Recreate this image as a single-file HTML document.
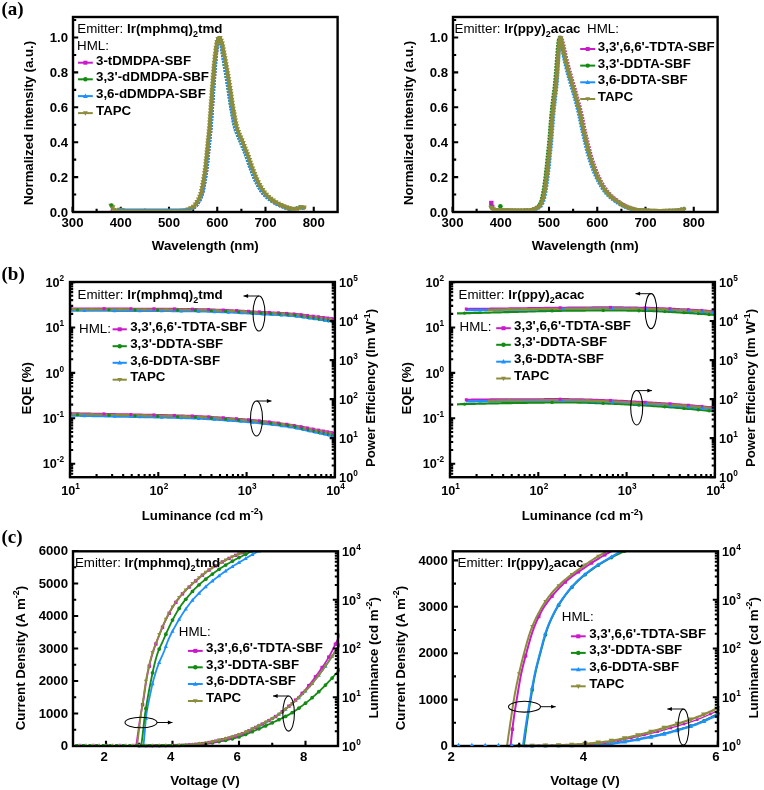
<!DOCTYPE html>
<html lang="en"><head><meta charset="utf-8"><title>Figure</title>
<style>html,body{margin:0;padding:0;background:#fff}svg{display:block}text{font-family:"Liberation Sans",Arial,Helvetica,sans-serif;fill:#000}.ser{font-family:"Liberation Serif","Times New Roman",serif}</style></head><body>
<svg width="764" height="790" viewBox="0 0 764 790">
<rect width="764" height="790" fill="#fff"/>
<defs><clipPath id="cb"><rect x="0" y="0" width="764" height="520.2"/></clipPath><filter id="soft" x="0" y="0" width="764" height="790" filterUnits="userSpaceOnUse"><feGaussianBlur stdDeviation="0.42"/></filter></defs>
<g filter="url(#soft)">
<text class="ser" x="1.5" y="14.9" font-size="19" font-weight="bold">(a)</text>
<text class="ser" x="1.5" y="279.7" font-size="19" font-weight="bold">(b)</text>
<text class="ser" x="1.5" y="542.9" font-size="19" font-weight="bold">(c)</text>
<clipPath id="ca73"><rect x="73" y="17" width="264.6" height="194.1"/></clipPath>
<rect x="73" y="17" width="264.6" height="195" stroke="#000" stroke-width="2.4" fill="none" stroke-linecap="square"/>
<path d="M73 212h5.2M73 177.1h5.2M73 142.2h5.2M73 107.3h5.2M73 72.4h5.2M73 37.5h5.2M73 194.55h3.2M73 159.65h3.2M73 124.75h3.2M73 89.85h3.2M73 54.95h3.2M73 20.05h3.2M72.5 212v-5.2M120.75 212v-5.2M169 212v-5.2M217.25 212v-5.2M265.5 212v-5.2M313.75 212v-5.2M96.62 212v-3.2M144.88 212v-3.2M193.12 212v-3.2M241.38 212v-3.2M289.62 212v-3.2" stroke="#000" stroke-width="2.1" fill="none"/>
<g clip-path="url(#ca73)">
<path d="M111.1 208.86 L111.58 209.04 L112.06 209.49 L112.55 209.97 L113.03 210.33 L113.51 210.54 L114 210.64 L114.48 210.69 L114.96 210.72 L115.44 210.74 L115.92 210.76 L116.41 210.78 L116.89 210.8 L117.37 210.82 L117.85 210.84 L118.34 210.86 L118.82 210.87 L119.3 210.89 L119.78 210.9 L120.27 210.92 L120.75 210.93 L121.23 210.94 L121.72 210.95 L122.2 210.95 L122.68 210.96 L123.16 210.97 L123.64 210.97 L124.13 210.98 L124.61 210.99 L125.09 210.99 L125.57 211 L126.06 211 L126.54 211.01 L127.02 211.01 L127.5 211.02 L127.99 211.02 L128.47 211.03 L128.95 211.03 L129.44 211.04 L129.92 211.04 L130.4 211.05 L130.88 211.05 L131.37 211.06 L131.85 211.06 L132.33 211.07 L132.81 211.07 L133.29 211.07 L133.78 211.08 L134.26 211.08 L134.74 211.08 L135.22 211.09 L135.71 211.09 L136.19 211.09 L136.67 211.1 L137.16 211.1 L137.64 211.1 L138.12 211.11 L138.6 211.11 L139.08 211.11 L139.57 211.11 L140.05 211.11 L140.53 211.12 L141.01 211.12 L141.5 211.12 L141.98 211.12 L142.46 211.12 L142.94 211.12 L143.43 211.12 L143.91 211.13 L144.39 211.13 L144.88 211.13 L145.36 211.13 L145.84 211.13 L146.32 211.13 L146.81 211.13 L147.29 211.13 L147.77 211.13 L148.25 211.13 L148.74 211.13 L149.22 211.13 L149.7 211.13 L150.18 211.13 L150.66 211.13 L151.15 211.13 L151.63 211.13 L152.11 211.13 L152.59 211.13 L153.08 211.13 L153.56 211.13 L154.04 211.13 L154.52 211.13 L155.01 211.13 L155.49 211.13 L155.97 211.13 L156.45 211.13 L156.94 211.13 L157.42 211.13 L157.9 211.13 L158.38 211.13 L158.87 211.13 L159.35 211.13 L159.83 211.13 L160.31 211.13 L160.8 211.13 L161.28 211.13 L161.76 211.13 L162.25 211.13 L162.73 211.13 L163.21 211.13 L163.69 211.13 L164.18 211.13 L164.66 211.13 L165.14 211.13 L165.62 211.13 L166.11 211.13 L166.59 211.13 L167.07 211.13 L167.55 211.13 L168.03 211.13 L168.52 211.13 L169 211.13 L169.48 211.13 L169.97 211.13 L170.45 211.13 L170.93 211.13 L171.41 211.13 L171.89 211.12 L172.38 211.12 L172.86 211.12 L173.34 211.11 L173.82 211.11 L174.31 211.1 L174.79 211.1 L175.27 211.09 L175.75 211.08 L176.24 211.08 L176.72 211.07 L177.2 211.06 L177.69 211.05 L178.17 211.03 L178.65 211.02 L179.13 211.01 L179.62 210.99 L180.1 210.98 L180.58 210.96 L181.06 210.94 L181.55 210.93 L182.03 210.91 L182.51 210.89 L182.99 210.87 L183.47 210.85 L183.96 210.82 L184.44 210.8 L184.92 210.77 L185.41 210.72 L185.89 210.63 L186.37 210.52 L186.85 210.38 L187.33 210.22 L187.82 210.05 L188.3 209.87 L188.78 209.7 L189.26 209.52 L189.75 209.35 L190.23 209.17 L190.71 208.98 L191.19 208.79 L191.68 208.58 L192.16 208.36 L192.64 208.12 L193.12 207.86 L193.61 207.59 L194.09 207.29 L194.57 206.97 L195.06 206.63 L195.54 206.23 L196.02 205.74 L196.5 205.18 L196.99 204.55 L197.47 203.86 L197.95 203.12 L198.43 202.34 L198.91 201.52 L199.4 200.67 L199.88 199.74 L200.36 198.72 L200.84 197.61 L201.33 196.37 L201.81 195.01 L202.29 193.5 L202.78 191.69 L203.26 189.48 L203.74 186.98 L204.22 184.3 L204.7 181.52 L205.19 178.73 L205.67 175.81 L206.15 172.67 L206.63 169.19 L207.12 165.17 L207.6 160.27 L208.08 155.14 L208.56 150.26 L209.05 145.39 L209.53 140.51 L210.01 135.86 L210.5 131.01 L210.98 125.1 L211.46 117.82 L211.94 110.89 L212.42 104.14 L212.91 97.04 L213.39 89.78 L213.87 82.89 L214.35 76.42 L214.84 70.02 L215.32 63.93 L215.8 58.41 L216.28 53.62 L216.77 49.03 L217.25 45 L217.73 42.07 L218.22 40.08 L218.7 38.43 L219.18 37.55 L219.66 37.76 L220.14 38.8 L220.63 40.32 L221.11 41.99 L221.59 44.16 L222.07 46.99 L222.56 50.14 L223.04 53.33 L223.52 56.33 L224 59.19 L224.49 62.06 L224.97 64.93 L225.45 67.82 L225.94 70.72 L226.42 73.64 L226.9 76.57 L227.38 79.5 L227.87 82.46 L228.35 85.49 L228.83 88.63 L229.31 91.84 L229.79 95.09 L230.28 98.34 L230.76 101.55 L231.24 104.67 L231.72 107.69 L232.21 110.55 L232.69 113.27 L233.17 115.99 L233.66 118.67 L234.14 121.25 L234.62 123.66 L235.1 125.84 L235.59 127.73 L236.07 129.33 L236.55 130.78 L237.03 132.11 L237.51 133.34 L238 134.49 L238.48 135.59 L238.96 136.65 L239.44 137.7 L239.93 138.77 L240.41 139.87 L240.89 141.03 L241.38 142.23 L241.86 143.43 L242.34 144.61 L242.82 145.8 L243.31 146.99 L243.79 148.18 L244.27 149.38 L244.75 150.6 L245.23 151.83 L245.72 153.09 L246.2 154.37 L246.68 155.69 L247.16 157.06 L247.65 158.45 L248.13 159.87 L248.61 161.29 L249.09 162.71 L249.58 164.11 L250.06 165.48 L250.54 166.81 L251.03 168.1 L251.51 169.39 L251.99 170.68 L252.47 171.96 L252.95 173.23 L253.44 174.47 L253.92 175.69 L254.4 176.87 L254.88 178 L255.37 179.09 L255.85 180.12 L256.33 181.1 L256.81 182.06 L257.3 183.01 L257.78 183.95 L258.26 184.86 L258.75 185.76 L259.23 186.64 L259.71 187.49 L260.19 188.32 L260.67 189.12 L261.16 189.88 L261.64 190.62 L262.12 191.33 L262.61 192 L263.09 192.63 L263.57 193.22 L264.05 193.78 L264.53 194.31 L265.02 194.82 L265.5 195.32 L265.98 195.8 L266.47 196.27 L266.95 196.72 L267.43 197.16 L267.91 197.58 L268.39 197.99 L268.88 198.38 L269.36 198.77 L269.84 199.14 L270.32 199.51 L270.81 199.86 L271.29 200.21 L271.77 200.54 L272.25 200.87 L272.74 201.2 L273.22 201.51 L273.7 201.82 L274.19 202.13 L274.67 202.42 L275.15 202.71 L275.63 203 L276.12 203.27 L276.6 203.54 L277.08 203.8 L277.56 204.06 L278.04 204.31 L278.53 204.55 L279.01 204.78 L279.49 205.01 L279.98 205.23 L280.46 205.44 L280.94 205.64 L281.42 205.84 L281.9 206.03 L282.39 206.23 L282.87 206.43 L283.35 206.63 L283.83 206.82 L284.32 207.01 L284.8 207.2 L285.28 207.38 L285.76 207.56 L286.25 207.72 L286.73 207.88 L287.21 208.03 L287.69 208.17 L288.18 208.29 L288.66 208.41 L289.14 208.51 L289.62 208.59 L290.11 208.66 L290.59 208.72 L291.07 208.77 L291.56 208.82 L292.04 208.87 L292.52 208.91 L293 208.95 L293.49 208.98 L293.97 209.01 L294.45 209.02 L294.93 209.03 L295.41 209.02 L295.9 208.93 L296.38 208.79 L296.86 208.6 L297.35 208.37 L297.83 208.14 L298.31 207.9 L298.79 207.69 L299.27 207.5 L299.76 207.37 L300.24 207.3 L300.72 207.29 L301.2 207.32 L301.69 207.38 L302.17 207.46 L302.65 207.57 L303.13 207.71 L303.62 207.88 L304.1 208.07 L304.58 208.16" stroke="#c91ac9" stroke-width="3.8" fill="none" stroke-linejoin="round" stroke-dasharray="1.8 1.2"/>
<path d="M111.1 208.73 L111.58 208.51 L112.06 208.73 L112.55 209.28 L113.03 209.87 L113.51 210.31 L114 210.56 L114.48 210.67 L114.96 210.72 L115.44 210.75 L115.92 210.77 L116.41 210.79 L116.89 210.81 L117.37 210.83 L117.85 210.85 L118.34 210.87 L118.82 210.88 L119.3 210.9 L119.78 210.91 L120.27 210.92 L120.75 210.93 L121.23 210.94 L121.72 210.95 L122.2 210.96 L122.68 210.96 L123.16 210.97 L123.64 210.98 L124.13 210.98 L124.61 210.99 L125.09 210.99 L125.57 211 L126.06 211.01 L126.54 211.01 L127.02 211.02 L127.5 211.02 L127.99 211.03 L128.47 211.03 L128.95 211.04 L129.44 211.04 L129.92 211.05 L130.4 211.05 L130.88 211.06 L131.37 211.06 L131.85 211.06 L132.33 211.07 L132.81 211.07 L133.29 211.08 L133.78 211.08 L134.26 211.08 L134.74 211.09 L135.22 211.09 L135.71 211.09 L136.19 211.1 L136.67 211.1 L137.16 211.1 L137.64 211.1 L138.12 211.11 L138.6 211.11 L139.08 211.11 L139.57 211.11 L140.05 211.12 L140.53 211.12 L141.01 211.12 L141.5 211.12 L141.98 211.12 L142.46 211.12 L142.94 211.12 L143.43 211.13 L143.91 211.13 L144.39 211.13 L144.88 211.13 L145.36 211.13 L145.84 211.13 L146.32 211.13 L146.81 211.13 L147.29 211.13 L147.77 211.13 L148.25 211.13 L148.74 211.13 L149.22 211.13 L149.7 211.13 L150.18 211.13 L150.66 211.13 L151.15 211.13 L151.63 211.13 L152.11 211.13 L152.59 211.13 L153.08 211.13 L153.56 211.13 L154.04 211.13 L154.52 211.13 L155.01 211.13 L155.49 211.13 L155.97 211.13 L156.45 211.13 L156.94 211.13 L157.42 211.13 L157.9 211.13 L158.38 211.13 L158.87 211.13 L159.35 211.13 L159.83 211.13 L160.31 211.13 L160.8 211.13 L161.28 211.13 L161.76 211.13 L162.25 211.13 L162.73 211.13 L163.21 211.13 L163.69 211.13 L164.18 211.13 L164.66 211.13 L165.14 211.13 L165.62 211.13 L166.11 211.13 L166.59 211.13 L167.07 211.13 L167.55 211.13 L168.03 211.13 L168.52 211.13 L169 211.13 L169.48 211.13 L169.97 211.13 L170.45 211.13 L170.93 211.13 L171.41 211.12 L171.89 211.12 L172.38 211.12 L172.86 211.12 L173.34 211.11 L173.82 211.11 L174.31 211.1 L174.79 211.09 L175.27 211.09 L175.75 211.08 L176.24 211.07 L176.72 211.06 L177.2 211.05 L177.69 211.04 L178.17 211.03 L178.65 211.01 L179.13 211 L179.62 210.98 L180.1 210.97 L180.58 210.95 L181.06 210.93 L181.55 210.92 L182.03 210.9 L182.51 210.88 L182.99 210.85 L183.47 210.83 L183.96 210.81 L184.44 210.78 L184.92 210.75 L185.41 210.67 L185.89 210.57 L186.37 210.44 L186.85 210.28 L187.33 210.12 L187.82 209.95 L188.3 209.77 L188.78 209.59 L189.26 209.42 L189.75 209.24 L190.23 209.06 L190.71 208.87 L191.19 208.66 L191.68 208.45 L192.16 208.22 L192.64 207.97 L193.12 207.7 L193.61 207.41 L194.09 207.1 L194.57 206.77 L195.06 206.4 L195.54 205.95 L196.02 205.41 L196.5 204.81 L196.99 204.14 L197.47 203.42 L197.95 202.66 L198.43 201.85 L198.91 201.02 L199.4 200.12 L199.88 199.14 L200.36 198.07 L200.84 196.88 L201.33 195.57 L201.81 194.12 L202.29 192.46 L202.78 190.4 L203.26 188.01 L203.74 185.39 L204.22 182.63 L204.7 179.85 L205.19 177 L205.67 173.96 L206.15 170.63 L206.63 166.89 L207.12 162.3 L207.6 157.17 L208.08 152.21 L208.56 147.34 L209.05 142.46 L209.53 137.7 L210.01 133.03 L210.5 127.69 L210.98 120.79 L211.46 113.6 L211.94 106.86 L212.42 99.94 L212.91 92.68 L213.39 85.58 L213.87 79.02 L214.35 72.56 L214.84 66.3 L215.32 60.51 L215.8 55.46 L216.28 50.76 L216.77 46.42 L217.25 42.97 L217.73 40.75 L218.22 38.9 L218.7 37.7 L219.18 37.61 L219.66 38.52 L220.14 40.04 L220.63 41.79 L221.11 44 L221.59 46.96 L222.07 50.29 L222.56 53.64 L223.04 56.75 L223.52 59.74 L224 62.72 L224.49 65.69 L224.97 68.66 L225.45 71.63 L225.94 74.6 L226.42 77.58 L226.9 80.55 L227.38 83.55 L227.87 86.65 L228.35 89.84 L228.83 93.09 L229.31 96.35 L229.79 99.6 L230.28 102.78 L230.76 105.88 L231.24 108.84 L231.72 111.64 L232.21 114.35 L232.69 117.07 L233.17 119.71 L233.66 122.23 L234.14 124.56 L234.62 126.63 L235.1 128.39 L235.59 129.93 L236.07 131.33 L236.55 132.61 L237.03 133.81 L237.51 134.93 L238 136.01 L238.48 137.07 L238.96 138.13 L239.44 139.2 L239.93 140.33 L240.41 141.51 L240.89 142.71 L241.38 143.9 L241.86 145.09 L242.34 146.27 L242.82 147.46 L243.31 148.66 L243.79 149.87 L244.27 151.09 L244.75 152.33 L245.23 153.6 L245.72 154.89 L246.2 156.23 L246.68 157.61 L247.16 159.02 L247.65 160.44 L248.13 161.86 L248.61 163.27 L249.09 164.66 L249.58 166.02 L250.06 167.33 L250.54 168.62 L251.03 169.91 L251.51 171.2 L251.99 172.47 L252.47 173.73 L252.95 174.96 L253.44 176.17 L253.92 177.33 L254.4 178.45 L254.88 179.51 L255.37 180.51 L255.85 181.48 L256.33 182.44 L256.81 183.39 L257.3 184.32 L257.78 185.23 L258.26 186.11 L258.75 186.98 L259.23 187.82 L259.71 188.64 L260.19 189.43 L260.67 190.18 L261.16 190.91 L261.64 191.6 L262.12 192.25 L262.61 192.87 L263.09 193.45 L263.57 193.99 L264.05 194.52 L264.53 195.03 L265.02 195.52 L265.5 195.99 L265.98 196.45 L266.47 196.9 L266.95 197.33 L267.43 197.74 L267.91 198.15 L268.39 198.54 L268.88 198.92 L269.36 199.29 L269.84 199.65 L270.32 200 L270.81 200.34 L271.29 200.68 L271.77 201 L272.25 201.32 L272.74 201.64 L273.22 201.94 L273.7 202.25 L274.19 202.54 L274.67 202.83 L275.15 203.11 L275.63 203.38 L276.12 203.65 L276.6 203.91 L277.08 204.16 L277.56 204.41 L278.04 204.64 L278.53 204.87 L279.01 205.1 L279.49 205.31 L279.98 205.52 L280.46 205.72 L280.94 205.91 L281.42 206.11 L281.9 206.31 L282.39 206.51 L282.87 206.71 L283.35 206.9 L283.83 207.09 L284.32 207.27 L284.8 207.45 L285.28 207.62 L285.76 207.79 L286.25 207.94 L286.73 208.09 L287.21 208.22 L287.69 208.34 L288.18 208.45 L288.66 208.54 L289.14 208.62 L289.62 208.68 L290.11 208.74 L290.59 208.79 L291.07 208.84 L291.56 208.88 L292.04 208.93 L292.52 208.96 L293 208.99 L293.49 209.01 L293.97 209.03 L294.45 209.03 L294.93 208.99 L295.41 208.88 L295.9 208.71 L296.38 208.51 L296.86 208.28 L297.35 208.04 L297.83 207.81 L298.31 207.61 L298.79 207.44 L299.27 207.33 L299.76 207.29 L300.24 207.3 L300.72 207.34 L301.2 207.41 L301.69 207.5 L302.17 207.63 L302.65 207.78 L303.13 207.95 L303.62 208.16 L304.1 208.16 L304.58 208.16" stroke="#128a12" stroke-width="3.8" fill="none" stroke-linejoin="round" stroke-dasharray="1.8 1.2"/>
<path d="M111.1 209.04 L111.58 208.86 L112.06 209.04 L112.55 209.49 L113.03 209.99 L113.51 210.36 L114 210.57 L114.48 210.66 L114.96 210.71 L115.44 210.74 L115.92 210.76 L116.41 210.78 L116.89 210.8 L117.37 210.82 L117.85 210.84 L118.34 210.86 L118.82 210.87 L119.3 210.89 L119.78 210.9 L120.27 210.92 L120.75 210.93 L121.23 210.94 L121.72 210.95 L122.2 210.95 L122.68 210.96 L123.16 210.97 L123.64 210.97 L124.13 210.98 L124.61 210.99 L125.09 210.99 L125.57 211 L126.06 211 L126.54 211.01 L127.02 211.01 L127.5 211.02 L127.99 211.02 L128.47 211.03 L128.95 211.03 L129.44 211.04 L129.92 211.04 L130.4 211.05 L130.88 211.05 L131.37 211.06 L131.85 211.06 L132.33 211.07 L132.81 211.07 L133.29 211.07 L133.78 211.08 L134.26 211.08 L134.74 211.08 L135.22 211.09 L135.71 211.09 L136.19 211.09 L136.67 211.1 L137.16 211.1 L137.64 211.1 L138.12 211.11 L138.6 211.11 L139.08 211.11 L139.57 211.11 L140.05 211.11 L140.53 211.12 L141.01 211.12 L141.5 211.12 L141.98 211.12 L142.46 211.12 L142.94 211.12 L143.43 211.12 L143.91 211.13 L144.39 211.13 L144.88 211.13 L145.36 211.13 L145.84 211.13 L146.32 211.13 L146.81 211.13 L147.29 211.13 L147.77 211.13 L148.25 211.13 L148.74 211.13 L149.22 211.13 L149.7 211.13 L150.18 211.13 L150.66 211.13 L151.15 211.13 L151.63 211.13 L152.11 211.13 L152.59 211.13 L153.08 211.13 L153.56 211.13 L154.04 211.13 L154.52 211.13 L155.01 211.13 L155.49 211.13 L155.97 211.13 L156.45 211.13 L156.94 211.13 L157.42 211.13 L157.9 211.13 L158.38 211.13 L158.87 211.13 L159.35 211.13 L159.83 211.13 L160.31 211.13 L160.8 211.13 L161.28 211.13 L161.76 211.13 L162.25 211.13 L162.73 211.13 L163.21 211.13 L163.69 211.13 L164.18 211.13 L164.66 211.13 L165.14 211.13 L165.62 211.13 L166.11 211.13 L166.59 211.13 L167.07 211.13 L167.55 211.13 L168.03 211.13 L168.52 211.13 L169 211.13 L169.48 211.13 L169.97 211.13 L170.45 211.13 L170.93 211.13 L171.41 211.13 L171.89 211.12 L172.38 211.12 L172.86 211.12 L173.34 211.11 L173.82 211.11 L174.31 211.1 L174.79 211.1 L175.27 211.09 L175.75 211.08 L176.24 211.08 L176.72 211.07 L177.2 211.06 L177.69 211.05 L178.17 211.03 L178.65 211.02 L179.13 211.01 L179.62 210.99 L180.1 210.98 L180.58 210.96 L181.06 210.94 L181.55 210.93 L182.03 210.91 L182.51 210.89 L182.99 210.87 L183.47 210.85 L183.96 210.82 L184.44 210.8 L184.92 210.77 L185.41 210.72 L185.89 210.63 L186.37 210.52 L186.85 210.38 L187.33 210.22 L187.82 210.05 L188.3 209.87 L188.78 209.7 L189.26 209.52 L189.75 209.35 L190.23 209.17 L190.71 208.98 L191.19 208.79 L191.68 208.58 L192.16 208.36 L192.64 208.12 L193.12 207.86 L193.61 207.59 L194.09 207.29 L194.57 206.97 L195.06 206.63 L195.54 206.23 L196.02 205.74 L196.5 205.18 L196.99 204.55 L197.47 203.86 L197.95 203.12 L198.43 202.34 L198.91 201.52 L199.4 200.67 L199.88 199.74 L200.36 198.72 L200.84 197.61 L201.33 196.37 L201.81 195.01 L202.29 193.5 L202.78 191.69 L203.26 189.48 L203.74 186.98 L204.22 184.29 L204.7 181.52 L205.19 178.72 L205.67 175.81 L206.15 172.67 L206.63 169.19 L207.12 165.16 L207.6 160.26 L208.08 155.13 L208.56 150.24 L209.05 145.36 L209.53 140.48 L210.01 135.82 L210.5 130.96 L210.98 125.01 L211.46 117.7 L211.94 110.74 L212.42 103.95 L212.91 96.79 L213.39 89.48 L213.87 82.55 L214.35 75.99 L214.84 69.51 L215.32 63.34 L215.8 57.79 L216.28 52.93 L216.77 48.27 L217.25 44.29 L217.73 41.58 L218.22 39.57 L218.7 38.04 L219.18 37.5 L219.66 38.11 L220.14 39.46 L220.63 41.18 L221.11 43.13 L221.59 45.87 L222.07 49.1 L222.56 52.46 L223.04 55.67 L223.52 58.64 L224 61.61 L224.49 64.57 L224.97 67.53 L225.45 70.49 L225.94 73.45 L226.42 76.42 L226.9 79.39 L227.38 82.36 L227.87 85.41 L228.35 88.57 L228.83 91.79 L229.31 95.05 L229.79 98.31 L230.28 101.52 L230.76 104.66 L231.24 107.68 L231.72 110.54 L232.21 113.26 L232.69 115.99 L233.17 118.67 L233.66 121.25 L234.14 123.66 L234.62 125.84 L235.1 127.73 L235.59 129.33 L236.07 130.78 L236.55 132.11 L237.03 133.34 L237.51 134.49 L238 135.59 L238.48 136.65 L238.96 137.7 L239.44 138.77 L239.93 139.87 L240.41 141.03 L240.89 142.23 L241.38 143.43 L241.86 144.61 L242.34 145.8 L242.82 146.99 L243.31 148.18 L243.79 149.38 L244.27 150.6 L244.75 151.83 L245.23 153.09 L245.72 154.37 L246.2 155.69 L246.68 157.06 L247.16 158.45 L247.65 159.87 L248.13 161.29 L248.61 162.71 L249.09 164.11 L249.58 165.48 L250.06 166.81 L250.54 168.1 L251.03 169.39 L251.51 170.68 L251.99 171.96 L252.47 173.23 L252.95 174.47 L253.44 175.69 L253.92 176.87 L254.4 178 L254.88 179.09 L255.37 180.12 L255.85 181.1 L256.33 182.06 L256.81 183.01 L257.3 183.95 L257.78 184.86 L258.26 185.76 L258.75 186.64 L259.23 187.49 L259.71 188.32 L260.19 189.12 L260.67 189.88 L261.16 190.62 L261.64 191.33 L262.12 192 L262.61 192.63 L263.09 193.22 L263.57 193.78 L264.05 194.31 L264.53 194.82 L265.02 195.32 L265.5 195.8 L265.98 196.27 L266.47 196.72 L266.95 197.16 L267.43 197.58 L267.91 197.99 L268.39 198.38 L268.88 198.77 L269.36 199.14 L269.84 199.51 L270.32 199.86 L270.81 200.21 L271.29 200.54 L271.77 200.87 L272.25 201.2 L272.74 201.51 L273.22 201.82 L273.7 202.13 L274.19 202.42 L274.67 202.71 L275.15 203 L275.63 203.27 L276.12 203.54 L276.6 203.8 L277.08 204.06 L277.56 204.31 L278.04 204.55 L278.53 204.78 L279.01 205.01 L279.49 205.23 L279.98 205.44 L280.46 205.64 L280.94 205.84 L281.42 206.03 L281.9 206.23 L282.39 206.43 L282.87 206.63 L283.35 206.82 L283.83 207.01 L284.32 207.2 L284.8 207.38 L285.28 207.56 L285.76 207.72 L286.25 207.88 L286.73 208.03 L287.21 208.17 L287.69 208.29 L288.18 208.41 L288.66 208.51 L289.14 208.59 L289.62 208.66 L290.11 208.72 L290.59 208.77 L291.07 208.82 L291.56 208.87 L292.04 208.91 L292.52 208.95 L293 208.98 L293.49 209.01 L293.97 209.02 L294.45 209.03 L294.93 209.02 L295.41 208.93 L295.9 208.79 L296.38 208.6 L296.86 208.37 L297.35 208.14 L297.83 207.9 L298.31 207.69 L298.79 207.5 L299.27 207.37 L299.76 207.3 L300.24 207.29 L300.72 207.32 L301.2 207.38 L301.69 207.46 L302.17 207.57 L302.65 207.71 L303.13 207.88 L303.62 208.07 L304.1 208.16 L304.58 208.16" stroke="#1e90ff" stroke-width="3.8" fill="none" stroke-linejoin="round" stroke-dasharray="1.8 1.2"/>
<path d="M111.1 205.78 L111.58 205.39 L112.06 205.82 L112.55 206.89 L113.03 208.18 L113.51 209.29 L114 210.05 L114.48 210.48 L114.96 210.68 L115.44 210.77 L115.92 210.81 L116.41 210.82 L116.89 210.83 L117.37 210.8 L117.85 210.74 L118.34 210.61 L118.82 210.4 L119.3 210.13 L119.78 209.85 L120.27 209.63 L120.75 209.56 L121.23 209.65 L121.72 209.88 L122.2 210.18 L122.68 210.46 L123.16 210.69 L123.64 210.84 L124.13 210.93 L124.61 210.98 L125.09 211 L125.57 211.01 L126.06 211.02 L126.54 211.02 L127.02 211.03 L127.5 211.03 L127.99 211.04 L128.47 211.04 L128.95 211.05 L129.44 211.05 L129.92 211.06 L130.4 211.06 L130.88 211.06 L131.37 211.07 L131.85 211.07 L132.33 211.08 L132.81 211.08 L133.29 211.08 L133.78 211.09 L134.26 211.09 L134.74 211.09 L135.22 211.1 L135.71 211.1 L136.19 211.1 L136.67 211.11 L137.16 211.11 L137.64 211.11 L138.12 211.11 L138.6 211.11 L139.08 211.12 L139.57 211.12 L140.05 211.12 L140.53 211.12 L141.01 211.12 L141.5 211.12 L141.98 211.12 L142.46 211.13 L142.94 211.13 L143.43 211.13 L143.91 211.13 L144.39 211.13 L144.88 211.13 L145.36 211.13 L145.84 211.13 L146.32 211.13 L146.81 211.13 L147.29 211.13 L147.77 211.13 L148.25 211.13 L148.74 211.13 L149.22 211.13 L149.7 211.13 L150.18 211.13 L150.66 211.13 L151.15 211.13 L151.63 211.13 L152.11 211.13 L152.59 211.13 L153.08 211.13 L153.56 211.13 L154.04 211.13 L154.52 211.13 L155.01 211.13 L155.49 211.13 L155.97 211.13 L156.45 211.13 L156.94 211.13 L157.42 211.13 L157.9 211.13 L158.38 211.13 L158.87 211.13 L159.35 211.13 L159.83 211.13 L160.31 211.13 L160.8 211.13 L161.28 211.13 L161.76 211.13 L162.25 211.13 L162.73 211.13 L163.21 211.13 L163.69 211.13 L164.18 211.13 L164.66 211.13 L165.14 211.13 L165.62 211.13 L166.11 211.13 L166.59 211.13 L167.07 211.13 L167.55 211.13 L168.03 211.13 L168.52 211.13 L169 211.13 L169.48 211.13 L169.97 211.13 L170.45 211.12 L170.93 211.12 L171.41 211.12 L171.89 211.12 L172.38 211.11 L172.86 211.11 L173.34 211.1 L173.82 211.09 L174.31 211.09 L174.79 211.08 L175.27 211.07 L175.75 211.06 L176.24 211.05 L176.72 211.04 L177.2 211.02 L177.69 211.01 L178.17 211 L178.65 210.98 L179.13 210.97 L179.62 210.95 L180.1 210.93 L180.58 210.91 L181.06 210.89 L181.55 210.87 L182.03 210.85 L182.51 210.83 L182.99 210.8 L183.47 210.78 L183.96 210.73 L184.44 210.65 L184.92 210.54 L185.41 210.41 L185.89 210.25 L186.37 210.09 L186.85 209.91 L187.33 209.73 L187.82 209.56 L188.3 209.38 L188.78 209.21 L189.26 209.02 L189.75 208.83 L190.23 208.62 L190.71 208.4 L191.19 208.17 L191.68 207.92 L192.16 207.65 L192.64 207.35 L193.12 207.04 L193.61 206.7 L194.09 206.31 L194.57 205.85 L195.06 205.3 L195.54 204.68 L196.02 204 L196.5 203.27 L196.99 202.5 L197.47 201.69 L197.95 200.84 L198.43 199.93 L198.91 198.93 L199.4 197.84 L199.88 196.63 L200.36 195.3 L200.84 193.82 L201.33 192.09 L201.81 189.95 L202.29 187.5 L202.78 184.85 L203.26 182.08 L203.74 179.3 L204.22 176.43 L204.7 173.34 L205.19 169.95 L205.67 166.1 L206.15 161.36 L206.63 156.23 L207.12 151.33 L207.6 146.48 L208.08 141.64 L208.56 136.97 L209.05 132.3 L209.53 126.87 L210.01 119.94 L210.5 112.98 L210.98 106.44 L211.46 99.75 L211.94 92.82 L212.42 86.1 L212.91 79.95 L213.39 74.01 L213.87 68.3 L214.35 62.99 L214.84 58.26 L215.32 54.19 L215.8 50.33 L216.28 46.83 L216.77 43.92 L217.25 41.86 L217.73 40.33 L218.22 38.98 L218.7 37.98 L219.18 37.51 L219.66 37.68 L220.14 38.33 L220.63 39.34 L221.11 40.56 L221.59 41.86 L222.07 43.47 L222.56 45.59 L223.04 48.08 L223.52 50.78 L224 53.53 L224.49 56.17 L224.97 58.74 L225.45 61.37 L225.94 64.04 L226.42 66.76 L226.9 69.52 L227.38 72.31 L227.87 75.14 L228.35 78.01 L228.83 80.89 L229.31 83.82 L229.79 86.87 L230.28 90.02 L230.76 93.23 L231.24 96.46 L231.72 99.68 L232.21 102.85 L232.69 105.93 L233.17 108.88 L233.66 111.66 L234.14 114.37 L234.62 117.08 L235.1 119.73 L235.59 122.24 L236.07 124.57 L236.55 126.64 L237.03 128.39 L237.51 129.93 L238 131.33 L238.48 132.62 L238.96 133.81 L239.44 134.94 L239.93 136.01 L240.41 137.07 L240.89 138.13 L241.38 139.2 L241.86 140.33 L242.34 141.51 L242.82 142.71 L243.31 143.9 L243.79 145.09 L244.27 146.27 L244.75 147.46 L245.23 148.66 L245.72 149.87 L246.2 151.09 L246.68 152.33 L247.16 153.6 L247.65 154.89 L248.13 156.23 L248.61 157.61 L249.09 159.02 L249.58 160.44 L250.06 161.86 L250.54 163.27 L251.03 164.66 L251.51 166.02 L251.99 167.33 L252.47 168.62 L252.95 169.91 L253.44 171.2 L253.92 172.47 L254.4 173.73 L254.88 174.96 L255.37 176.17 L255.85 177.33 L256.33 178.45 L256.81 179.51 L257.3 180.51 L257.78 181.48 L258.26 182.44 L258.75 183.39 L259.23 184.32 L259.71 185.23 L260.19 186.11 L260.67 186.98 L261.16 187.82 L261.64 188.64 L262.12 189.43 L262.61 190.18 L263.09 190.91 L263.57 191.6 L264.05 192.25 L264.53 192.87 L265.02 193.45 L265.5 193.99 L265.98 194.52 L266.47 195.03 L266.95 195.52 L267.43 195.99 L267.91 196.45 L268.39 196.9 L268.88 197.33 L269.36 197.74 L269.84 198.15 L270.32 198.54 L270.81 198.92 L271.29 199.29 L271.77 199.65 L272.25 200 L272.74 200.34 L273.22 200.68 L273.7 201 L274.19 201.32 L274.67 201.64 L275.15 201.94 L275.63 202.25 L276.12 202.54 L276.6 202.83 L277.08 203.11 L277.56 203.38 L278.04 203.65 L278.53 203.91 L279.01 204.16 L279.49 204.41 L279.98 204.64 L280.46 204.87 L280.94 205.1 L281.42 205.31 L281.9 205.52 L282.39 205.72 L282.87 205.91 L283.35 206.11 L283.83 206.31 L284.32 206.51 L284.8 206.71 L285.28 206.9 L285.76 207.09 L286.25 207.27 L286.73 207.45 L287.21 207.62 L287.69 207.79 L288.18 207.94 L288.66 208.09 L289.14 208.22 L289.62 208.34 L290.11 208.45 L290.59 208.54 L291.07 208.62 L291.56 208.68 L292.04 208.74 L292.52 208.79 L293 208.84 L293.49 208.88 L293.97 208.93 L294.45 208.96 L294.93 208.99 L295.41 209.01 L295.9 209.03 L296.38 209.03 L296.86 208.99 L297.35 208.88 L297.83 208.71 L298.31 208.51 L298.79 208.28 L299.27 208.04 L299.76 207.81 L300.24 207.61 L300.72 207.44 L301.2 207.33 L301.69 207.29 L302.17 207.3 L302.65 207.34 L303.13 207.41 L303.62 207.5 L304.1 207.63 L304.58 207.78" stroke="#8c8c3c" stroke-width="3.4" fill="none" stroke-linejoin="round" stroke-linecap="round"/>
<path d="M111.1 208.77 L113.86 203.71 L108.34 203.71 Z" fill="#8c8c3c"/><path d="M112.74 210.41 L115.5 205.35 L109.98 205.35 Z" fill="#8c8c3c"/><path d="M114.05 213.09 L116.81 208.03 L111.29 208.03 Z" fill="#8c8c3c"/><path d="M116.85 213.82 L119.61 208.76 L114.09 208.76 Z" fill="#8c8c3c"/><path d="M119.66 212.91 L122.42 207.85 L116.9 207.85 Z" fill="#8c8c3c"/><path d="M122.41 213.29 L125.17 208.23 L119.65 208.23 Z" fill="#8c8c3c"/><path d="M125.28 213.99 L128.04 208.93 L122.52 208.93 Z" fill="#8c8c3c"/><path d="M128.28 214.03 L131.04 208.97 L125.52 208.97 Z" fill="#8c8c3c"/><path d="M131.28 214.06 L134.04 209 L128.52 209 Z" fill="#8c8c3c"/><path d="M134.28 214.08 L137.04 209.02 L131.52 209.02 Z" fill="#8c8c3c"/><path d="M137.28 214.1 L140.04 209.04 L134.52 209.04 Z" fill="#8c8c3c"/><path d="M140.28 214.11 L143.04 209.05 L137.52 209.05 Z" fill="#8c8c3c"/><path d="M143.28 214.12 L146.04 209.06 L140.52 209.06 Z" fill="#8c8c3c"/><path d="M146.28 214.12 L149.04 209.06 L143.52 209.06 Z" fill="#8c8c3c"/><path d="M149.28 214.12 L152.04 209.06 L146.52 209.06 Z" fill="#8c8c3c"/><path d="M152.28 214.12 L155.04 209.06 L149.52 209.06 Z" fill="#8c8c3c"/><path d="M155.28 214.12 L158.04 209.06 L152.52 209.06 Z" fill="#8c8c3c"/><path d="M158.28 214.12 L161.04 209.06 L155.52 209.06 Z" fill="#8c8c3c"/><path d="M161.28 214.12 L164.04 209.06 L158.52 209.06 Z" fill="#8c8c3c"/><path d="M164.28 214.12 L167.04 209.06 L161.52 209.06 Z" fill="#8c8c3c"/><path d="M167.28 214.12 L170.04 209.06 L164.52 209.06 Z" fill="#8c8c3c"/><path d="M170.28 214.12 L173.04 209.06 L167.52 209.06 Z" fill="#8c8c3c"/><path d="M173.28 214.09 L176.04 209.03 L170.52 209.03 Z" fill="#8c8c3c"/><path d="M176.28 214.04 L179.04 208.98 L173.52 208.98 Z" fill="#8c8c3c"/><path d="M179.28 213.95 L182.04 208.89 L176.52 208.89 Z" fill="#8c8c3c"/><path d="M182.28 213.83 L185.04 208.77 L179.52 208.77 Z" fill="#8c8c3c"/><path d="M185.24 213.44 L188 208.38 L182.48 208.38 Z" fill="#8c8c3c"/><path d="M188.07 212.46 L190.83 207.4 L185.31 207.4 Z" fill="#8c8c3c"/><path d="M190.85 211.32 L193.61 206.26 L188.09 206.26 Z" fill="#8c8c3c"/><path d="M193.44 209.81 L196.2 204.75 L190.68 204.75 Z" fill="#8c8c3c"/><path d="M195.53 207.68 L198.29 202.62 L192.77 202.62 Z" fill="#8c8c3c"/><path d="M197.17 205.17 L199.93 200.11 L194.41 200.11 Z" fill="#8c8c3c"/><path d="M198.62 202.54 L201.38 197.48 L195.86 197.48 Z" fill="#8c8c3c"/><path d="M199.81 199.79 L202.57 194.73 L197.05 194.73 Z" fill="#8c8c3c"/><path d="M200.8 196.96 L203.56 191.9 L198.04 191.9 Z" fill="#8c8c3c"/><path d="M201.56 194.06 L204.32 189 L198.8 189 Z" fill="#8c8c3c"/><path d="M202.17 191.12 L204.93 186.06 L199.41 186.06 Z" fill="#8c8c3c"/><path d="M202.71 188.17 L205.47 183.11 L199.95 183.11 Z" fill="#8c8c3c"/><path d="M203.23 185.22 L205.99 180.16 L200.47 180.16 Z" fill="#8c8c3c"/><path d="M203.74 182.26 L206.5 177.2 L200.98 177.2 Z" fill="#8c8c3c"/><path d="M204.24 179.3 L207 174.24 L201.48 174.24 Z" fill="#8c8c3c"/><path d="M204.7 176.34 L207.46 171.28 L201.94 171.28 Z" fill="#8c8c3c"/><path d="M205.13 173.37 L207.89 168.31 L202.37 168.31 Z" fill="#8c8c3c"/><path d="M205.51 170.39 L208.27 165.33 L202.75 165.33 Z" fill="#8c8c3c"/><path d="M205.84 167.41 L208.6 162.35 L203.08 162.35 Z" fill="#8c8c3c"/><path d="M206.14 164.43 L208.9 159.37 L203.38 159.37 Z" fill="#8c8c3c"/><path d="M206.43 161.44 L209.19 156.38 L203.67 156.38 Z" fill="#8c8c3c"/><path d="M206.71 158.45 L209.47 153.39 L203.95 153.39 Z" fill="#8c8c3c"/><path d="M207 155.47 L209.76 150.41 L204.24 150.41 Z" fill="#8c8c3c"/><path d="M207.3 152.48 L210.06 147.42 L204.54 147.42 Z" fill="#8c8c3c"/><path d="M207.6 149.5 L210.36 144.44 L204.84 144.44 Z" fill="#8c8c3c"/><path d="M207.89 146.51 L210.65 141.45 L205.13 141.45 Z" fill="#8c8c3c"/><path d="M208.2 143.53 L210.96 138.47 L205.44 138.47 Z" fill="#8c8c3c"/><path d="M208.5 140.54 L211.26 135.48 L205.74 135.48 Z" fill="#8c8c3c"/><path d="M208.81 137.56 L211.57 132.5 L206.05 132.5 Z" fill="#8c8c3c"/><path d="M209.11 134.57 L211.87 129.51 L206.35 129.51 Z" fill="#8c8c3c"/><path d="M209.38 131.59 L212.14 126.53 L206.62 126.53 Z" fill="#8c8c3c"/><path d="M209.62 128.6 L212.38 123.54 L206.86 123.54 Z" fill="#8c8c3c"/><path d="M209.83 125.6 L212.59 120.54 L207.07 120.54 Z" fill="#8c8c3c"/><path d="M210.03 122.61 L212.79 117.55 L207.27 117.55 Z" fill="#8c8c3c"/><path d="M210.24 119.62 L213 114.56 L207.48 114.56 Z" fill="#8c8c3c"/><path d="M210.45 116.63 L213.21 111.57 L207.69 111.57 Z" fill="#8c8c3c"/><path d="M210.67 113.63 L213.43 108.57 L207.91 108.57 Z" fill="#8c8c3c"/><path d="M210.89 110.64 L213.65 105.58 L208.13 105.58 Z" fill="#8c8c3c"/><path d="M211.11 107.65 L213.87 102.59 L208.35 102.59 Z" fill="#8c8c3c"/><path d="M211.32 104.66 L214.08 99.6 L208.56 99.6 Z" fill="#8c8c3c"/><path d="M211.53 101.66 L214.29 96.6 L208.77 96.6 Z" fill="#8c8c3c"/><path d="M211.74 98.67 L214.5 93.61 L208.98 93.61 Z" fill="#8c8c3c"/><path d="M211.95 95.68 L214.71 90.62 L209.19 90.62 Z" fill="#8c8c3c"/><path d="M212.17 92.69 L214.93 87.63 L209.41 87.63 Z" fill="#8c8c3c"/><path d="M212.38 89.69 L215.14 84.63 L209.62 84.63 Z" fill="#8c8c3c"/><path d="M212.61 86.7 L215.37 81.64 L209.85 81.64 Z" fill="#8c8c3c"/><path d="M212.85 83.71 L215.61 78.65 L210.09 78.65 Z" fill="#8c8c3c"/><path d="M213.09 80.72 L215.85 75.66 L210.33 75.66 Z" fill="#8c8c3c"/><path d="M213.33 77.73 L216.09 72.67 L210.57 72.67 Z" fill="#8c8c3c"/><path d="M213.58 74.74 L216.34 69.68 L210.82 69.68 Z" fill="#8c8c3c"/><path d="M213.83 71.75 L216.59 66.69 L211.07 66.69 Z" fill="#8c8c3c"/><path d="M214.1 68.77 L216.86 63.71 L211.34 63.71 Z" fill="#8c8c3c"/><path d="M214.38 65.78 L217.14 60.72 L211.62 60.72 Z" fill="#8c8c3c"/><path d="M214.68 62.79 L217.44 57.73 L211.92 57.73 Z" fill="#8c8c3c"/><path d="M215.01 59.81 L217.77 54.75 L212.25 54.75 Z" fill="#8c8c3c"/><path d="M215.36 56.83 L218.12 51.77 L212.6 51.77 Z" fill="#8c8c3c"/><path d="M215.74 53.86 L218.5 48.8 L212.98 48.8 Z" fill="#8c8c3c"/><path d="M216.14 50.88 L218.9 45.82 L213.38 45.82 Z" fill="#8c8c3c"/><path d="M216.6 47.92 L219.36 42.86 L213.84 42.86 Z" fill="#8c8c3c"/><path d="M217.22 44.98 L219.98 39.92 L214.46 39.92 Z" fill="#8c8c3c"/><path d="M218.16 42.14 L220.92 37.08 L215.4 37.08 Z" fill="#8c8c3c"/><path d="M219.98 41.1 L222.74 36.04 L217.22 36.04 Z" fill="#8c8c3c"/><path d="M221.21 43.83 L223.97 38.77 L218.45 38.77 Z" fill="#8c8c3c"/><path d="M222.13 46.68 L224.89 41.62 L219.37 41.62 Z" fill="#8c8c3c"/><path d="M222.76 49.61 L225.52 44.55 L220 44.55 Z" fill="#8c8c3c"/><path d="M223.31 52.56 L226.07 47.5 L220.55 47.5 Z" fill="#8c8c3c"/><path d="M223.83 55.52 L226.59 50.46 L221.07 50.46 Z" fill="#8c8c3c"/><path d="M224.36 58.47 L227.12 53.41 L221.6 53.41 Z" fill="#8c8c3c"/><path d="M224.91 61.42 L227.67 56.36 L222.15 56.36 Z" fill="#8c8c3c"/><path d="M225.45 64.37 L228.21 59.31 L222.69 59.31 Z" fill="#8c8c3c"/><path d="M225.99 67.32 L228.75 62.26 L223.23 62.26 Z" fill="#8c8c3c"/><path d="M226.51 70.27 L229.27 65.21 L223.75 65.21 Z" fill="#8c8c3c"/><path d="M227.02 73.23 L229.78 68.17 L224.26 68.17 Z" fill="#8c8c3c"/><path d="M227.53 76.19 L230.29 71.13 L224.77 71.13 Z" fill="#8c8c3c"/><path d="M228.04 79.14 L230.8 74.08 L225.28 74.08 Z" fill="#8c8c3c"/><path d="M228.53 82.1 L231.29 77.04 L225.77 77.04 Z" fill="#8c8c3c"/><path d="M229.02 85.06 L231.78 80 L226.26 80 Z" fill="#8c8c3c"/><path d="M229.5 88.02 L232.26 82.96 L226.74 82.96 Z" fill="#8c8c3c"/><path d="M229.97 90.99 L232.73 85.93 L227.21 85.93 Z" fill="#8c8c3c"/><path d="M230.42 93.95 L233.18 88.89 L227.66 88.89 Z" fill="#8c8c3c"/><path d="M230.87 96.92 L233.63 91.86 L228.11 91.86 Z" fill="#8c8c3c"/><path d="M231.31 99.89 L234.07 94.83 L228.55 94.83 Z" fill="#8c8c3c"/><path d="M231.75 102.85 L234.51 97.79 L228.99 97.79 Z" fill="#8c8c3c"/><path d="M232.2 105.82 L234.96 100.76 L229.44 100.76 Z" fill="#8c8c3c"/><path d="M232.67 108.78 L235.43 103.72 L229.91 103.72 Z" fill="#8c8c3c"/><path d="M233.15 111.74 L235.91 106.68 L230.39 106.68 Z" fill="#8c8c3c"/><path d="M233.66 114.7 L236.42 109.64 L230.9 109.64 Z" fill="#8c8c3c"/><path d="M234.19 117.65 L236.95 112.59 L231.43 112.59 Z" fill="#8c8c3c"/><path d="M234.72 120.61 L237.48 115.55 L231.96 115.55 Z" fill="#8c8c3c"/><path d="M235.26 123.56 L238.02 118.5 L232.5 118.5 Z" fill="#8c8c3c"/><path d="M235.85 126.5 L238.61 121.44 L233.09 121.44 Z" fill="#8c8c3c"/><path d="M236.5 129.43 L239.26 124.37 L233.74 124.37 Z" fill="#8c8c3c"/><path d="M237.32 132.31 L240.08 127.25 L234.56 127.25 Z" fill="#8c8c3c"/><path d="M238.31 135.15 L241.07 130.09 L235.55 130.09 Z" fill="#8c8c3c"/><path d="M239.44 137.92 L242.2 132.86 L236.68 132.86 Z" fill="#8c8c3c"/><path d="M240.68 140.65 L243.44 135.59 L237.92 135.59 Z" fill="#8c8c3c"/><path d="M241.89 143.4 L244.65 138.34 L239.13 138.34 Z" fill="#8c8c3c"/><path d="M243.02 146.18 L245.78 141.12 L240.26 141.12 Z" fill="#8c8c3c"/><path d="M244.15 148.96 L246.91 143.9 L241.39 143.9 Z" fill="#8c8c3c"/><path d="M245.27 151.74 L248.03 146.68 L242.51 146.68 Z" fill="#8c8c3c"/><path d="M246.37 154.53 L249.13 149.47 L243.61 149.47 Z" fill="#8c8c3c"/><path d="M247.44 157.33 L250.2 152.27 L244.68 152.27 Z" fill="#8c8c3c"/><path d="M248.46 160.16 L251.22 155.1 L245.7 155.1 Z" fill="#8c8c3c"/><path d="M249.43 162.99 L252.19 157.93 L246.67 157.93 Z" fill="#8c8c3c"/><path d="M250.4 165.83 L253.16 160.77 L247.64 160.77 Z" fill="#8c8c3c"/><path d="M251.39 168.67 L254.15 163.61 L248.63 163.61 Z" fill="#8c8c3c"/><path d="M252.43 171.48 L255.19 166.42 L249.67 166.42 Z" fill="#8c8c3c"/><path d="M253.48 174.29 L256.24 169.23 L250.72 169.23 Z" fill="#8c8c3c"/><path d="M254.55 177.09 L257.31 172.03 L251.79 172.03 Z" fill="#8c8c3c"/><path d="M255.67 179.88 L258.43 174.82 L252.91 174.82 Z" fill="#8c8c3c"/><path d="M256.87 182.62 L259.63 177.56 L254.11 177.56 Z" fill="#8c8c3c"/><path d="M258.2 185.31 L260.96 180.25 L255.44 180.25 Z" fill="#8c8c3c"/><path d="M259.58 187.98 L262.34 182.92 L256.82 182.92 Z" fill="#8c8c3c"/><path d="M261.04 190.6 L263.8 185.54 L258.28 185.54 Z" fill="#8c8c3c"/><path d="M262.6 193.16 L265.36 188.1 L259.84 188.1 Z" fill="#8c8c3c"/><path d="M264.33 195.61 L267.09 190.55 L261.57 190.55 Z" fill="#8c8c3c"/><path d="M266.31 197.86 L269.07 192.8 L263.55 192.8 Z" fill="#8c8c3c"/><path d="M268.46 199.95 L271.22 194.89 L265.7 194.89 Z" fill="#8c8c3c"/><path d="M270.76 201.88 L273.52 196.82 L268 196.82 Z" fill="#8c8c3c"/><path d="M273.19 203.64 L275.95 198.58 L270.43 198.58 Z" fill="#8c8c3c"/><path d="M275.7 205.28 L278.46 200.22 L272.94 200.22 Z" fill="#8c8c3c"/><path d="M278.3 206.78 L281.06 201.72 L275.54 201.72 Z" fill="#8c8c3c"/><path d="M280.99 208.11 L283.75 203.05 L278.23 203.05 Z" fill="#8c8c3c"/><path d="M283.75 209.27 L286.51 204.21 L280.99 204.21 Z" fill="#8c8c3c"/><path d="M286.54 210.37 L289.3 205.31 L283.78 205.31 Z" fill="#8c8c3c"/><path d="M289.4 211.28 L292.16 206.22 L286.64 206.22 Z" fill="#8c8c3c"/><path d="M292.36 211.76 L295.12 206.7 L289.6 206.7 Z" fill="#8c8c3c"/><path d="M295.35 212 L298.11 206.94 L292.59 206.94 Z" fill="#8c8c3c"/><path d="M298.27 211.52 L301.03 206.46 L295.51 206.46 Z" fill="#8c8c3c"/><path d="M301.03 210.36 L303.79 205.3 L298.27 205.3 Z" fill="#8c8c3c"/><path d="M303.99 210.59 L306.75 205.53 L301.23 205.53 Z" fill="#8c8c3c"/>
<circle cx="111.3" cy="204.9" r="1.76" fill="#128a12"/>
<path d="M117 208.8H190.71" stroke="#1e90ff" stroke-width="0.8" fill="none"/>
</g>
<text x="68" y="216.7" font-size="13.2" text-anchor="end" font-weight="bold" >0.0</text>
<text x="68" y="181.8" font-size="13.2" text-anchor="end" font-weight="bold" >0.2</text>
<text x="68" y="146.9" font-size="13.2" text-anchor="end" font-weight="bold" >0.4</text>
<text x="68" y="112" font-size="13.2" text-anchor="end" font-weight="bold" >0.6</text>
<text x="68" y="77.1" font-size="13.2" text-anchor="end" font-weight="bold" >0.8</text>
<text x="68" y="42.2" font-size="13.2" text-anchor="end" font-weight="bold" >1.0</text>
<text x="72.5" y="227.3" font-size="13.2" text-anchor="middle" font-weight="bold" >300</text>
<text x="120.75" y="227.3" font-size="13.2" text-anchor="middle" font-weight="bold" >400</text>
<text x="169" y="227.3" font-size="13.2" text-anchor="middle" font-weight="bold" >500</text>
<text x="217.25" y="227.3" font-size="13.2" text-anchor="middle" font-weight="bold" >600</text>
<text x="265.5" y="227.3" font-size="13.2" text-anchor="middle" font-weight="bold" >700</text>
<text x="313.75" y="227.3" font-size="13.2" text-anchor="middle" font-weight="bold" >800</text>
<text x="205.3" y="249.9" font-size="13.35" text-anchor="middle" font-weight="bold" >Wavelength (nm)</text>
<text transform="translate(32.7 123) rotate(-90)" font-size="13.2" text-anchor="middle" font-weight="bold">Normalized intensity (a.u.)</text>
<text x="77.3" y="32.5" font-size="13.35"><tspan font-weight="normal">Emitter: </tspan><tspan font-weight="bold">Ir(mphmq)<tspan dy="4.2" font-size="9">2</tspan><tspan dy="-4.2">tmd</tspan></tspan></text>
<text x="77.1" y="50.3" font-size="13.35" text-anchor="start" font-weight="normal" >HML:</text>
<path d="M78 62.7 H92.8" stroke="#c91ac9" stroke-width="2" fill="none"/>
<rect x="83.4" y="60.7" width="4" height="4" fill="#c91ac9"/>
<text x="96" y="64.5" font-size="13.3" text-anchor="start" font-weight="bold" >3-tDMDPA-SBF</text>
<path d="M78 79.3 H92.8" stroke="#128a12" stroke-width="2" fill="none"/>
<circle cx="85.4" cy="79.3" r="2.2" fill="#128a12"/>
<text x="96" y="81" font-size="13.3" text-anchor="start" font-weight="bold" >3,3'-dDMDPA-SBF</text>
<path d="M78 96.1 H92.8" stroke="#1e90ff" stroke-width="2" fill="none"/>
<path d="M85.4 93.5 L87.8 97.9 L83 97.9 Z" fill="#1e90ff"/>
<text x="96" y="97.9" font-size="13.3" text-anchor="start" font-weight="bold" >3,6-dDMDPA-SBF</text>
<path d="M78 113.1 H92.8" stroke="#8c8c3c" stroke-width="2" fill="none"/>
<path d="M85.4 115.7 L87.8 111.3 L83 111.3 Z" fill="#8c8c3c"/>
<text x="96" y="114.9" font-size="13.3" text-anchor="start" font-weight="bold" >TAPC</text>
<clipPath id="ca453"><rect x="453" y="17" width="264.6" height="194.1"/></clipPath>
<rect x="453" y="17" width="264.6" height="195" stroke="#000" stroke-width="2.4" fill="none" stroke-linecap="square"/>
<path d="M453 212h5.2M453 177.1h5.2M453 142.2h5.2M453 107.3h5.2M453 72.4h5.2M453 37.5h5.2M453 194.55h3.2M453 159.65h3.2M453 124.75h3.2M453 89.85h3.2M453 54.95h3.2M453 20.05h3.2M452.5 212v-5.2M500.75 212v-5.2M549 212v-5.2M597.25 212v-5.2M645.5 212v-5.2M693.75 212v-5.2M476.62 212v-3.2M524.88 212v-3.2M573.12 212v-3.2M621.38 212v-3.2M669.62 212v-3.2" stroke="#000" stroke-width="2.1" fill="none"/>
<g clip-path="url(#ca453)">
<path d="M491.1 208.37 L491.58 208.21 L492.06 208.41 L492.55 208.88 L493.03 209.37 L493.51 209.74 L494 209.94 L494.48 210.04 L494.96 210.08 L495.44 210.11 L495.93 210.13 L496.41 210.14 L496.89 210.16 L497.37 210.18 L497.86 210.19 L498.34 210.21 L498.82 210.22 L499.3 210.23 L499.78 210.25 L500.27 210.26 L500.75 210.27 L501.23 210.28 L501.71 210.3 L502.2 210.31 L502.68 210.32 L503.16 210.33 L503.64 210.35 L504.13 210.36 L504.61 210.37 L505.09 210.38 L505.57 210.39 L506.06 210.41 L506.54 210.42 L507.02 210.43 L507.5 210.44 L507.99 210.45 L508.47 210.46 L508.95 210.47 L509.44 210.48 L509.92 210.49 L510.4 210.5 L510.88 210.51 L511.37 210.52 L511.85 210.53 L512.33 210.54 L512.81 210.55 L513.29 210.55 L513.78 210.56 L514.26 210.57 L514.74 210.57 L515.23 210.58 L515.71 210.59 L516.19 210.59 L516.67 210.59 L517.15 210.6 L517.64 210.6 L518.12 210.6 L518.6 210.6 L519.09 210.6 L519.57 210.6 L520.05 210.6 L520.53 210.6 L521.01 210.6 L521.5 210.6 L521.98 210.59 L522.46 210.59 L522.94 210.58 L523.43 210.57 L523.91 210.57 L524.39 210.56 L524.88 210.55 L525.36 210.54 L525.84 210.53 L526.32 210.52 L526.8 210.5 L527.29 210.49 L527.77 210.47 L528.25 210.46 L528.74 210.44 L529.22 210.42 L529.7 210.37 L530.18 210.29 L530.66 210.19 L531.15 210.06 L531.63 209.92 L532.11 209.76 L532.6 209.6 L533.08 209.43 L533.56 209.26 L534.04 209.09 L534.52 208.92 L535.01 208.73 L535.49 208.53 L535.97 208.32 L536.46 208.08 L536.94 207.82 L537.42 207.53 L537.9 207.2 L538.38 206.83 L538.87 206.41 L539.35 205.84 L539.83 205.1 L540.32 204.21 L540.8 203.2 L541.28 202.08 L541.76 200.83 L542.25 199.24 L542.73 197.32 L543.21 195.14 L543.69 192.76 L544.17 189.96 L544.66 186.75 L545.14 183.29 L545.62 179.69 L546.11 175.85 L546.59 171.7 L547.07 167.35 L547.55 162.64 L548.03 157.69 L548.52 152.88 L549 148.41 L549.48 143.79 L549.97 138.38 L550.45 132.02 L550.93 125.79 L551.41 119.7 L551.89 114.19 L552.38 109.41 L552.86 105.01 L553.34 100.8 L553.83 96.97 L554.31 93.39 L554.79 89.79 L555.27 85.91 L555.75 81.49 L556.24 76.18 L556.72 70.27 L557.2 64.26 L557.68 58.6 L558.17 53.41 L558.65 48.12 L559.13 43.7 L559.62 40.97 L560.1 38.89 L560.58 37.63 L561.06 37.68 L561.54 38.63 L562.03 40.09 L562.51 41.68 L562.99 43.28 L563.48 45.18 L563.96 47.33 L564.44 49.63 L564.92 51.99 L565.4 54.3 L565.89 56.43 L566.37 58.43 L566.85 60.38 L567.34 62.3 L567.82 64.18 L568.3 66.02 L568.78 67.84 L569.26 69.64 L569.75 71.43 L570.23 73.17 L570.71 74.87 L571.19 76.54 L571.68 78.2 L572.16 79.85 L572.64 81.52 L573.12 83.2 L573.61 84.87 L574.09 86.53 L574.57 88.19 L575.05 89.85 L575.54 91.52 L576.02 93.2 L576.5 94.91 L576.99 96.64 L577.47 98.41 L577.95 100.19 L578.43 101.97 L578.91 103.76 L579.4 105.58 L579.88 107.43 L580.36 109.33 L580.85 111.29 L581.33 113.31 L581.81 115.41 L582.29 117.67 L582.77 120.08 L583.26 122.56 L583.74 125.02 L584.22 127.39 L584.7 129.62 L585.19 131.8 L585.67 133.94 L586.15 136.04 L586.63 138.1 L587.12 140.14 L587.6 142.16 L588.08 144.18 L588.57 146.19 L589.05 148.16 L589.53 150.09 L590.01 151.95 L590.5 153.73 L590.98 155.42 L591.46 157.07 L591.94 158.67 L592.42 160.23 L592.91 161.74 L593.39 163.21 L593.87 164.63 L594.36 166 L594.84 167.33 L595.32 168.62 L595.8 169.88 L596.28 171.12 L596.77 172.33 L597.25 173.52 L597.73 174.67 L598.22 175.78 L598.7 176.86 L599.18 177.91 L599.66 178.91 L600.14 179.86 L600.63 180.78 L601.11 181.67 L601.59 182.55 L602.08 183.41 L602.56 184.25 L603.04 185.08 L603.52 185.89 L604 186.68 L604.49 187.45 L604.97 188.2 L605.45 188.92 L605.93 189.63 L606.42 190.31 L606.9 190.97 L607.38 191.6 L607.87 192.21 L608.35 192.79 L608.83 193.34 L609.31 193.87 L609.79 194.38 L610.28 194.88 L610.76 195.36 L611.24 195.83 L611.73 196.28 L612.21 196.73 L612.69 197.16 L613.17 197.57 L613.65 197.98 L614.14 198.38 L614.62 198.76 L615.1 199.14 L615.59 199.51 L616.07 199.87 L616.55 200.23 L617.03 200.57 L617.51 200.92 L618 201.26 L618.48 201.59 L618.96 201.92 L619.44 202.25 L619.93 202.57 L620.41 202.89 L620.89 203.21 L621.38 203.52 L621.86 203.83 L622.34 204.13 L622.82 204.42 L623.31 204.7 L623.79 204.98 L624.27 205.25 L624.75 205.51 L625.24 205.76 L625.72 206 L626.2 206.22 L626.68 206.44 L627.16 206.65 L627.65 206.84 L628.13 207.03 L628.61 207.23 L629.1 207.42 L629.58 207.61 L630.06 207.8 L630.54 207.99 L631.02 208.17 L631.51 208.35 L631.99 208.52 L632.47 208.69 L632.95 208.86 L633.44 209.01 L633.92 209.16 L634.4 209.3 L634.88 209.43 L635.37 209.56 L635.85 209.67 L636.33 209.77 L636.82 209.86 L637.3 209.94 L637.78 210 L638.26 210.06 L638.75 210.09 L639.23 210.13 L639.71 210.17 L640.19 210.2 L640.67 210.23 L641.16 210.27 L641.64 210.3 L642.12 210.33 L642.61 210.36 L643.09 210.39 L643.57 210.42 L644.05 210.45 L644.53 210.47 L645.02 210.5 L645.5 210.53 L645.98 210.55 L646.47 210.58 L646.95 210.6 L647.43 210.62 L647.91 210.65 L648.39 210.67 L648.88 210.69 L649.36 210.71 L649.84 210.73 L650.33 210.75 L650.81 210.76 L651.29 210.78 L651.77 210.8 L652.25 210.81 L652.74 210.83 L653.22 210.84 L653.7 210.85 L654.18 210.87 L654.67 210.88 L655.15 210.89 L655.63 210.9 L656.12 210.91 L656.6 210.91 L657.08 210.92 L657.56 210.93 L658.04 210.93 L658.53 210.94 L659.01 210.94 L659.49 210.95 L659.98 210.95 L660.46 210.95 L660.94 210.95 L661.42 210.95 L661.9 210.95 L662.39 210.95 L662.87 210.95 L663.35 210.95 L663.84 210.94 L664.32 210.94 L664.8 210.94 L665.28 210.93 L665.76 210.93 L666.25 210.92 L666.73 210.92 L667.21 210.91 L667.69 210.9 L668.18 210.89 L668.66 210.89 L669.14 210.88 L669.62 210.87 L670.11 210.86 L670.59 210.85 L671.07 210.84 L671.56 210.82 L672.04 210.81 L672.52 210.8 L673 210.78 L673.49 210.77 L673.97 210.76 L674.45 210.74 L674.93 210.72 L675.41 210.71 L675.9 210.69 L676.38 210.67 L676.86 210.65 L677.35 210.64 L677.83 210.62 L678.31 210.59 L678.79 210.56 L679.27 210.51 L679.76 210.44 L680.24 210.36 L680.72 210.27 L681.2 210.17 L681.69 210.05 L682.17 209.93 L682.65 209.8 L683.13 209.66 L683.62 209.52 L684.1 209.37 L684.58 209.22" stroke="#c91ac9" stroke-width="3.8" fill="none" stroke-linejoin="round" stroke-dasharray="1.8 1.2"/>
<path d="M491.1 208.4 L491.58 208.23 L492.06 208.44 L492.55 208.9 L493.03 209.4 L493.51 209.76 L494 209.97 L494.48 210.06 L494.96 210.1 L495.44 210.13 L495.93 210.15 L496.41 210.16 L496.89 210.18 L497.37 210.19 L497.86 210.21 L498.34 210.22 L498.82 210.24 L499.3 210.25 L499.78 210.26 L500.27 210.27 L500.75 210.29 L501.23 210.3 L501.71 210.31 L502.2 210.32 L502.68 210.34 L503.16 210.35 L503.64 210.36 L504.13 210.37 L504.61 210.38 L505.09 210.4 L505.57 210.41 L506.06 210.42 L506.54 210.43 L507.02 210.44 L507.5 210.45 L507.99 210.46 L508.47 210.48 L508.95 210.49 L509.44 210.5 L509.92 210.51 L510.4 210.51 L510.88 210.52 L511.37 210.53 L511.85 210.54 L512.33 210.55 L512.81 210.56 L513.29 210.56 L513.78 210.57 L514.26 210.58 L514.74 210.58 L515.23 210.59 L515.71 210.59 L516.19 210.59 L516.67 210.6 L517.15 210.6 L517.64 210.6 L518.12 210.6 L518.6 210.6 L519.09 210.6 L519.57 210.6 L520.05 210.6 L520.53 210.6 L521.01 210.6 L521.5 210.59 L521.98 210.59 L522.46 210.58 L522.94 210.57 L523.43 210.57 L523.91 210.56 L524.39 210.55 L524.88 210.54 L525.36 210.53 L525.84 210.51 L526.32 210.5 L526.8 210.49 L527.29 210.47 L527.77 210.45 L528.25 210.44 L528.74 210.41 L529.22 210.36 L529.7 210.27 L530.18 210.16 L530.66 210.04 L531.15 209.89 L531.63 209.73 L532.11 209.56 L532.6 209.39 L533.08 209.22 L533.56 209.06 L534.04 208.88 L534.52 208.69 L535.01 208.49 L535.49 208.27 L535.97 208.03 L536.46 207.76 L536.94 207.46 L537.42 207.13 L537.9 206.75 L538.38 206.31 L538.87 205.7 L539.35 204.93 L539.83 204.02 L540.32 202.98 L540.8 201.84 L541.28 200.54 L541.76 198.88 L542.25 196.9 L542.73 194.68 L543.21 192.24 L543.69 189.34 L544.17 186.07 L544.66 182.57 L545.14 178.95 L545.62 175.03 L546.11 170.84 L546.59 166.43 L547.07 161.64 L547.55 156.68 L548.03 151.94 L548.52 147.48 L549 142.75 L549.48 137.08 L549.97 130.63 L550.45 124.44 L550.93 118.39 L551.41 113.03 L551.89 108.32 L552.38 103.93 L552.86 99.73 L553.34 95.93 L553.83 92.28 L554.31 88.5 L554.79 84.29 L555.27 79.29 L555.75 73.27 L556.24 66.76 L556.72 60.34 L557.2 54.44 L557.68 48.37 L558.17 43.29 L558.65 40.3 L559.13 38.14 L559.62 37.54 L560.1 38.4 L560.58 39.99 L561.06 41.73 L561.54 43.46 L562.03 45.48 L562.51 47.73 L562.99 50.09 L563.48 52.47 L563.96 54.76 L564.44 56.85 L564.92 58.84 L565.4 60.79 L565.89 62.69 L566.37 64.56 L566.85 66.4 L567.34 68.21 L567.82 70.01 L568.3 71.78 L568.78 73.51 L569.26 75.21 L569.75 76.87 L570.23 78.53 L570.71 80.18 L571.19 81.85 L571.68 83.54 L572.16 85.2 L572.64 86.86 L573.12 88.52 L573.61 90.18 L574.09 91.85 L574.57 93.54 L575.05 95.25 L575.54 97 L576.02 98.77 L576.5 100.54 L576.99 102.32 L577.47 104.12 L577.95 105.95 L578.43 107.81 L578.91 109.72 L579.4 111.69 L579.88 113.72 L580.36 115.84 L580.85 118.14 L581.33 120.57 L581.81 123.05 L582.29 125.5 L582.77 127.84 L583.26 130.06 L583.74 132.23 L584.22 134.36 L584.7 136.45 L585.19 138.51 L585.67 140.55 L586.15 142.57 L586.63 144.58 L587.12 146.59 L587.6 148.55 L588.08 150.47 L588.57 152.31 L589.05 154.07 L589.53 155.75 L590.01 157.39 L590.5 158.98 L590.98 160.54 L591.46 162.04 L591.94 163.5 L592.42 164.91 L592.91 166.27 L593.39 167.59 L593.87 168.87 L594.36 170.13 L594.84 171.37 L595.32 172.57 L595.8 173.75 L596.28 174.89 L596.77 176 L597.25 177.08 L597.73 178.11 L598.22 179.1 L598.7 180.05 L599.18 180.96 L599.66 181.85 L600.14 182.72 L600.63 183.58 L601.11 184.42 L601.59 185.24 L602.08 186.05 L602.56 186.83 L603.04 187.6 L603.52 188.34 L604 189.07 L604.49 189.77 L604.97 190.44 L605.45 191.1 L605.93 191.72 L606.42 192.33 L606.9 192.9 L607.38 193.45 L607.87 193.98 L608.35 194.48 L608.83 194.98 L609.31 195.46 L609.79 195.92 L610.28 196.37 L610.76 196.81 L611.24 197.24 L611.73 197.66 L612.21 198.06 L612.69 198.45 L613.17 198.84 L613.65 199.21 L614.14 199.58 L614.62 199.94 L615.1 200.3 L615.59 200.64 L616.07 200.99 L616.55 201.32 L617.03 201.66 L617.51 201.99 L618 202.31 L618.48 202.64 L618.96 202.96 L619.44 203.27 L619.93 203.58 L620.41 203.89 L620.89 204.18 L621.38 204.47 L621.86 204.76 L622.34 205.03 L622.82 205.3 L623.31 205.56 L623.79 205.8 L624.27 206.04 L624.75 206.27 L625.24 206.48 L625.72 206.69 L626.2 206.88 L626.68 207.07 L627.16 207.27 L627.65 207.46 L628.13 207.65 L628.61 207.84 L629.1 208.02 L629.58 208.21 L630.06 208.38 L630.54 208.56 L631.02 208.73 L631.51 208.89 L631.99 209.04 L632.47 209.19 L632.95 209.33 L633.44 209.46 L633.92 209.58 L634.4 209.69 L634.88 209.79 L635.37 209.88 L635.85 209.95 L636.33 210.02 L636.82 210.06 L637.3 210.1 L637.78 210.14 L638.26 210.17 L638.75 210.21 L639.23 210.24 L639.71 210.27 L640.19 210.3 L640.67 210.33 L641.16 210.36 L641.64 210.39 L642.12 210.42 L642.61 210.45 L643.09 210.48 L643.57 210.51 L644.05 210.53 L644.53 210.56 L645.02 210.58 L645.5 210.6 L645.98 210.63 L646.47 210.65 L646.95 210.67 L647.43 210.69 L647.91 210.71 L648.39 210.73 L648.88 210.75 L649.36 210.77 L649.84 210.78 L650.33 210.8 L650.81 210.81 L651.29 210.83 L651.77 210.84 L652.25 210.86 L652.74 210.87 L653.22 210.88 L653.7 210.89 L654.18 210.9 L654.67 210.91 L655.15 210.92 L655.63 210.92 L656.12 210.93 L656.6 210.94 L657.08 210.94 L657.56 210.94 L658.04 210.95 L658.53 210.95 L659.01 210.95 L659.49 210.95 L659.98 210.95 L660.46 210.95 L660.94 210.95 L661.42 210.95 L661.9 210.95 L662.39 210.94 L662.87 210.94 L663.35 210.94 L663.84 210.93 L664.32 210.93 L664.8 210.92 L665.28 210.92 L665.76 210.91 L666.25 210.9 L666.73 210.89 L667.21 210.88 L667.69 210.88 L668.18 210.87 L668.66 210.86 L669.14 210.84 L669.62 210.83 L670.11 210.82 L670.59 210.81 L671.07 210.8 L671.56 210.78 L672.04 210.77 L672.52 210.75 L673 210.74 L673.49 210.72 L673.97 210.7 L674.45 210.69 L674.93 210.67 L675.41 210.65 L675.9 210.63 L676.38 210.61 L676.86 210.59 L677.35 210.55 L677.83 210.5 L678.31 210.43 L678.79 210.35 L679.27 210.25 L679.76 210.15 L680.24 210.03 L680.72 209.91 L681.2 209.77 L681.69 209.64 L682.17 209.49 L682.65 209.34 L683.13 209.19 L683.62 209.04 L684.1 208.88 L684.58 208.73" stroke="#128a12" stroke-width="3.8" fill="none" stroke-linejoin="round" stroke-dasharray="1.8 1.2"/>
<path d="M491.1 208.03 L491.58 207.81 L492.06 208.03 L492.55 208.58 L493.03 209.17 L493.51 209.61 L494 209.85 L494.48 209.96 L494.96 210.01 L495.44 210.04 L495.93 210.06 L496.41 210.08 L496.89 210.1 L497.37 210.12 L497.86 210.13 L498.34 210.15 L498.82 210.17 L499.3 210.18 L499.78 210.2 L500.27 210.21 L500.75 210.23 L501.23 210.24 L501.71 210.25 L502.2 210.26 L502.68 210.28 L503.16 210.29 L503.64 210.3 L504.13 210.31 L504.61 210.33 L505.09 210.34 L505.57 210.35 L506.06 210.36 L506.54 210.38 L507.02 210.39 L507.5 210.4 L507.99 210.41 L508.47 210.42 L508.95 210.43 L509.44 210.45 L509.92 210.46 L510.4 210.47 L510.88 210.48 L511.37 210.49 L511.85 210.5 L512.33 210.51 L512.81 210.52 L513.29 210.53 L513.78 210.53 L514.26 210.54 L514.74 210.55 L515.23 210.56 L515.71 210.56 L516.19 210.57 L516.67 210.58 L517.15 210.58 L517.64 210.59 L518.12 210.59 L518.6 210.59 L519.09 210.6 L519.57 210.6 L520.05 210.6 L520.53 210.6 L521.01 210.6 L521.5 210.6 L521.98 210.6 L522.46 210.6 L522.94 210.6 L523.43 210.59 L523.91 210.59 L524.39 210.58 L524.88 210.58 L525.36 210.57 L525.84 210.56 L526.32 210.55 L526.8 210.55 L527.29 210.53 L527.77 210.52 L528.25 210.51 L528.74 210.5 L529.22 210.48 L529.7 210.47 L530.18 210.45 L530.66 210.43 L531.15 210.4 L531.63 210.34 L532.11 210.25 L532.6 210.14 L533.08 210.01 L533.56 209.86 L534.04 209.7 L534.52 209.53 L535.01 209.36 L535.49 209.19 L535.97 209.02 L536.46 208.84 L536.94 208.65 L537.42 208.45 L537.9 208.23 L538.38 207.98 L538.87 207.71 L539.35 207.4 L539.83 207.06 L540.32 206.67 L540.8 206.2 L541.28 205.56 L541.76 204.76 L542.25 203.82 L542.73 202.76 L543.21 201.6 L543.69 200.24 L544.17 198.51 L544.66 196.47 L545.14 194.21 L545.62 191.69 L546.11 188.7 L546.59 185.37 L547.07 181.84 L547.55 178.16 L548.03 174.17 L548.52 169.92 L549 165.43 L549.48 160.55 L549.97 155.57 L550.45 150.89 L550.93 146.38 L551.41 141.42 L551.89 135.36 L552.38 128.8 L552.86 122.49 L553.34 116.42 L553.83 111.15 L554.31 106.36 L554.79 101.76 L555.27 97.46 L555.75 93.41 L556.24 89.2 L556.72 84.37 L557.2 78.3 L557.68 70.62 L558.17 62.26 L558.65 54.28 L559.13 46.05 L559.62 40.7 L560.1 37.72 L560.58 38.19 L561.06 40.6 L561.54 43.14 L562.03 46.08 L562.51 49.28 L562.99 52.46 L563.48 55.35 L563.96 57.85 L564.44 60.18 L564.92 62.38 L565.4 64.47 L565.89 66.49 L566.37 68.44 L566.85 70.34 L567.34 72.19 L567.82 73.97 L568.3 75.7 L568.78 77.4 L569.26 79.09 L569.75 80.77 L570.23 82.46 L570.71 84.15 L571.19 85.83 L571.68 87.5 L572.16 89.16 L572.64 90.83 L573.12 92.51 L573.61 94.21 L574.09 95.94 L574.57 97.7 L575.05 99.47 L575.54 101.25 L576.02 103.04 L576.5 104.84 L576.99 106.68 L577.47 108.57 L577.95 110.5 L578.43 112.49 L578.91 114.55 L579.4 116.74 L579.88 119.1 L580.36 121.56 L580.85 124.04 L581.33 126.45 L581.81 128.73 L582.29 130.93 L582.77 133.09 L583.26 135.2 L583.74 137.28 L584.22 139.33 L584.7 141.35 L585.19 143.37 L585.67 145.39 L586.15 147.38 L586.63 149.33 L587.12 151.21 L587.6 153.03 L588.08 154.75 L588.57 156.41 L589.05 158.03 L589.53 159.61 L590.01 161.14 L590.5 162.63 L590.98 164.07 L591.46 165.46 L591.94 166.8 L592.42 168.1 L592.91 169.38 L593.39 170.63 L593.87 171.85 L594.36 173.05 L594.84 174.21 L595.32 175.34 L595.8 176.44 L596.28 177.49 L596.77 178.51 L597.25 179.49 L597.73 180.42 L598.22 181.31 L598.7 182.2 L599.18 183.07 L599.66 183.92 L600.14 184.75 L600.63 185.57 L601.11 186.37 L601.59 187.14 L602.08 187.9 L602.56 188.64 L603.04 189.35 L603.52 190.04 L604 190.71 L604.49 191.35 L604.97 191.97 L605.45 192.56 L605.93 193.12 L606.42 193.66 L606.9 194.18 L607.38 194.68 L607.87 195.17 L608.35 195.65 L608.83 196.1 L609.31 196.55 L609.79 196.99 L610.28 197.41 L610.76 197.82 L611.24 198.22 L611.73 198.61 L612.21 198.99 L612.69 199.36 L613.17 199.73 L613.65 200.08 L614.14 200.44 L614.62 200.78 L615.1 201.12 L615.59 201.46 L616.07 201.79 L616.55 202.12 L617.03 202.44 L617.51 202.77 L618 203.08 L618.48 203.4 L618.96 203.7 L619.44 204.01 L619.93 204.3 L620.41 204.59 L620.89 204.87 L621.38 205.14 L621.86 205.4 L622.34 205.66 L622.82 205.9 L623.31 206.13 L623.79 206.36 L624.27 206.57 L624.75 206.76 L625.24 206.96 L625.72 207.15 L626.2 207.34 L626.68 207.53 L627.16 207.72 L627.65 207.91 L628.13 208.1 L628.61 208.28 L629.1 208.45 L629.58 208.63 L630.06 208.79 L630.54 208.95 L631.02 209.1 L631.51 209.25 L631.99 209.38 L632.47 209.51 L632.95 209.63 L633.44 209.73 L633.92 209.83 L634.4 209.91 L634.88 209.98 L635.37 210.04 L635.85 210.08 L636.33 210.12 L636.82 210.15 L637.3 210.19 L637.78 210.22 L638.26 210.25 L638.75 210.28 L639.23 210.32 L639.71 210.35 L640.19 210.38 L640.67 210.41 L641.16 210.43 L641.64 210.46 L642.12 210.49 L642.61 210.52 L643.09 210.54 L643.57 210.57 L644.05 210.59 L644.53 210.61 L645.02 210.64 L645.5 210.66 L645.98 210.68 L646.47 210.7 L646.95 210.72 L647.43 210.74 L647.91 210.76 L648.39 210.77 L648.88 210.79 L649.36 210.81 L649.84 210.82 L650.33 210.83 L650.81 210.85 L651.29 210.86 L651.77 210.87 L652.25 210.88 L652.74 210.89 L653.22 210.9 L653.7 210.91 L654.18 210.92 L654.67 210.93 L655.15 210.93 L655.63 210.94 L656.12 210.94 L656.6 210.95 L657.08 210.95 L657.56 210.95 L658.04 210.95 L658.53 210.95 L659.01 210.95 L659.49 210.95 L659.98 210.95 L660.46 210.95 L660.94 210.95 L661.42 210.94 L661.9 210.94 L662.39 210.94 L662.87 210.93 L663.35 210.93 L663.84 210.92 L664.32 210.91 L664.8 210.91 L665.28 210.9 L665.76 210.89 L666.25 210.88 L666.73 210.87 L667.21 210.86 L667.69 210.85 L668.18 210.84 L668.66 210.83 L669.14 210.82 L669.62 210.8 L670.11 210.79 L670.59 210.78 L671.07 210.76 L671.56 210.75 L672.04 210.73 L672.52 210.71 L673 210.7 L673.49 210.68 L673.97 210.66 L674.45 210.64 L674.93 210.62 L675.41 210.6 L675.9 210.58 L676.38 210.53 L676.86 210.47 L677.35 210.4 L677.83 210.31 L678.31 210.21 L678.79 210.1 L679.27 209.98 L679.76 209.85 L680.24 209.72 L680.72 209.58 L681.2 209.43 L681.69 209.28 L682.17 209.13 L682.65 208.97 L683.13 208.82 L683.62 208.66 L684.1 208.51 L684.58 208.51" stroke="#1e90ff" stroke-width="3.8" fill="none" stroke-linejoin="round" stroke-dasharray="1.8 1.2"/>
<rect x="489.1" y="200.8" width="4.4" height="4.4" fill="#c91ac9"/>
<rect x="490.8" y="204.8" width="3.6" height="3.6" fill="#c91ac9"/>
<circle cx="500.4" cy="206.3" r="2.31" fill="#128a12"/>
<circle cx="490.8" cy="206.6" r="1.87" fill="#128a12"/>
<path d="M491.1 207.72 L491.58 207.48 L492.06 207.76 L492.55 208.4 L493.03 209.09 L493.51 209.59 L494 209.87 L494.48 210 L494.96 210.05 L495.44 210.08 L495.93 210.1 L496.41 210.12 L496.89 210.14 L497.37 210.15 L497.86 210.17 L498.34 210.19 L498.82 210.2 L499.3 210.22 L499.78 210.23 L500.27 210.24 L500.75 210.25 L501.23 210.27 L501.71 210.28 L502.2 210.29 L502.68 210.3 L503.16 210.32 L503.64 210.33 L504.13 210.34 L504.61 210.35 L505.09 210.37 L505.57 210.38 L506.06 210.39 L506.54 210.4 L507.02 210.41 L507.5 210.42 L507.99 210.44 L508.47 210.45 L508.95 210.46 L509.44 210.47 L509.92 210.48 L510.4 210.49 L510.88 210.5 L511.37 210.51 L511.85 210.52 L512.33 210.53 L512.81 210.54 L513.29 210.54 L513.78 210.55 L514.26 210.56 L514.74 210.57 L515.23 210.57 L515.71 210.58 L516.19 210.58 L516.67 210.59 L517.15 210.59 L517.64 210.6 L518.12 210.6 L518.6 210.6 L519.09 210.6 L519.57 210.6 L520.05 210.6 L520.53 210.6 L521.01 210.6 L521.5 210.6 L521.98 210.6 L522.46 210.59 L522.94 210.59 L523.43 210.58 L523.91 210.58 L524.39 210.57 L524.88 210.56 L525.36 210.55 L525.84 210.54 L526.32 210.53 L526.8 210.52 L527.29 210.51 L527.77 210.49 L528.25 210.48 L528.74 210.46 L529.22 210.45 L529.7 210.43 L530.18 210.39 L530.66 210.33 L531.15 210.23 L531.63 210.12 L532.11 209.98 L532.6 209.83 L533.08 209.67 L533.56 209.5 L534.04 209.33 L534.52 209.16 L535.01 208.99 L535.49 208.81 L535.97 208.62 L536.46 208.41 L536.94 208.18 L537.42 207.93 L537.9 207.65 L538.38 207.33 L538.87 206.98 L539.35 206.59 L539.83 206.09 L540.32 205.41 L540.8 204.58 L541.28 203.62 L541.76 202.54 L542.25 201.36 L542.73 199.92 L543.21 198.13 L543.69 196.04 L544.17 193.74 L544.66 191.13 L545.14 188.07 L545.62 184.69 L546.11 181.14 L546.59 177.42 L547.07 173.38 L547.55 169.09 L548.03 164.56 L548.52 159.64 L549 154.72 L549.48 150.14 L549.97 145.63 L550.45 140.61 L550.93 134.47 L551.41 128.07 L551.89 121.89 L552.38 116.05 L552.86 110.99 L553.34 106.42 L553.83 102.06 L554.31 98 L554.79 94.26 L555.27 90.53 L555.75 86.49 L556.24 81.84 L556.72 76.08 L557.2 69.45 L557.68 62.6 L558.17 56.17 L558.65 49.69 L559.13 43.83 L559.62 40.37 L560.1 38 L560.58 37.64 L561.06 38.94 L561.54 40.9 L562.03 42.82 L562.51 45.01 L562.99 47.47 L563.48 50.06 L563.96 52.63 L564.44 55.06 L564.92 57.23 L565.4 59.3 L565.89 61.31 L566.37 63.25 L566.85 65.15 L567.34 67.01 L567.82 68.84 L568.3 70.66 L568.78 72.43 L569.26 74.16 L569.75 75.85 L570.23 77.51 L570.71 79.17 L571.19 80.83 L571.68 82.52 L572.16 84.2 L572.64 85.86 L573.12 87.52 L573.61 89.18 L574.09 90.84 L574.57 92.52 L575.05 94.22 L575.54 95.94 L576.02 97.7 L576.5 99.48 L576.99 101.25 L577.47 103.04 L577.95 104.85 L578.43 106.69 L578.91 108.57 L579.4 110.5 L579.88 112.49 L580.36 114.56 L580.85 116.74 L581.33 119.11 L581.81 121.56 L582.29 124.04 L582.77 126.45 L583.26 128.74 L583.74 130.94 L584.22 133.09 L584.7 135.2 L585.19 137.28 L585.67 139.33 L586.15 141.35 L586.63 143.37 L587.12 145.39 L587.6 147.38 L588.08 149.33 L588.57 151.21 L589.05 153.03 L589.53 154.75 L590.01 156.41 L590.5 158.03 L590.98 159.61 L591.46 161.14 L591.94 162.63 L592.42 164.07 L592.91 165.46 L593.39 166.8 L593.87 168.1 L594.36 169.38 L594.84 170.63 L595.32 171.85 L595.8 173.05 L596.28 174.21 L596.77 175.34 L597.25 176.44 L597.73 177.49 L598.22 178.51 L598.7 179.49 L599.18 180.42 L599.66 181.31 L600.14 182.2 L600.63 183.07 L601.11 183.92 L601.59 184.75 L602.08 185.57 L602.56 186.37 L603.04 187.14 L603.52 187.9 L604 188.64 L604.49 189.35 L604.97 190.04 L605.45 190.71 L605.93 191.35 L606.42 191.97 L606.9 192.56 L607.38 193.12 L607.87 193.66 L608.35 194.18 L608.83 194.68 L609.31 195.17 L609.79 195.65 L610.28 196.1 L610.76 196.55 L611.24 196.99 L611.73 197.41 L612.21 197.82 L612.69 198.22 L613.17 198.61 L613.65 198.99 L614.14 199.36 L614.62 199.73 L615.1 200.08 L615.59 200.44 L616.07 200.78 L616.55 201.12 L617.03 201.46 L617.51 201.79 L618 202.12 L618.48 202.44 L618.96 202.77 L619.44 203.08 L619.93 203.4 L620.41 203.7 L620.89 204.01 L621.38 204.3 L621.86 204.59 L622.34 204.87 L622.82 205.14 L623.31 205.4 L623.79 205.66 L624.27 205.9 L624.75 206.13 L625.24 206.36 L625.72 206.57 L626.2 206.76 L626.68 206.96 L627.16 207.15 L627.65 207.34 L628.13 207.53 L628.61 207.72 L629.1 207.91 L629.58 208.1 L630.06 208.28 L630.54 208.45 L631.02 208.63 L631.51 208.79 L631.99 208.95 L632.47 209.1 L632.95 209.25 L633.44 209.38 L633.92 209.51 L634.4 209.63 L634.88 209.73 L635.37 209.83 L635.85 209.91 L636.33 209.98 L636.82 210.04 L637.3 210.08 L637.78 210.12 L638.26 210.15 L638.75 210.19 L639.23 210.22 L639.71 210.25 L640.19 210.28 L640.67 210.32 L641.16 210.35 L641.64 210.38 L642.12 210.41 L642.61 210.43 L643.09 210.46 L643.57 210.49 L644.05 210.52 L644.53 210.54 L645.02 210.57 L645.5 210.59 L645.98 210.61 L646.47 210.64 L646.95 210.66 L647.43 210.68 L647.91 210.7 L648.39 210.72 L648.88 210.74 L649.36 210.76 L649.84 210.77 L650.33 210.79 L650.81 210.81 L651.29 210.82 L651.77 210.83 L652.25 210.85 L652.74 210.86 L653.22 210.87 L653.7 210.88 L654.18 210.89 L654.67 210.9 L655.15 210.91 L655.63 210.92 L656.12 210.93 L656.6 210.93 L657.08 210.94 L657.56 210.94 L658.04 210.95 L658.53 210.95 L659.01 210.95 L659.49 210.95 L659.98 210.95 L660.46 210.95 L660.94 210.95 L661.42 210.95 L661.9 210.95 L662.39 210.95 L662.87 210.94 L663.35 210.94 L663.84 210.94 L664.32 210.93 L664.8 210.93 L665.28 210.92 L665.76 210.91 L666.25 210.91 L666.73 210.9 L667.21 210.89 L667.69 210.88 L668.18 210.87 L668.66 210.86 L669.14 210.85 L669.62 210.84 L670.11 210.83 L670.59 210.82 L671.07 210.8 L671.56 210.79 L672.04 210.78 L672.52 210.76 L673 210.75 L673.49 210.73 L673.97 210.71 L674.45 210.7 L674.93 210.68 L675.41 210.66 L675.9 210.64 L676.38 210.62 L676.86 210.6 L677.35 210.58 L677.83 210.53 L678.31 210.47 L678.79 210.4 L679.27 210.31 L679.76 210.21 L680.24 210.1 L680.72 209.98 L681.2 209.85 L681.69 209.72 L682.17 209.58 L682.65 209.43 L683.13 209.28 L683.62 209.13 L684.1 208.97 L684.58 208.82" stroke="#8c8c3c" stroke-width="3.4" fill="none" stroke-linejoin="round" stroke-linecap="round"/>
<path d="M491.1 210.71 L493.86 205.65 L488.34 205.65 Z" fill="#8c8c3c"/><path d="M493.21 212.27 L495.97 207.21 L490.45 207.21 Z" fill="#8c8c3c"/><path d="M495.98 213.09 L498.74 208.03 L493.22 208.03 Z" fill="#8c8c3c"/><path d="M498.98 213.2 L501.74 208.14 L496.22 208.14 Z" fill="#8c8c3c"/><path d="M501.98 213.28 L504.74 208.22 L499.22 208.22 Z" fill="#8c8c3c"/><path d="M504.98 213.35 L507.74 208.29 L502.22 208.29 Z" fill="#8c8c3c"/><path d="M507.98 213.43 L510.74 208.37 L505.22 208.37 Z" fill="#8c8c3c"/><path d="M510.98 213.49 L513.74 208.43 L508.22 208.43 Z" fill="#8c8c3c"/><path d="M513.98 213.54 L516.74 208.48 L511.22 208.48 Z" fill="#8c8c3c"/><path d="M516.98 213.58 L519.74 208.52 L514.22 208.52 Z" fill="#8c8c3c"/><path d="M519.98 213.59 L522.74 208.53 L517.22 208.53 Z" fill="#8c8c3c"/><path d="M522.98 213.58 L525.74 208.52 L520.22 208.52 Z" fill="#8c8c3c"/><path d="M525.98 213.53 L528.74 208.47 L523.22 208.47 Z" fill="#8c8c3c"/><path d="M528.97 213.45 L531.73 208.39 L526.21 208.39 Z" fill="#8c8c3c"/><path d="M531.93 213.02 L534.69 207.96 L529.17 207.96 Z" fill="#8c8c3c"/><path d="M534.77 212.06 L537.53 207 L532.01 207 Z" fill="#8c8c3c"/><path d="M537.52 210.86 L540.28 205.8 L534.76 205.8 Z" fill="#8c8c3c"/><path d="M539.87 209.02 L542.63 203.96 L537.11 203.96 Z" fill="#8c8c3c"/><path d="M541.36 206.43 L544.12 201.37 L538.6 201.37 Z" fill="#8c8c3c"/><path d="M542.48 203.65 L545.24 198.59 L539.72 198.59 Z" fill="#8c8c3c"/><path d="M543.29 200.76 L546.05 195.7 L540.53 195.7 Z" fill="#8c8c3c"/><path d="M543.94 197.83 L546.7 192.77 L541.18 192.77 Z" fill="#8c8c3c"/><path d="M544.52 194.89 L547.28 189.83 L541.76 189.83 Z" fill="#8c8c3c"/><path d="M545 191.93 L547.76 186.87 L542.24 186.87 Z" fill="#8c8c3c"/><path d="M545.44 188.96 L548.2 183.9 L542.68 183.9 Z" fill="#8c8c3c"/><path d="M545.85 185.99 L548.61 180.93 L543.09 180.93 Z" fill="#8c8c3c"/><path d="M546.25 183.01 L549.01 177.95 L543.49 177.95 Z" fill="#8c8c3c"/><path d="M546.63 180.04 L549.39 174.98 L543.87 174.98 Z" fill="#8c8c3c"/><path d="M546.99 177.06 L549.75 172 L544.23 172 Z" fill="#8c8c3c"/><path d="M547.33 174.08 L550.09 169.02 L544.57 169.02 Z" fill="#8c8c3c"/><path d="M547.66 171.1 L550.42 166.04 L544.9 166.04 Z" fill="#8c8c3c"/><path d="M547.97 168.11 L550.73 163.05 L545.21 163.05 Z" fill="#8c8c3c"/><path d="M548.27 165.13 L551.03 160.07 L545.51 160.07 Z" fill="#8c8c3c"/><path d="M548.57 162.14 L551.33 157.08 L545.81 157.08 Z" fill="#8c8c3c"/><path d="M548.86 159.16 L551.62 154.1 L546.1 154.1 Z" fill="#8c8c3c"/><path d="M549.16 156.17 L551.92 151.11 L546.4 151.11 Z" fill="#8c8c3c"/><path d="M549.48 153.19 L552.24 148.13 L546.72 148.13 Z" fill="#8c8c3c"/><path d="M549.8 150.21 L552.56 145.15 L547.04 145.15 Z" fill="#8c8c3c"/><path d="M550.1 147.22 L552.86 142.16 L547.34 142.16 Z" fill="#8c8c3c"/><path d="M550.39 144.23 L553.15 139.17 L547.63 139.17 Z" fill="#8c8c3c"/><path d="M550.63 141.24 L553.39 136.18 L547.87 136.18 Z" fill="#8c8c3c"/><path d="M550.87 138.25 L553.63 133.19 L548.11 133.19 Z" fill="#8c8c3c"/><path d="M551.1 135.26 L553.86 130.2 L548.34 130.2 Z" fill="#8c8c3c"/><path d="M551.32 132.27 L554.08 127.21 L548.56 127.21 Z" fill="#8c8c3c"/><path d="M551.55 129.28 L554.31 124.22 L548.79 124.22 Z" fill="#8c8c3c"/><path d="M551.79 126.29 L554.55 121.23 L549.03 121.23 Z" fill="#8c8c3c"/><path d="M552.03 123.3 L554.79 118.24 L549.27 118.24 Z" fill="#8c8c3c"/><path d="M552.27 120.31 L555.03 115.25 L549.51 115.25 Z" fill="#8c8c3c"/><path d="M552.54 117.32 L555.3 112.26 L549.78 112.26 Z" fill="#8c8c3c"/><path d="M552.83 114.33 L555.59 109.27 L550.07 109.27 Z" fill="#8c8c3c"/><path d="M553.14 111.35 L555.9 106.29 L550.38 106.29 Z" fill="#8c8c3c"/><path d="M553.46 108.37 L556.22 103.31 L550.7 103.31 Z" fill="#8c8c3c"/><path d="M553.79 105.39 L556.55 100.33 L551.03 100.33 Z" fill="#8c8c3c"/><path d="M554.14 102.41 L556.9 97.35 L551.38 97.35 Z" fill="#8c8c3c"/><path d="M554.51 99.43 L557.27 94.37 L551.75 94.37 Z" fill="#8c8c3c"/><path d="M554.89 96.45 L557.65 91.39 L552.13 91.39 Z" fill="#8c8c3c"/><path d="M555.28 93.48 L558.04 88.42 L552.52 88.42 Z" fill="#8c8c3c"/><path d="M555.63 90.5 L558.39 85.44 L552.87 85.44 Z" fill="#8c8c3c"/><path d="M555.96 87.52 L558.72 82.46 L553.2 82.46 Z" fill="#8c8c3c"/><path d="M556.26 84.53 L559.02 79.47 L553.5 79.47 Z" fill="#8c8c3c"/><path d="M556.51 81.54 L559.27 76.48 L553.75 76.48 Z" fill="#8c8c3c"/><path d="M556.76 78.55 L559.52 73.49 L554 73.49 Z" fill="#8c8c3c"/><path d="M556.98 75.56 L559.74 70.5 L554.22 70.5 Z" fill="#8c8c3c"/><path d="M557.19 72.57 L559.95 67.51 L554.43 67.51 Z" fill="#8c8c3c"/><path d="M557.4 69.58 L560.16 64.52 L554.64 64.52 Z" fill="#8c8c3c"/><path d="M557.62 66.59 L560.38 61.53 L554.86 61.53 Z" fill="#8c8c3c"/><path d="M557.83 63.59 L560.59 58.53 L555.07 58.53 Z" fill="#8c8c3c"/><path d="M558.06 60.6 L560.82 55.54 L555.3 55.54 Z" fill="#8c8c3c"/><path d="M558.28 57.61 L561.04 52.55 L555.52 52.55 Z" fill="#8c8c3c"/><path d="M558.51 54.62 L561.27 49.56 L555.75 49.56 Z" fill="#8c8c3c"/><path d="M558.74 51.63 L561.5 46.57 L555.98 46.57 Z" fill="#8c8c3c"/><path d="M558.98 48.64 L561.74 43.58 L556.22 43.58 Z" fill="#8c8c3c"/><path d="M559.3 45.65 L562.06 40.59 L556.54 40.59 Z" fill="#8c8c3c"/><path d="M559.75 42.69 L562.51 37.63 L556.99 37.63 Z" fill="#8c8c3c"/><path d="M560.81 41.25 L563.57 36.19 L558.05 36.19 Z" fill="#8c8c3c"/><path d="M561.61 44.14 L564.37 39.08 L558.85 39.08 Z" fill="#8c8c3c"/><path d="M562.3 47.06 L565.06 42 L559.54 42 Z" fill="#8c8c3c"/><path d="M562.9 50 L565.66 44.94 L560.14 44.94 Z" fill="#8c8c3c"/><path d="M563.46 52.95 L566.22 47.89 L560.7 47.89 Z" fill="#8c8c3c"/><path d="M564.01 55.89 L566.77 50.83 L561.25 50.83 Z" fill="#8c8c3c"/><path d="M564.61 58.83 L567.37 53.77 L561.85 53.77 Z" fill="#8c8c3c"/><path d="M565.28 61.76 L568.04 56.7 L562.52 56.7 Z" fill="#8c8c3c"/><path d="M565.98 64.67 L568.74 59.61 L563.22 59.61 Z" fill="#8c8c3c"/><path d="M566.71 67.58 L569.47 62.52 L563.95 62.52 Z" fill="#8c8c3c"/><path d="M567.46 70.49 L570.22 65.43 L564.7 65.43 Z" fill="#8c8c3c"/><path d="M568.23 73.39 L570.99 68.33 L565.47 68.33 Z" fill="#8c8c3c"/><path d="M569.02 76.28 L571.78 71.22 L566.26 71.22 Z" fill="#8c8c3c"/><path d="M569.84 79.17 L572.6 74.11 L567.08 74.11 Z" fill="#8c8c3c"/><path d="M570.68 82.05 L573.44 76.99 L567.92 76.99 Z" fill="#8c8c3c"/><path d="M571.51 84.93 L574.27 79.87 L568.75 79.87 Z" fill="#8c8c3c"/><path d="M572.34 87.81 L575.1 82.75 L569.58 82.75 Z" fill="#8c8c3c"/><path d="M573.18 90.69 L575.94 85.63 L570.42 85.63 Z" fill="#8c8c3c"/><path d="M574.02 93.58 L576.78 88.52 L571.26 88.52 Z" fill="#8c8c3c"/><path d="M574.84 96.46 L577.6 91.4 L572.08 91.4 Z" fill="#8c8c3c"/><path d="M575.65 99.35 L578.41 94.29 L572.89 94.29 Z" fill="#8c8c3c"/><path d="M576.44 102.24 L579.2 97.18 L573.68 97.18 Z" fill="#8c8c3c"/><path d="M577.23 105.14 L579.99 100.08 L574.47 100.08 Z" fill="#8c8c3c"/><path d="M578 108.04 L580.76 102.98 L575.24 102.98 Z" fill="#8c8c3c"/><path d="M578.76 110.94 L581.52 105.88 L576 105.88 Z" fill="#8c8c3c"/><path d="M579.48 113.85 L582.24 108.79 L576.72 108.79 Z" fill="#8c8c3c"/><path d="M580.18 116.77 L582.94 111.71 L577.42 111.71 Z" fill="#8c8c3c"/><path d="M580.84 119.69 L583.6 114.63 L578.08 114.63 Z" fill="#8c8c3c"/><path d="M581.43 122.63 L584.19 117.57 L578.67 117.57 Z" fill="#8c8c3c"/><path d="M582.01 125.58 L584.77 120.52 L579.25 120.52 Z" fill="#8c8c3c"/><path d="M582.59 128.52 L585.35 123.46 L579.83 123.46 Z" fill="#8c8c3c"/><path d="M583.2 131.46 L585.96 126.4 L580.44 126.4 Z" fill="#8c8c3c"/><path d="M583.84 134.39 L586.6 129.33 L581.08 129.33 Z" fill="#8c8c3c"/><path d="M584.5 137.32 L587.26 132.26 L581.74 132.26 Z" fill="#8c8c3c"/><path d="M585.18 140.24 L587.94 135.18 L582.42 135.18 Z" fill="#8c8c3c"/><path d="M585.87 143.16 L588.63 138.1 L583.11 138.1 Z" fill="#8c8c3c"/><path d="M586.57 146.08 L589.33 141.02 L583.81 141.02 Z" fill="#8c8c3c"/><path d="M587.27 148.99 L590.03 143.93 L584.51 143.93 Z" fill="#8c8c3c"/><path d="M587.98 151.91 L590.74 146.85 L585.22 146.85 Z" fill="#8c8c3c"/><path d="M588.73 154.81 L591.49 149.75 L585.97 149.75 Z" fill="#8c8c3c"/><path d="M589.52 157.71 L592.28 152.65 L586.76 152.65 Z" fill="#8c8c3c"/><path d="M590.36 160.58 L593.12 155.52 L587.6 155.52 Z" fill="#8c8c3c"/><path d="M591.25 163.45 L594.01 158.39 L588.49 158.39 Z" fill="#8c8c3c"/><path d="M592.17 166.31 L594.93 161.25 L589.41 161.25 Z" fill="#8c8c3c"/><path d="M593.15 169.14 L595.91 164.08 L590.39 164.08 Z" fill="#8c8c3c"/><path d="M594.2 171.95 L596.96 166.89 L591.44 166.89 Z" fill="#8c8c3c"/><path d="M595.28 174.75 L598.04 169.69 L592.52 169.69 Z" fill="#8c8c3c"/><path d="M596.42 177.52 L599.18 172.46 L593.66 172.46 Z" fill="#8c8c3c"/><path d="M597.63 180.27 L600.39 175.21 L594.87 175.21 Z" fill="#8c8c3c"/><path d="M598.95 182.96 L601.71 177.9 L596.19 177.9 Z" fill="#8c8c3c"/><path d="M600.38 185.6 L603.14 180.54 L597.62 180.54 Z" fill="#8c8c3c"/><path d="M601.87 188.21 L604.63 183.15 L599.11 183.15 Z" fill="#8c8c3c"/><path d="M603.44 190.76 L606.2 185.7 L600.68 185.7 Z" fill="#8c8c3c"/><path d="M605.12 193.24 L607.88 188.18 L602.36 188.18 Z" fill="#8c8c3c"/><path d="M606.96 195.62 L609.72 190.56 L604.2 190.56 Z" fill="#8c8c3c"/><path d="M608.98 197.83 L611.74 192.77 L606.22 192.77 Z" fill="#8c8c3c"/><path d="M611.16 199.9 L613.92 194.84 L608.4 194.84 Z" fill="#8c8c3c"/><path d="M613.46 201.82 L616.22 196.76 L610.7 196.76 Z" fill="#8c8c3c"/><path d="M615.86 203.62 L618.62 198.56 L613.1 198.56 Z" fill="#8c8c3c"/><path d="M618.32 205.33 L621.08 200.27 L615.56 200.27 Z" fill="#8c8c3c"/><path d="M620.84 206.96 L623.6 201.9 L618.08 201.9 Z" fill="#8c8c3c"/><path d="M623.44 208.46 L626.2 203.4 L620.68 203.4 Z" fill="#8c8c3c"/><path d="M626.15 209.74 L628.91 204.68 L623.39 204.68 Z" fill="#8c8c3c"/><path d="M628.94 210.84 L631.7 205.78 L626.18 205.78 Z" fill="#8c8c3c"/><path d="M631.76 211.86 L634.52 206.8 L629 206.8 Z" fill="#8c8c3c"/><path d="M634.65 212.67 L637.41 207.61 L631.89 207.61 Z" fill="#8c8c3c"/><path d="M637.62 213.09 L640.38 208.03 L634.86 208.03 Z" fill="#8c8c3c"/><path d="M640.61 213.3 L643.37 208.24 L637.85 208.24 Z" fill="#8c8c3c"/><path d="M643.6 213.48 L646.36 208.42 L640.84 208.42 Z" fill="#8c8c3c"/><path d="M646.6 213.63 L649.36 208.57 L643.84 208.57 Z" fill="#8c8c3c"/><path d="M649.6 213.75 L652.36 208.69 L646.84 208.69 Z" fill="#8c8c3c"/><path d="M652.59 213.85 L655.35 208.79 L649.83 208.79 Z" fill="#8c8c3c"/><path d="M655.59 213.91 L658.35 208.85 L652.83 208.85 Z" fill="#8c8c3c"/><path d="M658.59 213.94 L661.35 208.88 L655.83 208.88 Z" fill="#8c8c3c"/><path d="M661.59 213.94 L664.35 208.88 L658.83 208.88 Z" fill="#8c8c3c"/><path d="M664.59 213.92 L667.35 208.86 L661.83 208.86 Z" fill="#8c8c3c"/><path d="M667.59 213.87 L670.35 208.81 L664.83 208.81 Z" fill="#8c8c3c"/><path d="M670.59 213.81 L673.35 208.75 L667.83 208.75 Z" fill="#8c8c3c"/><path d="M673.59 213.72 L676.35 208.66 L670.83 208.66 Z" fill="#8c8c3c"/><path d="M676.59 213.61 L679.35 208.55 L673.83 208.55 Z" fill="#8c8c3c"/><path d="M679.56 213.24 L682.32 208.18 L676.8 208.18 Z" fill="#8c8c3c"/><path d="M682.46 212.48 L685.22 207.42 L679.7 207.42 Z" fill="#8c8c3c"/>
</g>
<text x="448" y="216.7" font-size="13.2" text-anchor="end" font-weight="bold" >0.0</text>
<text x="448" y="181.8" font-size="13.2" text-anchor="end" font-weight="bold" >0.2</text>
<text x="448" y="146.9" font-size="13.2" text-anchor="end" font-weight="bold" >0.4</text>
<text x="448" y="112" font-size="13.2" text-anchor="end" font-weight="bold" >0.6</text>
<text x="448" y="77.1" font-size="13.2" text-anchor="end" font-weight="bold" >0.8</text>
<text x="448" y="42.2" font-size="13.2" text-anchor="end" font-weight="bold" >1.0</text>
<text x="452.5" y="227.3" font-size="13.2" text-anchor="middle" font-weight="bold" >300</text>
<text x="500.75" y="227.3" font-size="13.2" text-anchor="middle" font-weight="bold" >400</text>
<text x="549" y="227.3" font-size="13.2" text-anchor="middle" font-weight="bold" >500</text>
<text x="597.25" y="227.3" font-size="13.2" text-anchor="middle" font-weight="bold" >600</text>
<text x="645.5" y="227.3" font-size="13.2" text-anchor="middle" font-weight="bold" >700</text>
<text x="693.75" y="227.3" font-size="13.2" text-anchor="middle" font-weight="bold" >800</text>
<text x="585.3" y="249.9" font-size="13.35" text-anchor="middle" font-weight="bold" >Wavelength (nm)</text>
<text transform="translate(412.7 123) rotate(-90)" font-size="13.2" text-anchor="middle" font-weight="bold">Normalized intensity (a.u.)</text>
<text x="454.6" y="32.5" font-size="13.35"><tspan font-weight="normal">Emitter: </tspan><tspan font-weight="bold">Ir(ppy)<tspan dy="4.2" font-size="9">2</tspan><tspan dy="-4.2">acac</tspan></tspan></text>
<text x="587" y="32.5" font-size="13.35" text-anchor="start" font-weight="normal" >HML:</text>
<path d="M580.2 49 H595.2" stroke="#c91ac9" stroke-width="2" fill="none"/>
<rect x="585.7" y="47" width="4" height="4" fill="#c91ac9"/>
<text x="597.8" y="50.9" font-size="13.3" text-anchor="start" font-weight="bold" >3,3',6,6'-TDTA-SBF</text>
<path d="M580.2 65.6 H595.2" stroke="#128a12" stroke-width="2" fill="none"/>
<circle cx="587.7" cy="65.6" r="2.2" fill="#128a12"/>
<text x="597.8" y="67.6" font-size="13.3" text-anchor="start" font-weight="bold" >3,3'-DDTA-SBF</text>
<path d="M580.2 82.3 H595.2" stroke="#1e90ff" stroke-width="2" fill="none"/>
<path d="M587.7 79.7 L590.1 84.1 L585.3 84.1 Z" fill="#1e90ff"/>
<text x="597.8" y="84.3" font-size="13.3" text-anchor="start" font-weight="bold" >3,6-DDTA-SBF</text>
<path d="M580.2 99 H595.2" stroke="#8c8c3c" stroke-width="2" fill="none"/>
<path d="M587.7 101.6 L590.1 97.2 L585.3 97.2 Z" fill="#8c8c3c"/>
<text x="597.8" y="101.3" font-size="13.3" text-anchor="start" font-weight="bold" >TAPC</text>
<clipPath id="cbp70"><rect x="70" y="282" width="266.4" height="195.2"/></clipPath>
<g clip-path="url(#cbp70)">
<path d="M70 308.6 L72.22 308.6 L74.44 308.6 L76.67 308.61 L78.89 308.61 L81.11 308.61 L83.33 308.61 L85.55 308.62 L87.78 308.62 L90 308.62 L92.22 308.63 L94.44 308.63 L96.67 308.64 L98.89 308.64 L101.11 308.65 L103.33 308.65 L105.55 308.66 L107.78 308.67 L110 308.67 L112.22 308.68 L114.44 308.68 L116.66 308.69 L118.89 308.7 L121.11 308.7 L123.33 308.71 L125.55 308.72 L127.77 308.72 L130 308.73 L132.22 308.74 L134.44 308.75 L136.66 308.75 L138.89 308.76 L141.11 308.77 L143.33 308.78 L145.55 308.79 L147.77 308.8 L150 308.81 L152.22 308.82 L154.44 308.83 L156.66 308.84 L158.89 308.85 L161.11 308.87 L163.33 308.88 L165.55 308.89 L167.77 308.91 L170 308.92 L172.22 308.94 L174.44 308.95 L176.66 308.97 L178.88 308.99 L181.11 309.01 L183.33 309.03 L185.55 309.05 L187.77 309.07 L189.99 309.09 L192.21 309.11 L194.44 309.14 L196.66 309.18 L198.88 309.23 L201.1 309.28 L203.32 309.34 L205.54 309.4 L207.76 309.47 L209.99 309.54 L212.21 309.61 L214.43 309.69 L216.65 309.77 L218.87 309.86 L221.09 309.94 L223.31 310.03 L225.53 310.12 L227.75 310.21 L229.97 310.3 L232.19 310.39 L234.41 310.5 L236.63 310.61 L238.85 310.72 L241.07 310.85 L243.29 310.97 L245.5 311.1 L247.72 311.24 L249.94 311.37 L252.16 311.5 L254.38 311.63 L256.6 311.76 L258.81 311.89 L261.03 312.01 L263.25 312.13 L265.47 312.24 L267.69 312.35 L269.91 312.46 L272.13 312.57 L274.35 312.68 L276.57 312.8 L278.79 312.92 L281.01 313.04 L283.23 313.17 L285.45 313.31 L287.66 313.46 L289.88 313.62 L292.09 313.79 L294.3 313.98 L296.51 314.2 L298.72 314.43 L300.93 314.69 L303.14 314.95 L305.35 315.21 L307.55 315.48 L309.76 315.75 L311.97 316.02 L314.17 316.28 L316.38 316.56 L318.58 316.83 L320.79 317.11 L322.99 317.4 L325.19 317.69 L327.4 317.99 L329.6 318.29 L331.8 318.59 L334 318.9" stroke="#c91ac9" stroke-width="2.2" fill="none" stroke-linejoin="round"/>
<path d="M70 309.8 L72.22 309.8 L74.45 309.8 L76.67 309.81 L78.9 309.81 L81.12 309.81 L83.34 309.81 L85.57 309.82 L87.79 309.82 L90.02 309.83 L92.24 309.83 L94.46 309.83 L96.69 309.84 L98.91 309.84 L101.14 309.85 L103.36 309.85 L105.58 309.86 L107.81 309.87 L110.03 309.87 L112.25 309.88 L114.48 309.88 L116.7 309.89 L118.93 309.9 L121.15 309.9 L123.37 309.91 L125.6 309.92 L127.82 309.92 L130.05 309.93 L132.27 309.94 L134.49 309.95 L136.72 309.95 L138.94 309.96 L141.17 309.97 L143.39 309.98 L145.62 309.99 L147.84 310 L150.06 310.01 L152.29 310.02 L154.51 310.03 L156.74 310.04 L158.96 310.05 L161.18 310.07 L163.41 310.08 L165.63 310.09 L167.86 310.11 L170.08 310.12 L172.3 310.14 L174.53 310.15 L176.75 310.17 L178.97 310.19 L181.2 310.21 L183.42 310.23 L185.65 310.25 L187.87 310.27 L190.09 310.29 L192.32 310.31 L194.54 310.35 L196.76 310.38 L198.99 310.43 L201.21 310.48 L203.43 310.54 L205.66 310.6 L207.88 310.67 L210.1 310.74 L212.33 310.82 L214.55 310.9 L216.77 310.98 L218.99 311.06 L221.22 311.15 L223.44 311.24 L225.66 311.33 L227.88 311.42 L230.1 311.5 L232.33 311.6 L234.55 311.7 L236.77 311.81 L238.99 311.93 L241.21 312.05 L243.43 312.18 L245.65 312.31 L247.87 312.44 L250.09 312.58 L252.31 312.71 L254.53 312.84 L256.75 312.97 L258.97 313.1 L261.19 313.22 L263.42 313.33 L265.64 313.44 L267.86 313.55 L270.09 313.65 L272.31 313.75 L274.53 313.86 L276.76 313.97 L278.98 314.09 L281.2 314.21 L283.42 314.35 L285.64 314.49 L287.85 314.65 L290.06 314.82 L292.27 315.02 L294.48 315.26 L296.68 315.55 L298.88 315.88 L301.08 316.23 L303.27 316.6 L305.47 316.98 L307.67 317.35 L309.86 317.72 L312.06 318.07 L314.26 318.42 L316.45 318.77 L318.65 319.12 L320.84 319.48 L323.04 319.84 L325.23 320.21 L327.42 320.58 L329.62 320.95 L331.81 321.32 L334 321.7" stroke="#128a12" stroke-width="2.2" fill="none" stroke-linejoin="round"/>
<path d="M70 310.7 L72.22 310.7 L74.45 310.7 L76.67 310.71 L78.89 310.71 L81.11 310.71 L83.34 310.71 L85.56 310.72 L87.78 310.72 L90 310.73 L92.23 310.73 L94.45 310.73 L96.67 310.74 L98.9 310.74 L101.12 310.75 L103.34 310.75 L105.56 310.76 L107.79 310.77 L110.01 310.77 L112.23 310.78 L114.45 310.78 L116.68 310.79 L118.9 310.8 L121.12 310.8 L123.35 310.81 L125.57 310.82 L127.79 310.82 L130.01 310.83 L132.24 310.84 L134.46 310.85 L136.68 310.85 L138.91 310.86 L141.13 310.87 L143.35 310.88 L145.57 310.89 L147.8 310.9 L150.02 310.91 L152.24 310.92 L154.47 310.93 L156.69 310.94 L158.91 310.95 L161.13 310.97 L163.36 310.98 L165.58 310.99 L167.8 311.01 L170.02 311.02 L172.25 311.04 L174.47 311.05 L176.69 311.07 L178.92 311.09 L181.14 311.11 L183.36 311.13 L185.58 311.15 L187.8 311.17 L190.03 311.19 L192.25 311.21 L194.47 311.24 L196.69 311.28 L198.92 311.33 L201.14 311.38 L203.36 311.44 L205.58 311.5 L207.8 311.57 L210.03 311.64 L212.25 311.71 L214.47 311.79 L216.69 311.88 L218.91 311.96 L221.13 312.05 L223.35 312.13 L225.58 312.22 L227.8 312.31 L230.02 312.4 L232.24 312.49 L234.46 312.6 L236.68 312.71 L238.9 312.83 L241.12 312.95 L243.34 313.08 L245.55 313.21 L247.77 313.34 L249.99 313.47 L252.21 313.6 L254.43 313.74 L256.65 313.87 L258.87 313.99 L261.09 314.11 L263.31 314.23 L265.53 314.34 L267.75 314.45 L269.97 314.56 L272.2 314.66 L274.42 314.77 L276.64 314.89 L278.86 315 L281.08 315.13 L283.3 315.26 L285.51 315.4 L287.73 315.55 L289.94 315.72 L292.15 315.9 L294.36 316.11 L296.57 316.36 L298.78 316.63 L300.98 316.91 L303.19 317.21 L305.39 317.52 L307.59 317.83 L309.8 318.14 L312 318.43 L314.2 318.73 L316.4 319.03 L318.61 319.34 L320.81 319.65 L323.01 319.97 L325.21 320.28 L327.41 320.61 L329.6 320.93 L331.8 321.26 L334 321.6" stroke="#1e90ff" stroke-width="2.2" fill="none" stroke-linejoin="round"/>
<path d="M70 309.3 L72.22 309.3 L74.45 309.3 L76.67 309.31 L78.89 309.31 L81.11 309.31 L83.34 309.31 L85.56 309.32 L87.78 309.32 L90 309.33 L92.23 309.33 L94.45 309.33 L96.67 309.34 L98.89 309.34 L101.12 309.35 L103.34 309.35 L105.56 309.36 L107.78 309.37 L110.01 309.37 L112.23 309.38 L114.45 309.38 L116.67 309.39 L118.9 309.4 L121.12 309.4 L123.34 309.41 L125.56 309.42 L127.79 309.42 L130.01 309.43 L132.23 309.44 L134.45 309.45 L136.68 309.45 L138.9 309.46 L141.12 309.47 L143.34 309.48 L145.57 309.49 L147.79 309.5 L150.01 309.51 L152.23 309.52 L154.46 309.53 L156.68 309.54 L158.9 309.55 L161.12 309.57 L163.35 309.58 L165.57 309.59 L167.79 309.61 L170.01 309.62 L172.24 309.64 L174.46 309.65 L176.68 309.67 L178.9 309.69 L181.13 309.71 L183.35 309.73 L185.57 309.75 L187.79 309.77 L190.01 309.79 L192.24 309.81 L194.46 309.84 L196.68 309.88 L198.9 309.93 L201.12 309.98 L203.35 310.04 L205.57 310.1 L207.79 310.17 L210.01 310.24 L212.23 310.31 L214.46 310.39 L216.68 310.47 L218.9 310.56 L221.12 310.65 L223.34 310.73 L225.56 310.82 L227.78 310.91 L230 311 L232.22 311.09 L234.44 311.2 L236.66 311.31 L238.88 311.42 L241.1 311.55 L243.32 311.67 L245.54 311.8 L247.76 311.94 L249.97 312.07 L252.19 312.2 L254.41 312.34 L256.63 312.47 L258.85 312.59 L261.07 312.71 L263.29 312.83 L265.51 312.94 L267.73 313.05 L269.95 313.16 L272.17 313.27 L274.39 313.38 L276.62 313.49 L278.84 313.61 L281.05 313.73 L283.27 313.86 L285.49 314 L287.71 314.15 L289.92 314.32 L292.13 314.49 L294.34 314.7 L296.55 314.94 L298.76 315.2 L300.97 315.47 L303.17 315.76 L305.38 316.05 L307.58 316.35 L309.78 316.64 L311.99 316.93 L314.19 317.22 L316.39 317.51 L318.6 317.8 L320.8 318.1 L323 318.41 L325.2 318.72 L327.4 319.03 L329.6 319.35 L331.8 319.67 L334 320" stroke="#8c8c3c" stroke-width="2.2" fill="none" stroke-linejoin="round"/>
<rect x="69" y="307.1" width="3" height="3" fill="#c91ac9"/><rect x="102.62" y="307.16" width="3" height="3" fill="#c91ac9"/><rect x="129.36" y="307.23" width="3" height="3" fill="#c91ac9"/><rect x="152.48" y="307.33" width="3" height="3" fill="#c91ac9"/><rect x="172.84" y="307.45" width="3" height="3" fill="#c91ac9"/><rect x="190.97" y="307.62" width="3" height="3" fill="#c91ac9"/><rect x="207.21" y="308" width="3" height="3" fill="#c91ac9"/><rect x="221.84" y="308.53" width="3" height="3" fill="#c91ac9"/><rect x="235.06" y="309.1" width="3" height="3" fill="#c91ac9"/><rect x="247.03" y="309.78" width="3" height="3" fill="#c91ac9"/><rect x="257.92" y="310.42" width="3" height="3" fill="#c91ac9"/><rect x="267.82" y="310.93" width="3" height="3" fill="#c91ac9"/><rect x="276.85" y="311.39" width="3" height="3" fill="#c91ac9"/><rect x="285.09" y="311.89" width="3" height="3" fill="#c91ac9"/><rect x="292.62" y="312.47" width="3" height="3" fill="#c91ac9"/><rect x="299.52" y="313.2" width="3" height="3" fill="#c91ac9"/><rect x="305.83" y="313.96" width="3" height="3" fill="#c91ac9"/><rect x="311.61" y="314.65" width="3" height="3" fill="#c91ac9"/><rect x="316.92" y="315.31" width="3" height="3" fill="#c91ac9"/><rect x="321.78" y="315.94" width="3" height="3" fill="#c91ac9"/><rect x="326.25" y="316.54" width="3" height="3" fill="#c91ac9"/><rect x="330.36" y="317.1" width="3" height="3" fill="#c91ac9"/>
<circle cx="77.5" cy="309.81" r="1.65" fill="#128a12"/><circle cx="108.99" cy="309.87" r="1.65" fill="#128a12"/><circle cx="135.02" cy="309.95" r="1.65" fill="#128a12"/><circle cx="157.62" cy="310.05" r="1.65" fill="#128a12"/><circle cx="177.57" cy="310.18" r="1.65" fill="#128a12"/><circle cx="195.36" cy="310.36" r="1.65" fill="#128a12"/><circle cx="211.31" cy="310.78" r="1.65" fill="#128a12"/><circle cx="225.68" cy="311.33" r="1.65" fill="#128a12"/><circle cx="238.68" cy="311.91" r="1.65" fill="#128a12"/><circle cx="250.46" cy="312.6" r="1.65" fill="#128a12"/><circle cx="261.17" cy="313.22" r="1.65" fill="#128a12"/><circle cx="270.91" cy="313.69" r="1.65" fill="#128a12"/><circle cx="279.8" cy="314.13" r="1.65" fill="#128a12"/><circle cx="287.92" cy="314.65" r="1.65" fill="#128a12"/><circle cx="295.34" cy="315.38" r="1.65" fill="#128a12"/><circle cx="302.13" cy="316.41" r="1.65" fill="#128a12"/><circle cx="308.35" cy="317.47" r="1.65" fill="#128a12"/><circle cx="314.05" cy="318.38" r="1.65" fill="#128a12"/><circle cx="319.27" cy="319.22" r="1.65" fill="#128a12"/><circle cx="324.07" cy="320.01" r="1.65" fill="#128a12"/><circle cx="328.48" cy="320.75" r="1.65" fill="#128a12"/><circle cx="332.52" cy="321.45" r="1.65" fill="#128a12"/>
<path d="M84.5 308.77 L86.3 312.07 L82.7 312.07 Z" fill="#1e90ff"/><path d="M114.51 308.83 L116.31 312.13 L112.71 312.13 Z" fill="#1e90ff"/><path d="M139.77 308.91 L141.57 312.21 L137.97 312.21 Z" fill="#1e90ff"/><path d="M161.79 309.02 L163.59 312.32 L159.99 312.32 Z" fill="#1e90ff"/><path d="M181.28 309.16 L183.08 312.46 L179.48 312.46 Z" fill="#1e90ff"/><path d="M198.68 309.37 L200.48 312.67 L196.88 312.67 Z" fill="#1e90ff"/><path d="M214.29 309.84 L216.09 313.14 L212.49 313.14 Z" fill="#1e90ff"/><path d="M228.38 310.38 L230.18 313.68 L226.58 313.68 Z" fill="#1e90ff"/><path d="M241.12 311 L242.92 314.3 L239.32 314.3 Z" fill="#1e90ff"/><path d="M252.68 311.68 L254.48 314.98 L250.88 314.98 Z" fill="#1e90ff"/><path d="M263.18 312.27 L264.98 315.57 L261.38 315.57 Z" fill="#1e90ff"/><path d="M272.75 312.74 L274.55 316.04 L270.95 316.04 Z" fill="#1e90ff"/><path d="M281.48 313.2 L283.28 316.5 L279.68 316.5 Z" fill="#1e90ff"/><path d="M289.45 313.73 L291.25 317.03 L287.65 317.03 Z" fill="#1e90ff"/><path d="M296.74 314.43 L298.54 317.73 L294.94 317.73 Z" fill="#1e90ff"/><path d="M303.41 315.3 L305.21 318.6 L301.61 318.6 Z" fill="#1e90ff"/><path d="M309.52 316.15 L311.32 319.45 L307.72 319.45 Z" fill="#1e90ff"/><path d="M315.13 316.91 L316.93 320.21 L313.33 320.21 Z" fill="#1e90ff"/><path d="M320.26 317.62 L322.06 320.92 L318.46 320.92 Z" fill="#1e90ff"/><path d="M324.98 318.3 L326.78 321.6 L323.18 321.6 Z" fill="#1e90ff"/><path d="M329.31 318.94 L331.11 322.24 L327.51 322.24 Z" fill="#1e90ff"/><path d="M333.29 319.54 L335.09 322.84 L331.49 322.84 Z" fill="#1e90ff"/>
<path d="M91.5 311.28 L93.3 307.98 L89.7 307.98 Z" fill="#8c8c3c"/><path d="M120.25 311.35 L122.05 308.05 L118.45 308.05 Z" fill="#8c8c3c"/><path d="M144.73 311.43 L146.53 308.13 L142.93 308.13 Z" fill="#8c8c3c"/><path d="M166.16 311.55 L167.96 308.25 L164.36 308.25 Z" fill="#8c8c3c"/><path d="M185.17 311.69 L186.97 308.39 L183.37 308.39 Z" fill="#8c8c3c"/><path d="M202.16 311.96 L203.96 308.66 L200.36 308.66 Z" fill="#8c8c3c"/><path d="M217.43 312.45 L219.23 309.15 L215.63 309.15 Z" fill="#8c8c3c"/><path d="M231.21 313 L233.01 309.7 L229.41 309.7 Z" fill="#8c8c3c"/><path d="M243.69 313.65 L245.49 310.35 L241.89 310.35 Z" fill="#8c8c3c"/><path d="M255.01 314.32 L256.81 311.02 L253.21 311.02 Z" fill="#8c8c3c"/><path d="M265.31 314.88 L267.11 311.58 L263.51 311.58 Z" fill="#8c8c3c"/><path d="M274.69 315.34 L276.49 312.04 L272.89 312.04 Z" fill="#8c8c3c"/><path d="M283.25 315.81 L285.05 312.51 L281.45 312.51 Z" fill="#8c8c3c"/><path d="M291.07 316.36 L292.87 313.06 L289.27 313.06 Z" fill="#8c8c3c"/><path d="M298.22 317.08 L300.02 313.78 L296.42 313.78 Z" fill="#8c8c3c"/><path d="M304.77 317.92 L306.57 314.62 L302.97 314.62 Z" fill="#8c8c3c"/><path d="M310.77 318.72 L312.57 315.42 L308.97 315.42 Z" fill="#8c8c3c"/><path d="M316.26 319.44 L318.06 316.14 L314.46 316.14 Z" fill="#8c8c3c"/><path d="M321.31 320.13 L323.11 316.83 L319.51 316.83 Z" fill="#8c8c3c"/><path d="M325.94 320.77 L327.74 317.47 L324.14 317.47 Z" fill="#8c8c3c"/><path d="M330.19 321.39 L331.99 318.09 L328.39 318.09 Z" fill="#8c8c3c"/>
<path d="M70 413.3 L72.23 413.34 L74.46 413.38 L76.69 413.43 L78.91 413.47 L81.14 413.51 L83.37 413.56 L85.6 413.6 L87.83 413.64 L90.06 413.69 L92.29 413.73 L94.51 413.78 L96.74 413.82 L98.97 413.86 L101.2 413.91 L103.43 413.95 L105.66 414 L107.88 414.05 L110.11 414.09 L112.34 414.14 L114.57 414.19 L116.8 414.23 L119.03 414.28 L121.26 414.33 L123.48 414.37 L125.71 414.42 L127.94 414.46 L130.17 414.51 L132.4 414.55 L134.63 414.59 L136.86 414.63 L139.09 414.68 L141.31 414.72 L143.54 414.76 L145.77 414.8 L148 414.85 L150.23 414.89 L152.46 414.93 L154.69 414.98 L156.92 415.02 L159.15 415.07 L161.37 415.12 L163.6 415.17 L165.83 415.22 L168.06 415.27 L170.29 415.32 L172.52 415.38 L174.74 415.44 L176.97 415.5 L179.2 415.56 L181.43 415.63 L183.65 415.69 L185.88 415.76 L188.11 415.84 L190.33 415.91 L192.56 415.99 L194.79 416.09 L197.01 416.19 L199.24 416.3 L201.46 416.41 L203.69 416.54 L205.92 416.67 L208.14 416.8 L210.37 416.94 L212.59 417.08 L214.82 417.23 L217.04 417.38 L219.26 417.54 L221.49 417.69 L223.71 417.85 L225.94 418.01 L228.16 418.17 L230.38 418.33 L232.61 418.49 L234.83 418.65 L237.05 418.82 L239.27 419 L241.5 419.18 L243.72 419.37 L245.94 419.56 L248.16 419.75 L250.38 419.96 L252.6 420.17 L254.82 420.38 L257.03 420.6 L259.25 420.83 L261.47 421.07 L263.68 421.31 L265.9 421.56 L268.11 421.81 L270.33 422.08 L272.54 422.35 L274.76 422.62 L276.97 422.91 L279.18 423.2 L281.39 423.5 L283.6 423.81 L285.8 424.12 L288 424.45 L290.21 424.78 L292.41 425.12 L294.6 425.5 L296.79 425.9 L298.98 426.31 L301.17 426.74 L303.36 427.18 L305.54 427.62 L307.73 428.06 L309.92 428.49 L312.11 428.91 L314.3 429.33 L316.49 429.75 L318.68 430.16 L320.87 430.58 L323.05 431 L325.24 431.42 L327.43 431.84 L329.62 432.26 L331.81 432.68 L334 433.1" stroke="#c91ac9" stroke-width="2.2" fill="none" stroke-linejoin="round"/>
<path d="M70 414.5 L72.23 414.54 L74.46 414.58 L76.69 414.63 L78.93 414.67 L81.16 414.71 L83.39 414.76 L85.62 414.8 L87.85 414.84 L90.08 414.89 L92.31 414.93 L94.54 414.98 L96.78 415.02 L99.01 415.07 L101.24 415.11 L103.47 415.16 L105.7 415.2 L107.93 415.25 L110.16 415.29 L112.39 415.34 L114.63 415.39 L116.86 415.43 L119.09 415.48 L121.32 415.53 L123.55 415.57 L125.78 415.62 L128.01 415.66 L130.24 415.71 L132.48 415.75 L134.71 415.79 L136.94 415.84 L139.17 415.88 L141.4 415.92 L143.63 415.96 L145.87 416 L148.1 416.05 L150.33 416.09 L152.56 416.13 L154.79 416.18 L157.02 416.23 L159.26 416.27 L161.49 416.32 L163.72 416.37 L165.95 416.42 L168.18 416.47 L170.41 416.53 L172.64 416.58 L174.87 416.64 L177.1 416.7 L179.33 416.76 L181.56 416.83 L183.79 416.9 L186.02 416.97 L188.25 417.04 L190.48 417.12 L192.71 417.2 L194.94 417.29 L197.17 417.4 L199.4 417.5 L201.63 417.62 L203.86 417.75 L206.08 417.88 L208.31 418.01 L210.54 418.15 L212.77 418.3 L214.99 418.45 L217.22 418.6 L219.45 418.75 L221.68 418.91 L223.9 419.07 L226.13 419.22 L228.35 419.38 L230.58 419.54 L232.81 419.7 L235.03 419.87 L237.26 420.04 L239.48 420.22 L241.71 420.4 L243.93 420.58 L246.16 420.78 L248.38 420.97 L250.6 421.18 L252.82 421.39 L255.04 421.6 L257.26 421.83 L259.48 422.05 L261.7 422.28 L263.93 422.52 L266.15 422.76 L268.37 423.01 L270.59 423.26 L272.81 423.52 L275.03 423.8 L277.24 424.08 L279.46 424.37 L281.67 424.67 L283.88 424.99 L286.08 425.32 L288.28 425.66 L290.48 426.01 L292.67 426.4 L294.85 426.83 L297.03 427.3 L299.2 427.81 L301.38 428.34 L303.54 428.88 L305.71 429.42 L307.88 429.96 L310.06 430.48 L312.23 430.98 L314.41 431.48 L316.58 431.97 L318.76 432.46 L320.94 432.96 L323.11 433.45 L325.29 433.94 L327.47 434.43 L329.64 434.92 L331.82 435.41 L334 435.9" stroke="#128a12" stroke-width="2.2" fill="none" stroke-linejoin="round"/>
<path d="M70 415.6 L72.23 415.64 L74.46 415.68 L76.69 415.73 L78.92 415.77 L81.15 415.81 L83.38 415.86 L85.61 415.9 L87.84 415.94 L90.07 415.99 L92.3 416.03 L94.52 416.08 L96.75 416.12 L98.98 416.16 L101.21 416.21 L103.44 416.26 L105.67 416.3 L107.9 416.35 L110.13 416.39 L112.36 416.44 L114.59 416.49 L116.82 416.53 L119.05 416.58 L121.28 416.63 L123.51 416.67 L125.74 416.72 L127.97 416.76 L130.2 416.81 L132.43 416.85 L134.66 416.89 L136.89 416.93 L139.12 416.98 L141.35 417.02 L143.58 417.06 L145.81 417.1 L148.04 417.15 L150.27 417.19 L152.5 417.23 L154.73 417.28 L156.96 417.32 L159.18 417.37 L161.41 417.42 L163.64 417.47 L165.87 417.52 L168.1 417.57 L170.33 417.63 L172.56 417.68 L174.79 417.74 L177.02 417.8 L179.25 417.86 L181.48 417.93 L183.7 417.99 L185.93 418.06 L188.16 418.14 L190.39 418.21 L192.61 418.3 L194.84 418.39 L197.07 418.49 L199.3 418.6 L201.52 418.72 L203.75 418.84 L205.98 418.97 L208.2 419.1 L210.43 419.24 L212.65 419.39 L214.88 419.54 L217.1 419.69 L219.33 419.84 L221.56 420 L223.78 420.16 L226 420.32 L228.23 420.47 L230.45 420.63 L232.68 420.79 L234.9 420.96 L237.12 421.13 L239.35 421.31 L241.57 421.49 L243.79 421.67 L246.02 421.86 L248.24 422.06 L250.46 422.26 L252.68 422.47 L254.9 422.69 L257.11 422.91 L259.33 423.14 L261.55 423.37 L263.77 423.61 L265.99 423.86 L268.2 424.11 L270.42 424.37 L272.64 424.64 L274.85 424.91 L277.07 425.19 L279.28 425.49 L281.49 425.79 L283.7 426.1 L285.9 426.42 L288.1 426.75 L290.3 427.09 L292.5 427.45 L294.69 427.84 L296.88 428.27 L299.06 428.72 L301.24 429.19 L303.42 429.67 L305.6 430.15 L307.79 430.62 L309.97 431.09 L312.15 431.54 L314.34 431.98 L316.52 432.43 L318.71 432.88 L320.89 433.32 L323.08 433.77 L325.26 434.22 L327.45 434.66 L329.63 435.11 L331.82 435.55 L334 436" stroke="#1e90ff" stroke-width="2.2" fill="none" stroke-linejoin="round"/>
<path d="M70 414 L72.23 414.04 L74.46 414.08 L76.69 414.13 L78.92 414.17 L81.15 414.21 L83.38 414.26 L85.6 414.3 L87.83 414.34 L90.06 414.39 L92.29 414.43 L94.52 414.48 L96.75 414.52 L98.98 414.56 L101.21 414.61 L103.44 414.66 L105.67 414.7 L107.9 414.75 L110.12 414.79 L112.35 414.84 L114.58 414.89 L116.81 414.93 L119.04 414.98 L121.27 415.03 L123.5 415.07 L125.73 415.12 L127.96 415.16 L130.19 415.21 L132.42 415.25 L134.65 415.29 L136.88 415.33 L139.11 415.38 L141.34 415.42 L143.56 415.46 L145.79 415.5 L148.02 415.55 L150.25 415.59 L152.48 415.63 L154.71 415.68 L156.94 415.72 L159.17 415.77 L161.4 415.82 L163.63 415.87 L165.86 415.92 L168.09 415.97 L170.32 416.03 L172.55 416.08 L174.77 416.14 L177 416.2 L179.23 416.26 L181.46 416.33 L183.69 416.39 L185.91 416.46 L188.14 416.54 L190.37 416.61 L192.6 416.7 L194.82 416.79 L197.05 416.89 L199.28 417 L201.5 417.12 L203.73 417.24 L205.96 417.37 L208.18 417.5 L210.41 417.64 L212.63 417.79 L214.86 417.94 L217.08 418.09 L219.31 418.24 L221.53 418.4 L223.76 418.56 L225.98 418.71 L228.2 418.87 L230.43 419.03 L232.65 419.19 L234.88 419.36 L237.1 419.53 L239.32 419.7 L241.55 419.88 L243.77 420.07 L245.99 420.26 L248.21 420.46 L250.43 420.66 L252.65 420.87 L254.87 421.09 L257.09 421.31 L259.3 421.54 L261.52 421.77 L263.74 422.01 L265.96 422.26 L268.17 422.51 L270.39 422.77 L272.61 423.04 L274.82 423.31 L277.03 423.6 L279.24 423.89 L281.45 424.19 L283.66 424.5 L285.87 424.82 L288.07 425.15 L290.27 425.49 L292.47 425.84 L294.66 426.23 L296.85 426.65 L299.03 427.08 L301.22 427.54 L303.4 428 L305.58 428.47 L307.77 428.93 L309.95 429.39 L312.14 429.83 L314.32 430.26 L316.51 430.7 L318.7 431.14 L320.88 431.58 L323.07 432.01 L325.25 432.45 L327.44 432.89 L329.63 433.33 L331.81 433.76 L334 434.2" stroke="#8c8c3c" stroke-width="2.2" fill="none" stroke-linejoin="round"/>
<rect x="69" y="411.81" width="3" height="3" fill="#c91ac9"/><rect x="102.62" y="412.47" width="3" height="3" fill="#c91ac9"/><rect x="129.36" y="413.02" width="3" height="3" fill="#c91ac9"/><rect x="152.48" y="413.46" width="3" height="3" fill="#c91ac9"/><rect x="172.84" y="413.93" width="3" height="3" fill="#c91ac9"/><rect x="190.97" y="414.49" width="3" height="3" fill="#c91ac9"/><rect x="207.21" y="415.34" width="3" height="3" fill="#c91ac9"/><rect x="221.84" y="416.33" width="3" height="3" fill="#c91ac9"/><rect x="235.06" y="417.29" width="3" height="3" fill="#c91ac9"/><rect x="247.03" y="418.29" width="3" height="3" fill="#c91ac9"/><rect x="257.92" y="419.35" width="3" height="3" fill="#c91ac9"/><rect x="267.82" y="420.46" width="3" height="3" fill="#c91ac9"/><rect x="276.85" y="421.59" width="3" height="3" fill="#c91ac9"/><rect x="285.09" y="422.74" width="3" height="3" fill="#c91ac9"/><rect x="292.62" y="423.92" width="3" height="3" fill="#c91ac9"/><rect x="299.52" y="425.21" width="3" height="3" fill="#c91ac9"/><rect x="305.83" y="426.48" width="3" height="3" fill="#c91ac9"/><rect x="311.61" y="427.6" width="3" height="3" fill="#c91ac9"/><rect x="316.92" y="428.62" width="3" height="3" fill="#c91ac9"/><rect x="321.78" y="429.55" width="3" height="3" fill="#c91ac9"/><rect x="326.25" y="430.4" width="3" height="3" fill="#c91ac9"/><rect x="330.36" y="431.19" width="3" height="3" fill="#c91ac9"/>
<circle cx="77.5" cy="414.64" r="1.65" fill="#128a12"/><circle cx="108.99" cy="415.27" r="1.65" fill="#128a12"/><circle cx="135.02" cy="415.8" r="1.65" fill="#128a12"/><circle cx="157.62" cy="416.24" r="1.65" fill="#128a12"/><circle cx="177.57" cy="416.72" r="1.65" fill="#128a12"/><circle cx="195.36" cy="417.31" r="1.65" fill="#128a12"/><circle cx="211.31" cy="418.2" r="1.65" fill="#128a12"/><circle cx="225.68" cy="419.19" r="1.65" fill="#128a12"/><circle cx="238.68" cy="420.15" r="1.65" fill="#128a12"/><circle cx="250.46" cy="421.17" r="1.65" fill="#128a12"/><circle cx="261.17" cy="422.23" r="1.65" fill="#128a12"/><circle cx="270.91" cy="423.3" r="1.65" fill="#128a12"/><circle cx="279.8" cy="424.42" r="1.65" fill="#128a12"/><circle cx="287.92" cy="425.6" r="1.65" fill="#128a12"/><circle cx="295.34" cy="426.94" r="1.65" fill="#128a12"/><circle cx="302.13" cy="428.53" r="1.65" fill="#128a12"/><circle cx="308.35" cy="430.07" r="1.65" fill="#128a12"/><circle cx="314.05" cy="431.39" r="1.65" fill="#128a12"/><circle cx="319.27" cy="432.58" r="1.65" fill="#128a12"/><circle cx="324.07" cy="433.67" r="1.65" fill="#128a12"/><circle cx="328.48" cy="434.66" r="1.65" fill="#128a12"/><circle cx="332.52" cy="435.57" r="1.65" fill="#128a12"/>
<path d="M84.5 413.93 L86.3 417.23 L82.7 417.23 Z" fill="#1e90ff"/><path d="M114.51 414.53 L116.31 417.83 L112.71 417.83 Z" fill="#1e90ff"/><path d="M139.77 415.04 L141.57 418.34 L137.97 418.34 Z" fill="#1e90ff"/><path d="M161.79 415.48 L163.59 418.78 L159.99 418.78 Z" fill="#1e90ff"/><path d="M181.28 415.97 L183.08 419.27 L179.48 419.27 Z" fill="#1e90ff"/><path d="M198.68 416.62 L200.48 419.92 L196.88 419.92 Z" fill="#1e90ff"/><path d="M214.29 417.55 L216.09 420.85 L212.49 420.85 Z" fill="#1e90ff"/><path d="M228.38 418.53 L230.18 421.83 L226.58 421.83 Z" fill="#1e90ff"/><path d="M241.12 419.5 L242.92 422.8 L239.32 422.8 Z" fill="#1e90ff"/><path d="M252.68 420.52 L254.48 423.82 L250.88 423.82 Z" fill="#1e90ff"/><path d="M263.18 421.6 L264.98 424.9 L261.38 424.9 Z" fill="#1e90ff"/><path d="M272.75 422.7 L274.55 426 L270.95 426 Z" fill="#1e90ff"/><path d="M281.48 423.84 L283.28 427.14 L279.68 427.14 Z" fill="#1e90ff"/><path d="M289.45 425.01 L291.25 428.31 L287.65 428.31 Z" fill="#1e90ff"/><path d="M296.74 426.29 L298.54 429.59 L294.94 429.59 Z" fill="#1e90ff"/><path d="M303.41 427.71 L305.21 431.01 L301.61 431.01 Z" fill="#1e90ff"/><path d="M309.52 429.04 L311.32 432.34 L307.72 432.34 Z" fill="#1e90ff"/><path d="M315.13 430.19 L316.93 433.49 L313.33 433.49 Z" fill="#1e90ff"/><path d="M320.26 431.24 L322.06 434.54 L318.46 434.54 Z" fill="#1e90ff"/><path d="M324.98 432.21 L326.78 435.51 L323.18 435.51 Z" fill="#1e90ff"/><path d="M329.31 433.09 L331.11 436.39 L327.51 436.39 Z" fill="#1e90ff"/><path d="M333.29 433.91 L335.09 437.21 L331.49 437.21 Z" fill="#1e90ff"/>
<path d="M91.5 416.37 L93.3 413.07 L89.7 413.07 Z" fill="#8c8c3c"/><path d="M120.25 416.96 L122.05 413.66 L118.45 413.66 Z" fill="#8c8c3c"/><path d="M144.73 417.43 L146.53 414.13 L142.93 414.13 Z" fill="#8c8c3c"/><path d="M166.16 417.88 L167.96 414.58 L164.36 414.58 Z" fill="#8c8c3c"/><path d="M185.17 418.39 L186.97 415.09 L183.37 415.09 Z" fill="#8c8c3c"/><path d="M202.16 419.1 L203.96 415.8 L200.36 415.8 Z" fill="#8c8c3c"/><path d="M217.43 420.06 L219.23 416.76 L215.63 416.76 Z" fill="#8c8c3c"/><path d="M231.21 421.04 L233.01 417.74 L229.41 417.74 Z" fill="#8c8c3c"/><path d="M243.69 422.01 L245.49 418.71 L241.89 418.71 Z" fill="#8c8c3c"/><path d="M255.01 423.05 L256.81 419.75 L253.21 419.75 Z" fill="#8c8c3c"/><path d="M265.31 424.14 L267.11 420.84 L263.51 420.84 Z" fill="#8c8c3c"/><path d="M274.69 425.25 L276.49 421.95 L272.89 421.95 Z" fill="#8c8c3c"/><path d="M283.25 426.39 L285.05 423.09 L281.45 423.09 Z" fill="#8c8c3c"/><path d="M291.07 427.56 L292.87 424.26 L289.27 424.26 Z" fill="#8c8c3c"/><path d="M298.22 428.87 L300.02 425.57 L296.42 425.57 Z" fill="#8c8c3c"/><path d="M304.77 430.25 L306.57 426.95 L302.97 426.95 Z" fill="#8c8c3c"/><path d="M310.77 431.5 L312.57 428.2 L308.97 428.2 Z" fill="#8c8c3c"/><path d="M316.26 432.6 L318.06 429.3 L314.46 429.3 Z" fill="#8c8c3c"/><path d="M321.31 433.61 L323.11 430.31 L319.51 430.31 Z" fill="#8c8c3c"/><path d="M325.94 434.54 L327.74 431.24 L324.14 431.24 Z" fill="#8c8c3c"/><path d="M330.19 435.39 L331.99 432.09 L328.39 432.09 Z" fill="#8c8c3c"/>
</g>
<rect x="70" y="282" width="264.9" height="195.2" stroke="#000" stroke-width="2.4" fill="none" stroke-linecap="square"/>
<path d="M70 473.77h3.2M70 470.73h3.2M70 468.1h3.2M70 465.78h3.2M70 463.7h5.2M70 450.03h3.2M70 442.04h3.2M70 436.37h3.2M70 431.97h3.2M70 428.37h3.2M70 425.33h3.2M70 422.7h3.2M70 420.38h3.2M70 418.3h5.2M70 404.63h3.2M70 396.64h3.2M70 390.97h3.2M70 386.57h3.2M70 382.97h3.2M70 379.93h3.2M70 377.3h3.2M70 374.98h3.2M70 372.9h5.2M70 359.23h3.2M70 351.24h3.2M70 345.57h3.2M70 341.17h3.2M70 337.57h3.2M70 334.53h3.2M70 331.9h3.2M70 329.58h3.2M70 327.5h5.2M70 313.83h3.2M70 305.84h3.2M70 300.17h3.2M70 295.77h3.2M70 292.17h3.2M70 289.13h3.2M70 286.5h3.2M70 284.18h3.2M70 282.1h5.2M334.9 477.2h-5.2M334.9 465.45h-3.2M334.9 458.57h-3.2M334.9 453.7h-3.2M334.9 449.91h-3.2M334.9 446.82h-3.2M334.9 444.21h-3.2M334.9 441.94h-3.2M334.9 439.95h-3.2M334.9 438.16h-5.2M334.9 426.41h-3.2M334.9 419.53h-3.2M334.9 414.66h-3.2M334.9 410.87h-3.2M334.9 407.78h-3.2M334.9 405.17h-3.2M334.9 402.9h-3.2M334.9 400.91h-3.2M334.9 399.12h-5.2M334.9 387.37h-3.2M334.9 380.49h-3.2M334.9 375.62h-3.2M334.9 371.83h-3.2M334.9 368.74h-3.2M334.9 366.13h-3.2M334.9 363.86h-3.2M334.9 361.87h-3.2M334.9 360.08h-5.2M334.9 348.33h-3.2M334.9 341.45h-3.2M334.9 336.58h-3.2M334.9 332.79h-3.2M334.9 329.7h-3.2M334.9 327.09h-3.2M334.9 324.82h-3.2M334.9 322.83h-3.2M334.9 321.04h-5.2M334.9 309.29h-3.2M334.9 302.41h-3.2M334.9 297.54h-3.2M334.9 293.75h-3.2M334.9 290.66h-3.2M334.9 288.05h-3.2M334.9 285.78h-3.2M334.9 283.79h-3.2M334.9 282h-5.2M70 477.2v-5.2M96.58 477.2v-3.2M112.13 477.2v-3.2M123.16 477.2v-3.2M131.72 477.2v-3.2M138.71 477.2v-3.2M144.62 477.2v-3.2M149.74 477.2v-3.2M154.26 477.2v-3.2M158.3 477.2v-5.2M184.88 477.2v-3.2M200.43 477.2v-3.2M211.46 477.2v-3.2M220.02 477.2v-3.2M227.01 477.2v-3.2M232.92 477.2v-3.2M238.04 477.2v-3.2M242.56 477.2v-3.2M246.6 477.2v-5.2M273.18 477.2v-3.2M288.73 477.2v-3.2M299.76 477.2v-3.2M308.32 477.2v-3.2M315.31 477.2v-3.2M321.22 477.2v-3.2M326.34 477.2v-3.2M330.86 477.2v-3.2M334.9 477.2v-5.2" stroke="#000" stroke-width="2.1" fill="none"/>
<text x="64.2" y="286.7" font-size="12.7" text-anchor="end" font-weight="bold" >10<tspan dy="-5.9" font-size="8.25">2</tspan></text>
<text x="64.2" y="332.1" font-size="12.7" text-anchor="end" font-weight="bold" >10<tspan dy="-5.9" font-size="8.25">1</tspan></text>
<text x="64.2" y="377.5" font-size="12.7" text-anchor="end" font-weight="bold" >10<tspan dy="-5.9" font-size="8.25">0</tspan></text>
<text x="64.2" y="422.9" font-size="12.7" text-anchor="end" font-weight="bold" >10<tspan dy="-5.9" font-size="8.25">-1</tspan></text>
<text x="64.2" y="468.3" font-size="12.7" text-anchor="end" font-weight="bold" >10<tspan dy="-5.9" font-size="8.25">-2</tspan></text>
<text x="339.1" y="481.8" font-size="12.7" text-anchor="start" font-weight="bold" >10<tspan dy="-5.9" font-size="8.25">0</tspan></text>
<text x="339.1" y="442.76" font-size="12.7" text-anchor="start" font-weight="bold" >10<tspan dy="-5.9" font-size="8.25">1</tspan></text>
<text x="339.1" y="403.72" font-size="12.7" text-anchor="start" font-weight="bold" >10<tspan dy="-5.9" font-size="8.25">2</tspan></text>
<text x="339.1" y="364.68" font-size="12.7" text-anchor="start" font-weight="bold" >10<tspan dy="-5.9" font-size="8.25">3</tspan></text>
<text x="339.1" y="325.64" font-size="12.7" text-anchor="start" font-weight="bold" >10<tspan dy="-5.9" font-size="8.25">4</tspan></text>
<text x="339.1" y="286.6" font-size="12.7" text-anchor="start" font-weight="bold" >10<tspan dy="-5.9" font-size="8.25">5</tspan></text>
<text x="70.6" y="494.7" font-size="12.7" text-anchor="middle" font-weight="bold" >10<tspan dy="-5.9" font-size="8.25">1</tspan></text>
<text x="158.9" y="494.7" font-size="12.7" text-anchor="middle" font-weight="bold" >10<tspan dy="-5.9" font-size="8.25">2</tspan></text>
<text x="247.2" y="494.7" font-size="12.7" text-anchor="middle" font-weight="bold" >10<tspan dy="-5.9" font-size="8.25">3</tspan></text>
<text x="335.5" y="494.7" font-size="12.7" text-anchor="middle" font-weight="bold" >10<tspan dy="-5.9" font-size="8.25">4</tspan></text>
<g clip-path="url(#cb)">
<text x="202.45" y="519.8" font-size="13.25" text-anchor="middle" font-weight="bold" >Luminance (cd m<tspan dy="-5.5" font-size="9">-2</tspan><tspan dy="5.5">)</tspan></text>
</g>
<text transform="translate(31 388.3) rotate(-90)" font-size="13.25" text-anchor="middle" font-weight="bold">EQE (%)</text>
<text transform="translate(375.3 388) rotate(-90)" font-size="13.25" text-anchor="middle" font-weight="bold">Power Efficiency (lm W<tspan dy="-5.5" font-size="9">-1</tspan><tspan dy="5.5">)</tspan></text>
<text x="77.6" y="298.7" font-size="13.35"><tspan font-weight="normal">Emitter: </tspan><tspan font-weight="bold">Ir(mphmq)<tspan dy="4.2" font-size="9">2</tspan><tspan dy="-4.2">tmd</tspan></tspan></text>
<text x="79" y="332.9" font-size="13.35" text-anchor="start" font-weight="normal" >HML:</text>
<path d="M112.6 329.3 H126.8" stroke="#c91ac9" stroke-width="2" fill="none"/>
<rect x="117.7" y="327.3" width="4" height="4" fill="#c91ac9"/>
<text x="130.2" y="330.9" font-size="13.3" text-anchor="start" font-weight="bold" >3,3',6,6'-TDTA-SBF</text>
<path d="M112.6 346.2 H126.8" stroke="#128a12" stroke-width="2" fill="none"/>
<circle cx="119.7" cy="346.2" r="2.2" fill="#128a12"/>
<text x="130.2" y="347.8" font-size="13.3" text-anchor="start" font-weight="bold" >3,3'-DDTA-SBF</text>
<path d="M112.6 362.8 H126.8" stroke="#1e90ff" stroke-width="2" fill="none"/>
<path d="M119.7 360.2 L122.1 364.6 L117.3 364.6 Z" fill="#1e90ff"/>
<text x="130.2" y="364.5" font-size="13.3" text-anchor="start" font-weight="bold" >3,6-DDTA-SBF</text>
<path d="M112.6 379.7 H126.8" stroke="#8c8c3c" stroke-width="2" fill="none"/>
<path d="M119.7 382.3 L122.1 377.9 L117.3 377.9 Z" fill="#8c8c3c"/>
<text x="130.2" y="381" font-size="13.3" text-anchor="start" font-weight="bold" >TAPC</text>
<ellipse cx="259" cy="313.5" rx="6" ry="17.5" fill="none" stroke="#000" stroke-width="1.05"/>
<path d="M259 296 H243.5" stroke="#000" stroke-width="0.95" fill="none"/>
<path d="M243.5 296 l4.6 -1.9 v3.8 Z" fill="#000"/>
<ellipse cx="256.5" cy="418.5" rx="6" ry="17.5" fill="none" stroke="#000" stroke-width="1.05"/>
<path d="M256.5 401 H271.5" stroke="#000" stroke-width="0.95" fill="none"/>
<path d="M271.5 401 l-4.6 -1.9 v3.8 Z" fill="#000"/>
<clipPath id="cbp450"><rect x="450" y="282" width="266.4" height="195.2"/></clipPath>
<g clip-path="url(#cbp450)">
<path d="M465.8 309 L467.89 308.98 L469.97 308.95 L472.06 308.93 L474.15 308.91 L476.23 308.88 L478.32 308.86 L480.41 308.83 L482.49 308.81 L484.58 308.79 L486.67 308.76 L488.75 308.74 L490.84 308.71 L492.92 308.69 L495.01 308.66 L497.1 308.64 L499.18 308.61 L501.27 308.58 L503.36 308.56 L505.44 308.53 L507.53 308.5 L509.62 308.47 L511.7 308.44 L513.79 308.42 L515.88 308.39 L517.96 308.36 L520.05 308.33 L522.14 308.3 L524.22 308.26 L526.31 308.23 L528.39 308.2 L530.48 308.17 L532.57 308.14 L534.65 308.11 L536.74 308.08 L538.83 308.06 L540.91 308.03 L543 308 L545.09 307.97 L547.17 307.95 L549.26 307.92 L551.35 307.89 L553.43 307.87 L555.52 307.85 L557.61 307.82 L559.69 307.8 L561.78 307.78 L563.86 307.76 L565.95 307.74 L568.04 307.72 L570.12 307.7 L572.21 307.67 L574.3 307.65 L576.38 307.63 L578.47 307.61 L580.56 307.59 L582.64 307.56 L584.73 307.54 L586.82 307.53 L588.9 307.51 L590.99 307.49 L593.08 307.47 L595.16 307.46 L597.25 307.44 L599.34 307.43 L601.42 307.42 L603.51 307.41 L605.6 307.41 L607.68 307.4 L609.77 307.4 L611.86 307.4 L613.94 307.4 L616.03 307.41 L618.12 307.43 L620.2 307.44 L622.29 307.46 L624.38 307.49 L626.46 307.52 L628.55 307.55 L630.64 307.58 L632.72 307.62 L634.81 307.66 L636.9 307.7 L638.98 307.74 L641.07 307.78 L643.15 307.83 L645.24 307.87 L647.33 307.92 L649.41 307.96 L651.5 308.01 L653.58 308.07 L655.67 308.13 L657.75 308.2 L659.84 308.27 L661.92 308.36 L664.01 308.44 L666.09 308.54 L668.18 308.63 L670.26 308.73 L672.35 308.83 L674.43 308.93 L676.52 309.03 L678.6 309.13 L680.69 309.23 L682.77 309.33 L684.85 309.44 L686.94 309.54 L689.02 309.65 L691.11 309.77 L693.19 309.88 L695.27 310.01 L697.36 310.13 L699.44 310.26 L701.52 310.4 L703.6 310.55 L705.68 310.71 L707.76 310.87 L709.84 311.04 L711.92 311.22 L714 311.4" stroke="#c91ac9" stroke-width="2.2" fill="none" stroke-linejoin="round"/>
<path d="M457 313.4 L459.16 313.34 L461.32 313.29 L463.48 313.23 L465.64 313.18 L467.8 313.12 L469.96 313.07 L472.12 313.01 L474.28 312.96 L476.44 312.9 L478.6 312.84 L480.76 312.79 L482.92 312.73 L485.09 312.68 L487.25 312.62 L489.41 312.57 L491.57 312.51 L493.73 312.46 L495.89 312.4 L498.05 312.35 L500.21 312.29 L502.37 312.24 L504.53 312.18 L506.69 312.12 L508.85 312.06 L511.01 312 L513.17 311.94 L515.33 311.88 L517.49 311.81 L519.65 311.75 L521.81 311.69 L523.97 311.62 L526.13 311.56 L528.29 311.5 L530.45 311.44 L532.61 311.38 L534.77 311.32 L536.93 311.26 L539.1 311.2 L541.26 311.15 L543.42 311.1 L545.58 311.05 L547.74 311 L549.9 310.96 L552.06 310.92 L554.22 310.88 L556.38 310.85 L558.54 310.82 L560.7 310.79 L562.86 310.77 L565.02 310.74 L567.18 310.72 L569.34 310.69 L571.51 310.67 L573.67 310.64 L575.83 310.62 L577.99 310.6 L580.15 310.58 L582.31 310.55 L584.47 310.53 L586.63 310.52 L588.79 310.5 L590.96 310.48 L593.12 310.47 L595.28 310.45 L597.44 310.44 L599.6 310.43 L601.76 310.42 L603.92 310.41 L606.08 310.41 L608.24 310.4 L610.41 310.4 L612.57 310.4 L614.73 310.41 L616.89 310.42 L619.05 310.43 L621.21 310.45 L623.37 310.47 L625.53 310.5 L627.7 310.53 L629.86 310.56 L632.02 310.6 L634.18 310.64 L636.34 310.68 L638.5 310.72 L640.66 310.77 L642.82 310.81 L644.98 310.86 L647.14 310.91 L649.3 310.96 L651.46 311.01 L653.62 311.07 L655.78 311.15 L657.94 311.23 L660.1 311.33 L662.26 311.43 L664.42 311.54 L666.57 311.66 L668.73 311.78 L670.89 311.91 L673.05 312.04 L675.21 312.16 L677.36 312.29 L679.52 312.41 L681.68 312.54 L683.84 312.66 L685.99 312.79 L688.15 312.92 L690.31 313.05 L692.47 313.19 L694.62 313.33 L696.78 313.48 L698.93 313.64 L701.09 313.8 L703.24 313.98 L705.39 314.17 L707.55 314.36 L709.7 314.57 L711.85 314.78 L714 315" stroke="#128a12" stroke-width="2.2" fill="none" stroke-linejoin="round"/>
<path d="M465.8 310.2 L467.89 310.18 L469.97 310.15 L472.06 310.13 L474.15 310.11 L476.23 310.08 L478.32 310.06 L480.41 310.03 L482.49 310.01 L484.58 309.99 L486.67 309.96 L488.75 309.94 L490.84 309.91 L492.93 309.89 L495.01 309.86 L497.1 309.84 L499.19 309.81 L501.27 309.78 L503.36 309.76 L505.45 309.73 L507.53 309.7 L509.62 309.67 L511.71 309.64 L513.79 309.62 L515.88 309.59 L517.96 309.56 L520.05 309.53 L522.14 309.49 L524.22 309.46 L526.31 309.43 L528.4 309.4 L530.48 309.37 L532.57 309.34 L534.66 309.31 L536.74 309.28 L538.83 309.26 L540.92 309.23 L543 309.2 L545.09 309.17 L547.18 309.15 L549.26 309.12 L551.35 309.09 L553.44 309.07 L555.52 309.05 L557.61 309.02 L559.7 309 L561.78 308.98 L563.87 308.96 L565.96 308.94 L568.04 308.92 L570.13 308.9 L572.22 308.87 L574.3 308.85 L576.39 308.83 L578.48 308.81 L580.56 308.79 L582.65 308.76 L584.74 308.74 L586.82 308.73 L588.91 308.71 L591 308.69 L593.08 308.67 L595.17 308.66 L597.26 308.64 L599.34 308.63 L601.43 308.62 L603.52 308.61 L605.6 308.61 L607.69 308.6 L609.78 308.6 L611.86 308.6 L613.95 308.6 L616.04 308.61 L618.12 308.63 L620.21 308.64 L622.3 308.66 L624.38 308.69 L626.47 308.72 L628.56 308.75 L630.64 308.78 L632.73 308.81 L634.82 308.85 L636.9 308.89 L638.99 308.94 L641.08 308.98 L643.16 309.02 L645.25 309.07 L647.34 309.12 L649.42 309.16 L651.51 309.21 L653.59 309.27 L655.68 309.33 L657.76 309.41 L659.85 309.49 L661.93 309.58 L664.02 309.67 L666.1 309.77 L668.19 309.87 L670.27 309.98 L672.36 310.08 L674.44 310.19 L676.52 310.3 L678.61 310.41 L680.69 310.52 L682.78 310.62 L684.86 310.73 L686.94 310.84 L689.03 310.96 L691.11 311.08 L693.2 311.2 L695.28 311.33 L697.36 311.46 L699.44 311.6 L701.52 311.75 L703.6 311.9 L705.68 312.07 L707.76 312.24 L709.84 312.42 L711.92 312.61 L714 312.8" stroke="#1e90ff" stroke-width="2.2" fill="none" stroke-linejoin="round"/>
<path d="M488 310 L489.9 309.93 L491.8 309.86 L493.7 309.79 L495.6 309.72 L497.49 309.66 L499.39 309.61 L501.29 309.57 L503.19 309.53 L505.09 309.5 L506.99 309.46 L508.89 309.43 L510.79 309.39 L512.69 309.36 L514.59 309.33 L516.49 309.3 L518.39 309.27 L520.29 309.24 L522.19 309.22 L524.09 309.19 L525.99 309.17 L527.89 309.14 L529.79 309.12 L531.69 309.1 L533.59 309.07 L535.49 309.05 L537.39 309.03 L539.29 309.01 L541.19 308.99 L543.09 308.97 L544.99 308.95 L546.89 308.93 L548.79 308.91 L550.69 308.89 L552.59 308.87 L554.49 308.85 L556.39 308.84 L558.29 308.82 L560.19 308.8 L562.09 308.78 L563.99 308.76 L565.89 308.74 L567.79 308.72 L569.69 308.7 L571.59 308.68 L573.49 308.66 L575.39 308.64 L577.29 308.62 L579.19 308.6 L581.09 308.58 L582.99 308.56 L584.89 308.54 L586.79 308.53 L588.69 308.51 L590.59 308.49 L592.49 308.48 L594.39 308.46 L596.29 308.45 L598.19 308.44 L600.09 308.43 L601.99 308.42 L603.89 308.41 L605.79 308.41 L607.69 308.4 L609.59 308.4 L611.49 308.4 L613.39 308.4 L615.29 308.41 L617.19 308.42 L619.09 308.44 L620.99 308.45 L622.89 308.47 L624.79 308.5 L626.69 308.52 L628.59 308.55 L630.49 308.58 L632.39 308.61 L634.29 308.65 L636.19 308.69 L638.09 308.72 L639.99 308.76 L641.88 308.8 L643.78 308.84 L645.68 308.88 L647.58 308.93 L649.48 308.97 L651.38 309.01 L653.28 309.05 L655.18 309.11 L657.08 309.16 L658.98 309.22 L660.88 309.29 L662.78 309.36 L664.67 309.43 L666.57 309.51 L668.47 309.58 L670.37 309.66 L672.27 309.74 L674.17 309.83 L676.07 309.91 L677.96 309.99 L679.86 310.07 L681.76 310.16 L683.66 310.24 L685.56 310.33 L687.45 310.42 L689.35 310.51 L691.25 310.61 L693.15 310.7 L695.04 310.81 L696.94 310.91 L698.84 311.02 L700.73 311.13 L702.63 311.26 L704.53 311.38 L706.42 311.52 L708.32 311.66 L710.21 311.8 L712.11 311.95 L714 312.1" stroke="#8c8c3c" stroke-width="2.2" fill="none" stroke-linejoin="round"/>
<rect x="464.8" y="307.49" width="3" height="3" fill="#c91ac9"/><rect x="558.66" y="306.3" width="3" height="3" fill="#c91ac9"/><rect x="608.94" y="305.9" width="3" height="3" fill="#c91ac9"/><rect x="643.64" y="306.37" width="3" height="3" fill="#c91ac9"/><rect x="668.54" y="307.22" width="3" height="3" fill="#c91ac9"/><rect x="686.77" y="308.11" width="3" height="3" fill="#c91ac9"/><rect x="700.26" y="308.92" width="3" height="3" fill="#c91ac9"/><rect x="710.32" y="309.71" width="3" height="3" fill="#c91ac9"/>
<circle cx="464.5" cy="313.21" r="1.65" fill="#128a12"/><circle cx="552.09" cy="310.92" r="1.65" fill="#128a12"/><circle cx="603.21" cy="310.41" r="1.65" fill="#128a12"/><circle cx="638.92" cy="310.73" r="1.65" fill="#128a12"/><circle cx="664.82" cy="311.57" r="1.65" fill="#128a12"/><circle cx="683.98" cy="312.67" r="1.65" fill="#128a12"/><circle cx="698.31" cy="313.59" r="1.65" fill="#128a12"/><circle cx="709.1" cy="314.51" r="1.65" fill="#128a12"/>
<path d="M480.3 308.09 L482.1 311.39 L478.5 311.39 Z" fill="#1e90ff"/><path d="M563.25 307.02 L565.05 310.32 L561.45 310.32 Z" fill="#1e90ff"/><path d="M612.51 306.65 L614.31 309.95 L610.71 309.95 Z" fill="#1e90ff"/><path d="M646.61 307.15 L648.41 310.45 L644.81 310.45 Z" fill="#1e90ff"/><path d="M671.11 308.07 L672.91 311.37 L669.31 311.37 Z" fill="#1e90ff"/><path d="M689.05 309.01 L690.85 312.31 L687.25 312.31 Z" fill="#1e90ff"/><path d="M702.34 309.86 L704.14 313.16 L700.54 313.16 Z" fill="#1e90ff"/><path d="M712.26 310.69 L714.06 313.99 L710.46 313.99 Z" fill="#1e90ff"/>
<path d="M509.5 311.37 L511.3 308.07 L507.7 308.07 Z" fill="#8c8c3c"/><path d="M587.54 310.47 L589.34 307.17 L585.74 307.17 Z" fill="#8c8c3c"/><path d="M632.97 310.58 L634.77 307.28 L631.17 307.28 Z" fill="#8c8c3c"/><path d="M663.48 311.33 L665.28 308.03 L661.68 308.03 Z" fill="#8c8c3c"/><path d="M684.76 312.24 L686.56 308.94 L682.96 308.94 Z" fill="#8c8c3c"/><path d="M699.9 313.03 L701.7 309.73 L698.1 309.73 Z" fill="#8c8c3c"/><path d="M710.78 313.79 L712.58 310.49 L708.98 310.49 Z" fill="#8c8c3c"/>
<path d="M465.8 399.8 L467.89 399.77 L469.98 399.74 L472.06 399.71 L474.15 399.68 L476.24 399.65 L478.33 399.62 L480.42 399.59 L482.5 399.56 L484.59 399.54 L486.68 399.51 L488.77 399.49 L490.85 399.47 L492.94 399.45 L495.03 399.43 L497.12 399.42 L499.21 399.4 L501.29 399.39 L503.38 399.38 L505.47 399.37 L507.56 399.36 L509.65 399.35 L511.74 399.34 L513.82 399.33 L515.91 399.32 L518 399.31 L520.09 399.3 L522.18 399.3 L524.26 399.29 L526.35 399.28 L528.44 399.27 L530.53 399.26 L532.62 399.26 L534.71 399.25 L536.79 399.24 L538.88 399.24 L540.97 399.23 L543.06 399.23 L545.15 399.22 L547.23 399.22 L549.32 399.21 L551.41 399.21 L553.5 399.21 L555.59 399.21 L557.67 399.2 L559.76 399.2 L561.85 399.2 L563.94 399.2 L566.02 399.2 L568.11 399.21 L570.2 399.23 L572.29 399.25 L574.38 399.28 L576.46 399.32 L578.55 399.36 L580.64 399.41 L582.73 399.46 L584.81 399.52 L586.9 399.58 L588.99 399.64 L591.08 399.71 L593.16 399.78 L595.25 399.86 L597.34 399.93 L599.43 400.01 L601.51 400.09 L603.6 400.16 L605.69 400.24 L607.77 400.32 L609.86 400.39 L611.94 400.47 L614.03 400.56 L616.12 400.66 L618.2 400.76 L620.29 400.86 L622.37 400.97 L624.46 401.09 L626.54 401.2 L628.63 401.32 L630.71 401.44 L632.8 401.56 L634.88 401.68 L636.97 401.8 L639.05 401.91 L641.14 402.03 L643.22 402.15 L645.31 402.27 L647.39 402.39 L649.48 402.51 L651.56 402.63 L653.64 402.75 L655.73 402.88 L657.81 403 L659.9 403.13 L661.98 403.27 L664.07 403.4 L666.15 403.54 L668.23 403.68 L670.31 403.82 L672.4 403.97 L674.48 404.12 L676.56 404.28 L678.64 404.44 L680.73 404.6 L682.81 404.77 L684.89 404.94 L686.97 405.11 L689.05 405.29 L691.13 405.47 L693.21 405.64 L695.29 405.83 L697.37 406.01 L699.45 406.2 L701.53 406.39 L703.61 406.58 L705.69 406.78 L707.77 406.98 L709.84 407.18 L711.92 407.39 L714 407.6" stroke="#c91ac9" stroke-width="2.2" fill="none" stroke-linejoin="round"/>
<path d="M457 404.3 L459.16 404.24 L461.32 404.18 L463.49 404.11 L465.65 404.05 L467.81 403.99 L469.97 403.94 L472.13 403.88 L474.29 403.82 L476.46 403.76 L478.62 403.71 L480.78 403.66 L482.94 403.6 L485.1 403.55 L487.27 403.5 L489.43 403.46 L491.59 403.41 L493.75 403.37 L495.91 403.32 L498.08 403.28 L500.24 403.25 L502.4 403.21 L504.56 403.17 L506.72 403.13 L508.89 403.09 L511.05 403.05 L513.21 403.01 L515.37 402.97 L517.54 402.94 L519.7 402.9 L521.86 402.86 L524.02 402.82 L526.19 402.78 L528.35 402.75 L530.51 402.71 L532.67 402.68 L534.84 402.65 L537 402.62 L539.16 402.59 L541.32 402.56 L543.49 402.53 L545.65 402.51 L547.81 402.49 L549.97 402.47 L552.14 402.45 L554.3 402.44 L556.46 402.42 L558.62 402.41 L560.79 402.41 L562.95 402.4 L565.11 402.4 L567.27 402.4 L569.43 402.42 L571.6 402.44 L573.76 402.47 L575.92 402.51 L578.08 402.55 L580.24 402.6 L582.41 402.65 L584.57 402.71 L586.73 402.77 L588.89 402.84 L591.05 402.91 L593.22 402.98 L595.38 403.06 L597.54 403.14 L599.7 403.22 L601.86 403.3 L604.02 403.38 L606.19 403.46 L608.35 403.54 L610.51 403.62 L612.67 403.7 L614.83 403.79 L616.99 403.89 L619.15 404 L621.31 404.11 L623.47 404.22 L625.63 404.34 L627.79 404.46 L629.95 404.59 L632.1 404.71 L634.26 404.84 L636.42 404.97 L638.58 405.09 L640.74 405.22 L642.9 405.36 L645.06 405.49 L647.22 405.63 L649.37 405.77 L651.53 405.91 L653.69 406.06 L655.85 406.21 L658 406.36 L660.16 406.51 L662.32 406.67 L664.48 406.82 L666.63 406.98 L668.79 407.15 L670.94 407.31 L673.1 407.48 L675.25 407.66 L677.41 407.84 L679.57 408.02 L681.72 408.2 L683.87 408.39 L686.03 408.59 L688.18 408.78 L690.34 408.98 L692.49 409.18 L694.64 409.39 L696.79 409.59 L698.95 409.8 L701.1 410.02 L703.25 410.24 L705.4 410.47 L707.55 410.69 L709.7 410.93 L711.85 411.16 L714 411.4" stroke="#128a12" stroke-width="2.2" fill="none" stroke-linejoin="round"/>
<path d="M465.8 401.4 L467.89 401.37 L469.98 401.34 L472.06 401.31 L474.15 401.28 L476.24 401.25 L478.33 401.22 L480.42 401.19 L482.5 401.16 L484.59 401.14 L486.68 401.11 L488.77 401.09 L490.86 401.07 L492.95 401.05 L495.03 401.03 L497.12 401.02 L499.21 401 L501.3 400.99 L503.39 400.98 L505.47 400.97 L507.56 400.96 L509.65 400.95 L511.74 400.94 L513.83 400.93 L515.92 400.92 L518 400.91 L520.09 400.9 L522.18 400.9 L524.27 400.89 L526.36 400.88 L528.45 400.87 L530.53 400.86 L532.62 400.86 L534.71 400.85 L536.8 400.84 L538.89 400.84 L540.98 400.83 L543.07 400.83 L545.15 400.82 L547.24 400.82 L549.33 400.81 L551.42 400.81 L553.51 400.81 L555.59 400.81 L557.68 400.8 L559.77 400.8 L561.86 400.8 L563.95 400.8 L566.03 400.8 L568.12 400.81 L570.21 400.83 L572.3 400.85 L574.39 400.88 L576.47 400.92 L578.56 400.96 L580.65 401.01 L582.74 401.06 L584.83 401.12 L586.91 401.18 L589 401.24 L591.09 401.31 L593.18 401.38 L595.26 401.46 L597.35 401.53 L599.44 401.61 L601.53 401.69 L603.61 401.76 L605.7 401.84 L607.79 401.92 L609.87 402 L611.96 402.07 L614.04 402.16 L616.13 402.25 L618.22 402.35 L620.3 402.46 L622.39 402.57 L624.47 402.68 L626.56 402.8 L628.64 402.92 L630.73 403.04 L632.81 403.16 L634.9 403.28 L636.98 403.4 L639.07 403.52 L641.15 403.64 L643.24 403.76 L645.32 403.89 L647.41 404.01 L649.49 404.14 L651.58 404.27 L653.66 404.4 L655.74 404.54 L657.83 404.68 L659.91 404.81 L661.99 404.95 L664.08 405.1 L666.16 405.24 L668.24 405.39 L670.33 405.54 L672.41 405.7 L674.49 405.86 L676.57 406.02 L678.65 406.19 L680.74 406.36 L682.82 406.54 L684.9 406.71 L686.98 406.89 L689.06 407.08 L691.14 407.26 L693.22 407.45 L695.3 407.64 L697.38 407.83 L699.46 408.03 L701.53 408.23 L703.61 408.43 L705.69 408.64 L707.77 408.85 L709.85 409.06 L711.92 409.28 L714 409.5" stroke="#1e90ff" stroke-width="2.2" fill="none" stroke-linejoin="round"/>
<path d="M488 400.8 L489.9 400.72 L491.8 400.64 L493.7 400.57 L495.6 400.5 L497.5 400.44 L499.4 400.41 L501.3 400.39 L503.2 400.38 L505.1 400.37 L507.01 400.35 L508.91 400.34 L510.81 400.33 L512.71 400.32 L514.61 400.31 L516.51 400.3 L518.41 400.3 L520.31 400.29 L522.22 400.28 L524.12 400.27 L526.02 400.26 L527.92 400.26 L529.82 400.25 L531.72 400.25 L533.62 400.24 L535.53 400.24 L537.43 400.23 L539.33 400.23 L541.23 400.22 L543.13 400.22 L545.03 400.22 L546.94 400.21 L548.84 400.21 L550.74 400.21 L552.64 400.21 L554.54 400.2 L556.44 400.2 L558.34 400.2 L560.25 400.2 L562.15 400.2 L564.05 400.2 L565.95 400.2 L567.85 400.21 L569.75 400.22 L571.65 400.24 L573.55 400.27 L575.45 400.3 L577.36 400.33 L579.26 400.37 L581.16 400.42 L583.06 400.47 L584.96 400.52 L586.86 400.58 L588.76 400.64 L590.66 400.7 L592.56 400.76 L594.46 400.83 L596.36 400.9 L598.26 400.97 L600.16 401.04 L602.06 401.11 L603.96 401.18 L605.86 401.25 L607.76 401.32 L609.66 401.39 L611.56 401.46 L613.46 401.54 L615.36 401.62 L617.26 401.71 L619.16 401.81 L621.06 401.91 L622.96 402.01 L624.86 402.11 L626.76 402.22 L628.65 402.33 L630.55 402.44 L632.45 402.55 L634.35 402.65 L636.25 402.76 L638.15 402.86 L640.05 402.96 L641.94 403.07 L643.84 403.17 L645.74 403.27 L647.64 403.37 L649.54 403.48 L651.44 403.58 L653.34 403.68 L655.23 403.79 L657.13 403.9 L659.03 404.01 L660.93 404.12 L662.83 404.23 L664.73 404.34 L666.62 404.46 L668.52 404.58 L670.42 404.71 L672.31 404.84 L674.21 404.97 L676.11 405.1 L678 405.24 L679.9 405.38 L681.8 405.53 L683.69 405.67 L685.59 405.82 L687.48 405.97 L689.38 406.13 L691.27 406.28 L693.17 406.44 L695.06 406.6 L696.96 406.75 L698.85 406.92 L700.75 407.08 L702.64 407.25 L704.53 407.42 L706.43 407.59 L708.32 407.76 L710.21 407.94 L712.11 408.12 L714 408.3" stroke="#8c8c3c" stroke-width="2.2" fill="none" stroke-linejoin="round"/>
<rect x="464.8" y="398.29" width="3" height="3" fill="#c91ac9"/><rect x="558.66" y="397.7" width="3" height="3" fill="#c91ac9"/><rect x="608.94" y="398.92" width="3" height="3" fill="#c91ac9"/><rect x="643.64" y="400.76" width="3" height="3" fill="#c91ac9"/><rect x="668.54" y="402.3" width="3" height="3" fill="#c91ac9"/><rect x="686.77" y="403.72" width="3" height="3" fill="#c91ac9"/><rect x="700.26" y="404.91" width="3" height="3" fill="#c91ac9"/><rect x="710.32" y="405.88" width="3" height="3" fill="#c91ac9"/>
<circle cx="464.5" cy="404.09" r="1.65" fill="#128a12"/><circle cx="552.09" cy="402.45" r="1.65" fill="#128a12"/><circle cx="603.21" cy="403.35" r="1.65" fill="#128a12"/><circle cx="638.92" cy="405.11" r="1.65" fill="#128a12"/><circle cx="664.82" cy="406.85" r="1.65" fill="#128a12"/><circle cx="683.98" cy="408.4" r="1.65" fill="#128a12"/><circle cx="698.31" cy="409.74" r="1.65" fill="#128a12"/><circle cx="709.1" cy="410.86" r="1.65" fill="#128a12"/>
<path d="M480.3 399.24 L482.1 402.54 L478.5 402.54 Z" fill="#1e90ff"/><path d="M563.25 398.85 L565.05 402.15 L561.45 402.15 Z" fill="#1e90ff"/><path d="M612.51 400.15 L614.31 403.45 L610.71 403.45 Z" fill="#1e90ff"/><path d="M646.61 402.02 L648.41 405.32 L644.81 405.32 Z" fill="#1e90ff"/><path d="M671.11 403.65 L672.91 406.95 L669.31 406.95 Z" fill="#1e90ff"/><path d="M689.05 405.13 L690.85 408.43 L687.25 408.43 Z" fill="#1e90ff"/><path d="M702.34 406.36 L704.14 409.66 L700.54 409.66 Z" fill="#1e90ff"/><path d="M712.26 407.37 L714.06 410.67 L710.46 410.67 Z" fill="#1e90ff"/>
<path d="M509.5 402.29 L511.3 398.99 L507.7 398.99 Z" fill="#8c8c3c"/><path d="M587.54 402.55 L589.34 399.25 L585.74 399.25 Z" fill="#8c8c3c"/><path d="M632.97 404.53 L634.77 401.23 L631.17 401.23 Z" fill="#8c8c3c"/><path d="M663.48 406.22 L665.28 402.92 L661.68 402.92 Z" fill="#8c8c3c"/><path d="M684.76 407.71 L686.56 404.41 L682.96 404.41 Z" fill="#8c8c3c"/><path d="M699.9 408.96 L701.7 405.66 L698.1 405.66 Z" fill="#8c8c3c"/><path d="M710.78 409.94 L712.58 406.64 L708.98 406.64 Z" fill="#8c8c3c"/>
</g>
<rect x="450" y="282" width="264.9" height="195.2" stroke="#000" stroke-width="2.4" fill="none" stroke-linecap="square"/>
<path d="M450 473.77h3.2M450 470.73h3.2M450 468.1h3.2M450 465.78h3.2M450 463.7h5.2M450 450.03h3.2M450 442.04h3.2M450 436.37h3.2M450 431.97h3.2M450 428.37h3.2M450 425.33h3.2M450 422.7h3.2M450 420.38h3.2M450 418.3h5.2M450 404.63h3.2M450 396.64h3.2M450 390.97h3.2M450 386.57h3.2M450 382.97h3.2M450 379.93h3.2M450 377.3h3.2M450 374.98h3.2M450 372.9h5.2M450 359.23h3.2M450 351.24h3.2M450 345.57h3.2M450 341.17h3.2M450 337.57h3.2M450 334.53h3.2M450 331.9h3.2M450 329.58h3.2M450 327.5h5.2M450 313.83h3.2M450 305.84h3.2M450 300.17h3.2M450 295.77h3.2M450 292.17h3.2M450 289.13h3.2M450 286.5h3.2M450 284.18h3.2M450 282.1h5.2M714.9 477.2h-5.2M714.9 465.45h-3.2M714.9 458.57h-3.2M714.9 453.7h-3.2M714.9 449.91h-3.2M714.9 446.82h-3.2M714.9 444.21h-3.2M714.9 441.94h-3.2M714.9 439.95h-3.2M714.9 438.16h-5.2M714.9 426.41h-3.2M714.9 419.53h-3.2M714.9 414.66h-3.2M714.9 410.87h-3.2M714.9 407.78h-3.2M714.9 405.17h-3.2M714.9 402.9h-3.2M714.9 400.91h-3.2M714.9 399.12h-5.2M714.9 387.37h-3.2M714.9 380.49h-3.2M714.9 375.62h-3.2M714.9 371.83h-3.2M714.9 368.74h-3.2M714.9 366.13h-3.2M714.9 363.86h-3.2M714.9 361.87h-3.2M714.9 360.08h-5.2M714.9 348.33h-3.2M714.9 341.45h-3.2M714.9 336.58h-3.2M714.9 332.79h-3.2M714.9 329.7h-3.2M714.9 327.09h-3.2M714.9 324.82h-3.2M714.9 322.83h-3.2M714.9 321.04h-5.2M714.9 309.29h-3.2M714.9 302.41h-3.2M714.9 297.54h-3.2M714.9 293.75h-3.2M714.9 290.66h-3.2M714.9 288.05h-3.2M714.9 285.78h-3.2M714.9 283.79h-3.2M714.9 282h-5.2M450 477.2v-5.2M476.58 477.2v-3.2M492.13 477.2v-3.2M503.16 477.2v-3.2M511.72 477.2v-3.2M518.71 477.2v-3.2M524.62 477.2v-3.2M529.74 477.2v-3.2M534.26 477.2v-3.2M538.3 477.2v-5.2M564.88 477.2v-3.2M580.43 477.2v-3.2M591.46 477.2v-3.2M600.02 477.2v-3.2M607.01 477.2v-3.2M612.92 477.2v-3.2M618.04 477.2v-3.2M622.56 477.2v-3.2M626.6 477.2v-5.2M653.18 477.2v-3.2M668.73 477.2v-3.2M679.76 477.2v-3.2M688.32 477.2v-3.2M695.31 477.2v-3.2M701.22 477.2v-3.2M706.34 477.2v-3.2M710.86 477.2v-3.2M714.9 477.2v-5.2" stroke="#000" stroke-width="2.1" fill="none"/>
<text x="444.2" y="286.7" font-size="12.7" text-anchor="end" font-weight="bold" >10<tspan dy="-5.9" font-size="8.25">2</tspan></text>
<text x="444.2" y="332.1" font-size="12.7" text-anchor="end" font-weight="bold" >10<tspan dy="-5.9" font-size="8.25">1</tspan></text>
<text x="444.2" y="377.5" font-size="12.7" text-anchor="end" font-weight="bold" >10<tspan dy="-5.9" font-size="8.25">0</tspan></text>
<text x="444.2" y="422.9" font-size="12.7" text-anchor="end" font-weight="bold" >10<tspan dy="-5.9" font-size="8.25">-1</tspan></text>
<text x="444.2" y="468.3" font-size="12.7" text-anchor="end" font-weight="bold" >10<tspan dy="-5.9" font-size="8.25">-2</tspan></text>
<text x="719.1" y="481.8" font-size="12.7" text-anchor="start" font-weight="bold" >10<tspan dy="-5.9" font-size="8.25">0</tspan></text>
<text x="719.1" y="442.76" font-size="12.7" text-anchor="start" font-weight="bold" >10<tspan dy="-5.9" font-size="8.25">1</tspan></text>
<text x="719.1" y="403.72" font-size="12.7" text-anchor="start" font-weight="bold" >10<tspan dy="-5.9" font-size="8.25">2</tspan></text>
<text x="719.1" y="364.68" font-size="12.7" text-anchor="start" font-weight="bold" >10<tspan dy="-5.9" font-size="8.25">3</tspan></text>
<text x="719.1" y="325.64" font-size="12.7" text-anchor="start" font-weight="bold" >10<tspan dy="-5.9" font-size="8.25">4</tspan></text>
<text x="719.1" y="286.6" font-size="12.7" text-anchor="start" font-weight="bold" >10<tspan dy="-5.9" font-size="8.25">5</tspan></text>
<text x="450.6" y="494.7" font-size="12.7" text-anchor="middle" font-weight="bold" >10<tspan dy="-5.9" font-size="8.25">1</tspan></text>
<text x="538.9" y="494.7" font-size="12.7" text-anchor="middle" font-weight="bold" >10<tspan dy="-5.9" font-size="8.25">2</tspan></text>
<text x="627.2" y="494.7" font-size="12.7" text-anchor="middle" font-weight="bold" >10<tspan dy="-5.9" font-size="8.25">3</tspan></text>
<text x="715.5" y="494.7" font-size="12.7" text-anchor="middle" font-weight="bold" >10<tspan dy="-5.9" font-size="8.25">4</tspan></text>
<g clip-path="url(#cb)">
<text x="582.45" y="520.4" font-size="13.25" text-anchor="middle" font-weight="bold" >Luminance (cd m<tspan dy="-5.5" font-size="9">-2</tspan><tspan dy="5.5">)</tspan></text>
</g>
<text transform="translate(411 388.3) rotate(-90)" font-size="13.25" text-anchor="middle" font-weight="bold">EQE (%)</text>
<text transform="translate(755.3 388) rotate(-90)" font-size="13.25" text-anchor="middle" font-weight="bold">Power Efficiency (lm W<tspan dy="-5.5" font-size="9">-1</tspan><tspan dy="5.5">)</tspan></text>
<text x="458.6" y="298.7" font-size="13.35"><tspan font-weight="normal">Emitter: </tspan><tspan font-weight="bold">Ir(ppy)<tspan dy="4.2" font-size="9">2</tspan><tspan dy="-4.2">acac</tspan></tspan></text>
<text x="459.6" y="331.3" font-size="13.35" text-anchor="start" font-weight="normal" >HML:</text>
<path d="M496.2 328.2 H510.8" stroke="#c91ac9" stroke-width="2" fill="none"/>
<rect x="501.5" y="326.2" width="4" height="4" fill="#c91ac9"/>
<text x="514.1" y="329.6" font-size="13.3" text-anchor="start" font-weight="bold" >3,3',6,6'-TDTA-SBF</text>
<path d="M496.2 344.8 H510.8" stroke="#128a12" stroke-width="2" fill="none"/>
<circle cx="503.5" cy="344.8" r="2.2" fill="#128a12"/>
<text x="514.1" y="346.3" font-size="13.3" text-anchor="start" font-weight="bold" >3,3'-DDTA-SBF</text>
<path d="M496.2 361.7 H510.8" stroke="#1e90ff" stroke-width="2" fill="none"/>
<path d="M503.5 359.1 L505.9 363.5 L501.1 363.5 Z" fill="#1e90ff"/>
<text x="514.1" y="363.2" font-size="13.3" text-anchor="start" font-weight="bold" >3,6-DDTA-SBF</text>
<path d="M496.2 378.5 H510.8" stroke="#8c8c3c" stroke-width="2" fill="none"/>
<path d="M503.5 381.1 L505.9 376.7 L501.1 376.7 Z" fill="#8c8c3c"/>
<text x="514.1" y="380.1" font-size="13.3" text-anchor="start" font-weight="bold" >TAPC</text>
<ellipse cx="651" cy="311.1" rx="5.8" ry="17.5" fill="none" stroke="#000" stroke-width="1.05"/>
<path d="M651 293.7 H635.5" stroke="#000" stroke-width="0.95" fill="none"/>
<path d="M635.5 293.7 l4.6 -1.9 v3.8 Z" fill="#000"/>
<ellipse cx="636.7" cy="407.7" rx="6" ry="17.2" fill="none" stroke="#000" stroke-width="1.05"/>
<path d="M636.7 390.6 H652" stroke="#000" stroke-width="0.95" fill="none"/>
<path d="M652 390.6 l-4.6 -1.9 v3.8 Z" fill="#000"/>
<clipPath id="cc73"><rect x="73" y="551.3" width="266.5" height="196.2"/></clipPath>
<g clip-path="url(#cc73)">
<path d="M139.25 746 L140.98 746 L142.71 745.99 L144.44 745.99 L146.17 745.98 L147.9 745.97 L149.63 745.96 L151.36 745.94 L153.09 745.92 L154.82 745.9 L156.55 745.88 L158.27 745.86 L160 745.83 L161.73 745.81 L163.46 745.78 L165.19 745.75 L166.91 745.72 L168.64 745.69 L170.37 745.65 L172.09 745.62 L173.82 745.58 L175.55 745.53 L177.28 745.46 L179.01 745.39 L180.74 745.3 L182.47 745.2 L184.2 745.1 L185.92 744.98 L187.65 744.85 L189.38 744.72 L191.1 744.58 L192.83 744.43 L194.55 744.27 L196.27 744.11 L197.98 743.94 L199.69 743.77 L201.41 743.58 L203.11 743.35 L204.82 743.09 L206.53 742.8 L208.23 742.49 L209.93 742.15 L211.63 741.8 L213.32 741.43 L215.02 741.06 L216.7 740.68 L218.39 740.3 L220.07 739.92 L221.76 739.53 L223.44 739.13 L225.13 738.71 L226.81 738.28 L228.49 737.84 L230.16 737.38 L231.82 736.9 L233.48 736.41 L235.13 735.89 L236.77 735.36 L238.39 734.82 L240.01 734.23 L241.61 733.61 L243.21 732.96 L244.8 732.28 L246.39 731.58 L247.96 730.86 L249.53 730.12 L251.1 729.37 L252.66 728.61 L254.22 727.84 L255.77 727.08 L257.32 726.32 L258.87 725.56 L260.43 724.79 L261.98 724.02 L263.53 723.23 L265.07 722.44 L266.61 721.63 L268.14 720.82 L269.66 719.98 L271.16 719.13 L272.65 718.26 L274.13 717.38 L275.59 716.47 L277.02 715.53 L278.45 714.56 L279.86 713.57 L281.25 712.54 L282.63 711.49 L284 710.42 L285.36 709.34 L286.71 708.25 L288.05 707.15 L289.37 706.05 L290.69 704.94 L292.01 703.82 L293.32 702.68 L294.61 701.54 L295.9 700.38 L297.18 699.21 L298.45 698.03 L299.71 696.83 L300.95 695.63 L302.18 694.42 L303.4 693.19 L304.59 691.95 L305.78 690.7 L306.95 689.43 L308.1 688.15 L309.25 686.86 L310.38 685.55 L311.51 684.23 L312.62 682.9 L313.72 681.56 L314.81 680.21 L315.89 678.86 L316.97 677.51 L318.04 676.15 L319.09 674.79 L320.14 673.41 L321.18 672.03 L322.21 670.64 L323.23 669.24 L324.24 667.84 L325.24 666.43 L326.24 665.01 L327.22 663.59 L328.21 662.17 L329.18 660.74 L330.14 659.31 L331.09 657.86 L332.03 656.41 L332.96 654.96 L333.89 653.49 L334.81 652.03 L335.74 650.57 L336.67 649.12 L337.61 647.66 L338.54 646.21 L339.48 644.75 L340.41 643.3" stroke="#1e90ff" stroke-width="1.8" fill="none" stroke-linejoin="round"/>
<path d="M139.25 743.79 L141.29 747.53 L137.21 747.53 Z" fill="#1e90ff"/><path d="M145.9 743.77 L147.94 747.51 L143.86 747.51 Z" fill="#1e90ff"/><path d="M152.55 743.72 L154.59 747.46 L150.51 747.46 Z" fill="#1e90ff"/><path d="M159.2 743.64 L161.24 747.38 L157.16 747.38 Z" fill="#1e90ff"/><path d="M165.85 743.53 L167.89 747.27 L163.81 747.27 Z" fill="#1e90ff"/><path d="M172.5 743.4 L174.54 747.14 L170.46 747.14 Z" fill="#1e90ff"/><path d="M179.15 743.17 L181.19 746.91 L177.11 746.91 Z" fill="#1e90ff"/><path d="M185.8 742.78 L187.84 746.52 L183.76 746.52 Z" fill="#1e90ff"/><path d="M192.45 742.25 L194.49 745.99 L190.41 745.99 Z" fill="#1e90ff"/><path d="M199.1 741.62 L201.14 745.36 L197.06 745.36 Z" fill="#1e90ff"/><path d="M205.75 740.72 L207.79 744.46 L203.71 744.46 Z" fill="#1e90ff"/><path d="M212.4 739.42 L214.44 743.16 L210.36 743.16 Z" fill="#1e90ff"/><path d="M219.05 737.94 L221.09 741.68 L217.01 741.68 Z" fill="#1e90ff"/><path d="M225.7 736.35 L227.74 740.09 L223.66 740.09 Z" fill="#1e90ff"/><path d="M232.35 734.53 L234.39 738.27 L230.31 738.27 Z" fill="#1e90ff"/><path d="M239 732.39 L241.04 736.13 L236.96 736.13 Z" fill="#1e90ff"/><path d="M245.65 729.7 L247.69 733.44 L243.61 733.44 Z" fill="#1e90ff"/><path d="M252.3 726.57 L254.34 730.31 L250.26 730.31 Z" fill="#1e90ff"/><path d="M258.95 723.31 L260.99 727.05 L256.91 727.05 Z" fill="#1e90ff"/><path d="M265.6 719.95 L267.64 723.69 L263.56 723.69 Z" fill="#1e90ff"/><path d="M272.25 716.29 L274.29 720.03 L270.21 720.03 Z" fill="#1e90ff"/><path d="M278.9 712.03 L280.94 715.77 L276.86 715.77 Z" fill="#1e90ff"/><path d="M285.55 706.98 L287.59 710.72 L283.51 710.72 Z" fill="#1e90ff"/><path d="M292.2 701.44 L294.24 705.18 L290.16 705.18 Z" fill="#1e90ff"/><path d="M298.85 695.44 L300.89 699.18 L296.81 699.18 Z" fill="#1e90ff"/><path d="M305.5 688.79 L307.54 692.53 L303.46 692.53 Z" fill="#1e90ff"/><path d="M312.15 681.24 L314.19 684.98 L310.11 684.98 Z" fill="#1e90ff"/><path d="M318.8 672.96 L320.84 676.7 L316.76 676.7 Z" fill="#1e90ff"/><path d="M325.45 663.92 L327.49 667.66 L323.41 667.66 Z" fill="#1e90ff"/><path d="M332.1 654.09 L334.14 657.83 L330.06 657.83 Z" fill="#1e90ff"/><path d="M338.75 643.68 L340.79 647.42 L336.71 647.42 Z" fill="#1e90ff"/>
<path d="M139.25 746 L140.87 746 L142.49 746 L144.1 745.99 L145.72 745.99 L147.34 745.98 L148.96 745.97 L150.58 745.97 L152.19 745.96 L153.81 745.94 L155.43 745.93 L157.04 745.92 L158.66 745.9 L160.28 745.89 L161.9 745.87 L163.51 745.85 L165.13 745.83 L166.75 745.82 L168.36 745.79 L169.98 745.77 L171.59 745.75 L173.21 745.73 L174.83 745.7 L176.44 745.66 L178.06 745.62 L179.68 745.56 L181.3 745.5 L182.92 745.43 L184.53 745.36 L186.15 745.28 L187.77 745.19 L189.38 745.1 L191 745.01 L192.61 744.9 L194.23 744.8 L195.84 744.69 L197.45 744.57 L199.06 744.45 L200.67 744.33 L202.27 744.18 L203.88 744.01 L205.49 743.82 L207.09 743.6 L208.69 743.37 L210.3 743.12 L211.9 742.86 L213.49 742.6 L215.09 742.32 L216.68 742.04 L218.27 741.75 L219.86 741.47 L221.45 741.17 L223.04 740.86 L224.63 740.54 L226.22 740.2 L227.81 739.85 L229.39 739.49 L230.96 739.11 L232.54 738.72 L234.1 738.32 L235.66 737.89 L237.21 737.46 L238.74 737 L240.27 736.51 L241.79 735.98 L243.31 735.43 L244.82 734.84 L246.32 734.23 L247.82 733.61 L249.31 732.97 L250.8 732.33 L252.29 731.68 L253.78 731.02 L255.26 730.38 L256.75 729.74 L258.24 729.11 L259.72 728.47 L261.21 727.82 L262.69 727.17 L264.17 726.52 L265.64 725.86 L267.12 725.19 L268.59 724.52 L270.06 723.85 L271.53 723.17 L272.99 722.48 L274.46 721.79 L275.92 721.1 L277.38 720.41 L278.85 719.71 L280.31 719.02 L281.77 718.32 L283.23 717.61 L284.68 716.88 L286.12 716.14 L287.54 715.38 L288.94 714.6 L290.33 713.78 L291.71 712.95 L293.08 712.09 L294.44 711.21 L295.79 710.31 L297.13 709.4 L298.46 708.46 L299.78 707.52 L301.09 706.57 L302.39 705.6 L303.68 704.63 L304.96 703.66 L306.24 702.66 L307.5 701.65 L308.75 700.63 L309.99 699.59 L311.22 698.54 L312.45 697.48 L313.66 696.4 L314.87 695.32 L316.07 694.23 L317.26 693.14 L318.44 692.04 L319.61 690.93 L320.77 689.81 L321.93 688.67 L323.07 687.53 L324.21 686.37 L325.34 685.21 L326.46 684.05 L327.58 682.88 L328.69 681.7 L329.8 680.52 L330.89 679.34 L331.98 678.14 L333.06 676.94 L334.13 675.72 L335.2 674.51 L336.26 673.29 L337.31 672.06 L338.36 670.82 L339.39 669.58 L340.41 668.33" stroke="#128a12" stroke-width="1.8" fill="none" stroke-linejoin="round"/>
<circle cx="139.25" cy="746" r="1.87" fill="#128a12"/><circle cx="145.9" cy="745.99" r="1.87" fill="#128a12"/><circle cx="152.55" cy="745.95" r="1.87" fill="#128a12"/><circle cx="159.2" cy="745.9" r="1.87" fill="#128a12"/><circle cx="165.85" cy="745.83" r="1.87" fill="#128a12"/><circle cx="172.5" cy="745.74" r="1.87" fill="#128a12"/><circle cx="179.15" cy="745.58" r="1.87" fill="#128a12"/><circle cx="185.8" cy="745.3" r="1.87" fill="#128a12"/><circle cx="192.45" cy="744.91" r="1.87" fill="#128a12"/><circle cx="199.1" cy="744.45" r="1.87" fill="#128a12"/><circle cx="205.75" cy="743.78" r="1.87" fill="#128a12"/><circle cx="212.4" cy="742.78" r="1.87" fill="#128a12"/><circle cx="219.05" cy="741.61" r="1.87" fill="#128a12"/><circle cx="225.7" cy="740.31" r="1.87" fill="#128a12"/><circle cx="232.35" cy="738.77" r="1.87" fill="#128a12"/><circle cx="239" cy="736.92" r="1.87" fill="#128a12"/><circle cx="245.65" cy="734.5" r="1.87" fill="#128a12"/><circle cx="252.3" cy="731.67" r="1.87" fill="#128a12"/><circle cx="258.95" cy="728.8" r="1.87" fill="#128a12"/><circle cx="265.6" cy="725.88" r="1.87" fill="#128a12"/><circle cx="272.25" cy="722.83" r="1.87" fill="#128a12"/><circle cx="278.9" cy="719.69" r="1.87" fill="#128a12"/><circle cx="285.55" cy="716.43" r="1.87" fill="#128a12"/><circle cx="292.2" cy="712.64" r="1.87" fill="#128a12"/><circle cx="298.85" cy="708.19" r="1.87" fill="#128a12"/><circle cx="305.5" cy="703.24" r="1.87" fill="#128a12"/><circle cx="312.15" cy="697.73" r="1.87" fill="#128a12"/><circle cx="318.8" cy="691.7" r="1.87" fill="#128a12"/><circle cx="325.45" cy="685.1" r="1.87" fill="#128a12"/><circle cx="332.1" cy="678.01" r="1.87" fill="#128a12"/><circle cx="338.75" cy="670.35" r="1.87" fill="#128a12"/>
<path d="M139.25 746 L141.04 746 L142.83 746 L144.62 745.99 L146.41 745.98 L148.19 745.97 L149.98 745.96 L151.77 745.95 L153.56 745.93 L155.35 745.92 L157.13 745.9 L158.92 745.88 L160.71 745.85 L162.49 745.83 L164.28 745.81 L166.07 745.78 L167.85 745.75 L169.64 745.72 L171.42 745.69 L173.21 745.66 L175 745.62 L176.78 745.56 L178.57 745.49 L180.36 745.41 L182.15 745.32 L183.94 745.21 L185.72 745.1 L187.51 744.98 L189.3 744.84 L191.08 744.7 L192.86 744.55 L194.64 744.4 L196.42 744.24 L198.2 744.07 L199.97 743.9 L201.74 743.71 L203.51 743.48 L205.27 743.22 L207.04 742.93 L208.8 742.61 L210.56 742.27 L212.32 741.92 L214.08 741.55 L215.83 741.18 L217.57 740.8 L219.32 740.42 L221.06 740.03 L222.8 739.62 L224.55 739.21 L226.29 738.77 L228.02 738.32 L229.76 737.84 L231.48 737.36 L233.2 736.85 L234.9 736.32 L236.6 735.78 L238.28 735.21 L239.95 734.61 L241.61 733.97 L243.26 733.3 L244.9 732.59 L246.54 731.86 L248.17 731.1 L249.79 730.33 L251.4 729.54 L253.01 728.75 L254.62 727.95 L256.22 727.16 L257.82 726.36 L259.42 725.57 L261.02 724.76 L262.62 723.95 L264.21 723.12 L265.8 722.28 L267.38 721.43 L268.95 720.56 L270.51 719.68 L272.05 718.78 L273.57 717.85 L275.07 716.9 L276.55 715.93 L278.02 714.92 L279.46 713.88 L280.9 712.81 L282.32 711.7 L283.72 710.58 L285.11 709.44 L286.48 708.29 L287.84 707.12 L289.18 705.95 L290.52 704.77 L291.84 703.57 L293.16 702.36 L294.46 701.13 L295.75 699.89 L297.04 698.63 L298.31 697.37 L299.56 696.09 L300.8 694.79 L302.02 693.49 L303.23 692.17 L304.42 690.85 L305.59 689.51 L306.74 688.15 L307.88 686.78 L309.01 685.39 L310.12 683.99 L311.22 682.57 L312.31 681.15 L313.38 679.71 L314.45 678.27 L315.51 676.83 L316.56 675.38 L317.6 673.93 L318.64 672.48 L319.68 671.02 L320.71 669.56 L321.73 668.09 L322.75 666.61 L323.75 665.13 L324.74 663.63 L325.72 662.13 L326.67 660.62 L327.61 659.1 L328.52 657.57 L329.41 656.03 L330.27 654.47 L331.11 652.9 L331.93 651.31 L332.74 649.71 L333.53 648.1 L334.32 646.49 L335.09 644.88 L335.87 643.26 L336.64 641.65 L337.41 640.04 L338.17 638.42 L338.93 636.8 L339.67 635.18 L340.41 633.55" stroke="#c91ac9" stroke-width="1.8" fill="none" stroke-linejoin="round"/>
<rect x="140.88" y="744.3" width="3.4" height="3.4" fill="#c91ac9"/><rect x="147.53" y="744.27" width="3.4" height="3.4" fill="#c91ac9"/><rect x="154.18" y="744.21" width="3.4" height="3.4" fill="#c91ac9"/><rect x="160.83" y="744.13" width="3.4" height="3.4" fill="#c91ac9"/><rect x="167.48" y="744.03" width="3.4" height="3.4" fill="#c91ac9"/><rect x="174.13" y="743.89" width="3.4" height="3.4" fill="#c91ac9"/><rect x="180.78" y="743.6" width="3.4" height="3.4" fill="#c91ac9"/><rect x="187.43" y="743.16" width="3.4" height="3.4" fill="#c91ac9"/><rect x="194.08" y="742.6" width="3.4" height="3.4" fill="#c91ac9"/><rect x="200.73" y="741.92" width="3.4" height="3.4" fill="#c91ac9"/><rect x="207.38" y="740.86" width="3.4" height="3.4" fill="#c91ac9"/><rect x="214.03" y="739.5" width="3.4" height="3.4" fill="#c91ac9"/><rect x="220.68" y="738.02" width="3.4" height="3.4" fill="#c91ac9"/><rect x="227.33" y="736.34" width="3.4" height="3.4" fill="#c91ac9"/><rect x="233.98" y="734.37" width="3.4" height="3.4" fill="#c91ac9"/><rect x="240.63" y="731.98" width="3.4" height="3.4" fill="#c91ac9"/><rect x="247.28" y="729.02" width="3.4" height="3.4" fill="#c91ac9"/><rect x="253.93" y="725.75" width="3.4" height="3.4" fill="#c91ac9"/><rect x="260.58" y="722.42" width="3.4" height="3.4" fill="#c91ac9"/><rect x="267.23" y="718.88" width="3.4" height="3.4" fill="#c91ac9"/><rect x="273.88" y="714.87" width="3.4" height="3.4" fill="#c91ac9"/><rect x="280.53" y="710.08" width="3.4" height="3.4" fill="#c91ac9"/><rect x="287.18" y="704.52" width="3.4" height="3.4" fill="#c91ac9"/><rect x="293.83" y="698.41" width="3.4" height="3.4" fill="#c91ac9"/><rect x="300.48" y="691.62" width="3.4" height="3.4" fill="#c91ac9"/><rect x="307.13" y="683.91" width="3.4" height="3.4" fill="#c91ac9"/><rect x="313.78" y="675.18" width="3.4" height="3.4" fill="#c91ac9"/><rect x="320.43" y="665.82" width="3.4" height="3.4" fill="#c91ac9"/><rect x="327.08" y="655.43" width="3.4" height="3.4" fill="#c91ac9"/><rect x="333.73" y="642.49" width="3.4" height="3.4" fill="#c91ac9"/>
<path d="M139.25 746 L140.98 746 L142.71 745.99 L144.44 745.99 L146.17 745.98 L147.9 745.97 L149.63 745.96 L151.36 745.94 L153.09 745.92 L154.82 745.9 L156.55 745.88 L158.27 745.86 L160 745.83 L161.73 745.81 L163.46 745.78 L165.19 745.75 L166.91 745.72 L168.64 745.69 L170.37 745.65 L172.09 745.62 L173.82 745.58 L175.55 745.53 L177.28 745.46 L179.01 745.39 L180.74 745.3 L182.47 745.2 L184.2 745.1 L185.92 744.98 L187.65 744.85 L189.38 744.72 L191.1 744.58 L192.83 744.43 L194.55 744.27 L196.27 744.11 L197.98 743.94 L199.69 743.77 L201.41 743.58 L203.11 743.35 L204.82 743.09 L206.53 742.8 L208.23 742.49 L209.93 742.15 L211.63 741.8 L213.32 741.43 L215.02 741.06 L216.7 740.68 L218.39 740.3 L220.07 739.92 L221.76 739.53 L223.44 739.13 L225.13 738.71 L226.81 738.28 L228.49 737.84 L230.16 737.38 L231.82 736.9 L233.48 736.41 L235.13 735.89 L236.77 735.36 L238.39 734.82 L240.01 734.23 L241.61 733.61 L243.21 732.96 L244.8 732.28 L246.39 731.58 L247.96 730.86 L249.53 730.12 L251.1 729.37 L252.66 728.61 L254.22 727.84 L255.77 727.08 L257.32 726.32 L258.87 725.56 L260.43 724.79 L261.98 724.02 L263.53 723.23 L265.07 722.44 L266.61 721.63 L268.14 720.82 L269.66 719.98 L271.16 719.13 L272.65 718.26 L274.13 717.38 L275.59 716.47 L277.02 715.53 L278.45 714.56 L279.86 713.57 L281.25 712.54 L282.63 711.49 L284 710.42 L285.36 709.34 L286.71 708.25 L288.05 707.15 L289.37 706.05 L290.69 704.94 L292.01 703.82 L293.32 702.68 L294.61 701.54 L295.9 700.38 L297.18 699.21 L298.45 698.03 L299.71 696.83 L300.95 695.63 L302.18 694.42 L303.4 693.19 L304.59 691.95 L305.78 690.7 L306.95 689.43 L308.1 688.15 L309.25 686.86 L310.38 685.55 L311.51 684.23 L312.62 682.9 L313.72 681.56 L314.81 680.21 L315.89 678.86 L316.97 677.51 L318.04 676.15 L319.09 674.79 L320.14 673.41 L321.18 672.03 L322.21 670.64 L323.23 669.24 L324.24 667.84 L325.24 666.43 L326.24 665.01 L327.22 663.59 L328.21 662.17 L329.18 660.74 L330.14 659.31 L331.09 657.86 L332.03 656.41 L332.96 654.96 L333.89 653.49 L334.81 652.03 L335.74 650.57 L336.67 649.12 L337.61 647.66 L338.54 646.21 L339.48 644.75 L340.41 643.3" stroke="#8c8c3c" stroke-width="1.8" fill="none" stroke-linejoin="round"/>
<path d="M139.25 748.21 L141.29 744.47 L137.21 744.47 Z" fill="#8c8c3c"/><path d="M145.9 748.19 L147.94 744.45 L143.86 744.45 Z" fill="#8c8c3c"/><path d="M152.55 748.14 L154.59 744.4 L150.51 744.4 Z" fill="#8c8c3c"/><path d="M159.2 748.06 L161.24 744.32 L157.16 744.32 Z" fill="#8c8c3c"/><path d="M165.85 747.95 L167.89 744.21 L163.81 744.21 Z" fill="#8c8c3c"/><path d="M172.5 747.82 L174.54 744.08 L170.46 744.08 Z" fill="#8c8c3c"/><path d="M179.15 747.59 L181.19 743.85 L177.11 743.85 Z" fill="#8c8c3c"/><path d="M185.8 747.2 L187.84 743.46 L183.76 743.46 Z" fill="#8c8c3c"/><path d="M192.45 746.67 L194.49 742.93 L190.41 742.93 Z" fill="#8c8c3c"/><path d="M199.1 746.04 L201.14 742.3 L197.06 742.3 Z" fill="#8c8c3c"/><path d="M205.75 745.14 L207.79 741.4 L203.71 741.4 Z" fill="#8c8c3c"/><path d="M212.4 743.84 L214.44 740.1 L210.36 740.1 Z" fill="#8c8c3c"/><path d="M219.05 742.36 L221.09 738.62 L217.01 738.62 Z" fill="#8c8c3c"/><path d="M225.7 740.77 L227.74 737.03 L223.66 737.03 Z" fill="#8c8c3c"/><path d="M232.35 738.95 L234.39 735.21 L230.31 735.21 Z" fill="#8c8c3c"/><path d="M239 736.81 L241.04 733.07 L236.96 733.07 Z" fill="#8c8c3c"/><path d="M245.65 734.12 L247.69 730.38 L243.61 730.38 Z" fill="#8c8c3c"/><path d="M252.3 730.99 L254.34 727.25 L250.26 727.25 Z" fill="#8c8c3c"/><path d="M258.95 727.73 L260.99 723.99 L256.91 723.99 Z" fill="#8c8c3c"/><path d="M265.6 724.37 L267.64 720.63 L263.56 720.63 Z" fill="#8c8c3c"/><path d="M272.25 720.71 L274.29 716.97 L270.21 716.97 Z" fill="#8c8c3c"/><path d="M278.9 716.45 L280.94 712.71 L276.86 712.71 Z" fill="#8c8c3c"/><path d="M285.55 711.4 L287.59 707.66 L283.51 707.66 Z" fill="#8c8c3c"/><path d="M292.2 705.86 L294.24 702.12 L290.16 702.12 Z" fill="#8c8c3c"/><path d="M298.85 699.86 L300.89 696.12 L296.81 696.12 Z" fill="#8c8c3c"/><path d="M305.5 693.21 L307.54 689.47 L303.46 689.47 Z" fill="#8c8c3c"/><path d="M312.15 685.66 L314.19 681.92 L310.11 681.92 Z" fill="#8c8c3c"/><path d="M318.8 677.38 L320.84 673.64 L316.76 673.64 Z" fill="#8c8c3c"/><path d="M325.45 668.34 L327.49 664.6 L323.41 664.6 Z" fill="#8c8c3c"/><path d="M332.1 658.51 L334.14 654.77 L330.06 654.77 Z" fill="#8c8c3c"/><path d="M338.75 648.1 L340.79 644.36 L336.71 644.36 Z" fill="#8c8c3c"/>
<path d="M143.4 746.5 L143.55 744.97 L143.7 743.43 L143.85 741.9 L144 740.37 L144.14 738.83 L144.29 737.3 L144.43 735.76 L144.57 734.23 L144.7 732.69 L144.83 731.16 L144.95 729.62 L145.06 728.08 L145.18 726.54 L145.3 725.01 L145.43 723.47 L145.56 721.94 L145.7 720.4 L145.85 718.87 L146.01 717.34 L146.2 715.82 L146.4 714.29 L146.63 712.77 L146.87 711.25 L147.14 709.73 L147.42 708.22 L147.71 706.7 L148 705.19 L148.31 703.67 L148.62 702.16 L148.92 700.65 L149.23 699.14 L149.53 697.63 L149.84 696.12 L150.15 694.61 L150.46 693.1 L150.78 691.59 L151.1 690.08 L151.43 688.58 L151.77 687.07 L152.12 685.57 L152.48 684.07 L152.84 682.58 L153.22 681.08 L153.61 679.6 L154.01 678.11 L154.43 676.63 L154.86 675.15 L155.3 673.67 L155.76 672.19 L156.23 670.72 L156.71 669.26 L157.21 667.8 L157.72 666.35 L158.24 664.9 L158.78 663.47 L159.37 662.04 L159.98 660.63 L160.61 659.22 L161.24 657.82 L161.88 656.41 L162.52 655 L163.14 653.59 L163.73 652.17 L164.3 650.74 L164.83 649.29 L165.34 647.84 L165.85 646.38 L166.35 644.92 L166.87 643.47 L167.41 642.02 L167.98 640.6 L168.58 639.19 L169.21 637.78 L169.87 636.39 L170.55 635.01 L171.24 633.63 L171.95 632.26 L172.67 630.89 L173.4 629.53 L174.12 628.17 L174.86 626.82 L175.6 625.47 L176.35 624.12 L177.11 622.78 L177.88 621.44 L178.66 620.11 L179.45 618.79 L180.25 617.47 L181.06 616.16 L181.88 614.86 L182.72 613.57 L183.56 612.28 L184.42 610.99 L185.28 609.72 L186.16 608.45 L187.06 607.19 L187.96 605.94 L188.89 604.7 L189.82 603.48 L190.78 602.28 L191.75 601.09 L192.74 599.92 L193.76 598.76 L194.8 597.62 L195.85 596.49 L196.91 595.37 L197.98 594.26 L199.06 593.15 L200.14 592.05 L201.22 590.96 L202.32 589.88 L203.42 588.8 L204.54 587.73 L205.67 586.68 L206.81 585.65 L207.96 584.62 L209.12 583.62 L210.31 582.64 L211.5 581.67 L212.71 580.71 L213.93 579.76 L215.15 578.82 L216.37 577.88 L217.59 576.94 L218.82 576 L220.05 575.07 L221.28 574.15 L222.52 573.24 L223.77 572.34 L225.03 571.45 L226.3 570.57 L227.57 569.71 L228.85 568.85 L230.14 568.01 L231.44 567.17 L232.74 566.34 L234.04 565.52 L235.35 564.72 L236.67 563.93 L238 563.14 L239.33 562.36 L240.65 561.57 L241.97 560.78 L243.29 559.97 L244.6 559.16 L245.9 558.34 L247.21 557.52 L248.52 556.72 L249.85 555.93 L251.18 555.17 L252.53 554.43 L253.89 553.7 L255.25 552.98 L256.62 552.27 L257.99 551.57 L259.36 550.86 L260.74 550.17 L262.12 549.48 L263.5 548.8" stroke="#1e90ff" stroke-width="1.8" fill="none" stroke-linejoin="round"/>
<path d="M145.9 716.2 L147.94 719.94 L143.86 719.94 Z" fill="#1e90ff"/><path d="M152.55 681.56 L154.59 685.3 L150.51 685.3 Z" fill="#1e90ff"/><path d="M159.2 660.24 L161.24 663.98 L157.16 663.98 Z" fill="#1e90ff"/><path d="M165.85 644.17 L167.89 647.91 L163.81 647.91 Z" fill="#1e90ff"/><path d="M172.5 629 L174.54 632.74 L170.46 632.74 Z" fill="#1e90ff"/><path d="M179.15 617.08 L181.19 620.82 L177.11 620.82 Z" fill="#1e90ff"/><path d="M185.8 606.76 L187.84 610.5 L183.76 610.5 Z" fill="#1e90ff"/><path d="M192.45 598.06 L194.49 601.8 L190.41 601.8 Z" fill="#1e90ff"/><path d="M199.1 590.9 L201.14 594.64 L197.06 594.64 Z" fill="#1e90ff"/><path d="M205.75 584.4 L207.79 588.14 L203.71 588.14 Z" fill="#1e90ff"/><path d="M212.4 578.75 L214.44 582.49 L210.36 582.49 Z" fill="#1e90ff"/><path d="M219.05 573.62 L221.09 577.36 L217.01 577.36 Z" fill="#1e90ff"/><path d="M225.7 568.78 L227.74 572.52 L223.66 572.52 Z" fill="#1e90ff"/><path d="M232.35 564.38 L234.39 568.12 L230.31 568.12 Z" fill="#1e90ff"/><path d="M239 560.34 L241.04 564.08 L236.96 564.08 Z" fill="#1e90ff"/><path d="M245.65 556.29 L247.69 560.03 L243.61 560.03 Z" fill="#1e90ff"/><path d="M252.3 552.35 L254.34 556.09 L250.26 556.09 Z" fill="#1e90ff"/><path d="M258.95 548.87 L260.99 552.61 L256.91 552.61 Z" fill="#1e90ff"/>
<path d="M141.2 746.5 L141.39 744.98 L141.58 743.45 L141.77 741.93 L141.95 740.41 L142.14 738.88 L142.32 737.36 L142.5 735.83 L142.68 734.31 L142.86 732.79 L143.03 731.26 L143.19 729.73 L143.36 728.21 L143.52 726.68 L143.69 725.15 L143.85 723.63 L144.03 722.1 L144.2 720.58 L144.39 719.06 L144.58 717.53 L144.78 716.01 L144.99 714.49 L145.21 712.97 L145.43 711.46 L145.66 709.94 L145.9 708.42 L146.15 706.91 L146.39 705.39 L146.65 703.88 L146.9 702.36 L147.16 700.85 L147.42 699.34 L147.68 697.82 L147.95 696.31 L148.22 694.8 L148.5 693.29 L148.78 691.78 L149.07 690.28 L149.36 688.77 L149.65 687.26 L149.95 685.76 L150.25 684.25 L150.55 682.74 L150.85 681.24 L151.15 679.73 L151.46 678.23 L151.76 676.72 L152.06 675.22 L152.37 673.71 L152.68 672.21 L153 670.71 L153.32 669.21 L153.66 667.71 L154.01 666.22 L154.37 664.73 L154.74 663.24 L155.12 661.75 L155.51 660.26 L155.92 658.77 L156.34 657.29 L156.78 655.82 L157.23 654.35 L157.71 652.9 L158.21 651.46 L158.76 650.04 L159.37 648.63 L160.01 647.23 L160.67 645.84 L161.34 644.45 L161.98 643.06 L162.61 641.65 L163.23 640.25 L163.84 638.84 L164.45 637.43 L165.07 636.03 L165.68 634.62 L166.3 633.21 L166.92 631.81 L167.55 630.41 L168.19 629.02 L168.84 627.63 L169.5 626.24 L170.16 624.86 L170.83 623.47 L171.51 622.09 L172.2 620.72 L172.89 619.35 L173.6 617.99 L174.33 616.64 L175.07 615.3 L175.82 613.96 L176.59 612.63 L177.37 611.31 L178.17 609.99 L178.99 608.69 L179.82 607.39 L180.66 606.11 L181.53 604.85 L182.41 603.6 L183.33 602.37 L184.26 601.16 L185.22 599.96 L186.19 598.76 L187.18 597.58 L188.16 596.4 L189.15 595.23 L190.15 594.06 L191.15 592.9 L192.17 591.75 L193.2 590.61 L194.25 589.49 L195.31 588.39 L196.4 587.3 L197.5 586.24 L198.63 585.19 L199.77 584.15 L200.91 583.14 L202.07 582.13 L203.25 581.15 L204.44 580.18 L205.64 579.22 L206.85 578.27 L208.06 577.33 L209.27 576.39 L210.49 575.46 L211.72 574.53 L212.95 573.62 L214.19 572.71 L215.44 571.81 L216.69 570.92 L217.94 570.04 L219.2 569.16 L220.47 568.3 L221.76 567.46 L223.05 566.64 L224.36 565.84 L225.68 565.06 L227.01 564.28 L228.33 563.5 L229.65 562.72 L230.98 561.94 L232.3 561.17 L233.64 560.41 L234.98 559.67 L236.34 558.96 L237.71 558.26 L239.08 557.58 L240.46 556.91 L241.84 556.23 L243.21 555.54 L244.58 554.85 L245.95 554.16 L247.32 553.46 L248.69 552.78 L250.07 552.09 L251.45 551.41 L252.83 550.75 L254.21 550.09 L255.61 549.44 L257 548.8" stroke="#128a12" stroke-width="1.8" fill="none" stroke-linejoin="round"/>
<circle cx="145.9" cy="708.43" r="1.87" fill="#128a12"/><circle cx="152.55" cy="672.83" r="1.87" fill="#128a12"/><circle cx="159.2" cy="649.02" r="1.87" fill="#128a12"/><circle cx="165.85" cy="634.23" r="1.87" fill="#128a12"/><circle cx="172.5" cy="620.12" r="1.87" fill="#128a12"/><circle cx="179.15" cy="608.43" r="1.87" fill="#128a12"/><circle cx="185.8" cy="599.25" r="1.87" fill="#128a12"/><circle cx="192.45" cy="591.44" r="1.87" fill="#128a12"/><circle cx="199.1" cy="584.76" r="1.87" fill="#128a12"/><circle cx="205.75" cy="579.14" r="1.87" fill="#128a12"/><circle cx="212.4" cy="574.03" r="1.87" fill="#128a12"/><circle cx="219.05" cy="569.27" r="1.87" fill="#128a12"/><circle cx="225.7" cy="565.05" r="1.87" fill="#128a12"/><circle cx="232.35" cy="561.14" r="1.87" fill="#128a12"/><circle cx="239" cy="557.62" r="1.87" fill="#128a12"/><circle cx="245.65" cy="554.31" r="1.87" fill="#128a12"/><circle cx="252.3" cy="551" r="1.87" fill="#128a12"/>
<path d="M136.09 746.5 L136.32 744.97 L136.54 743.43 L136.77 741.9 L137 740.36 L137.22 738.83 L137.45 737.29 L137.67 735.75 L137.89 734.22 L138.11 732.68 L138.33 731.15 L138.55 729.61 L138.76 728.07 L138.97 726.54 L139.19 725 L139.41 723.46 L139.63 721.93 L139.86 720.39 L140.09 718.86 L140.32 717.33 L140.57 715.8 L140.83 714.27 L141.09 712.74 L141.37 711.21 L141.65 709.68 L141.93 708.16 L142.22 706.63 L142.5 705.11 L142.78 703.58 L143.06 702.05 L143.33 700.53 L143.58 699 L143.83 697.46 L144.07 695.93 L144.29 694.4 L144.51 692.86 L144.72 691.32 L144.93 689.78 L145.15 688.25 L145.36 686.71 L145.58 685.17 L145.81 683.64 L146.05 682.11 L146.3 680.58 L146.57 679.05 L146.84 677.52 L147.13 676 L147.43 674.48 L147.74 672.95 L148.06 671.43 L148.38 669.92 L148.72 668.4 L149.06 666.89 L149.41 665.38 L149.77 663.87 L150.14 662.36 L150.52 660.86 L150.92 659.36 L151.33 657.86 L151.74 656.36 L152.17 654.87 L152.62 653.38 L153.07 651.9 L153.55 650.43 L154.04 648.96 L154.56 647.5 L155.1 646.04 L155.64 644.59 L156.2 643.14 L156.76 641.69 L157.32 640.24 L157.88 638.79 L158.44 637.35 L159.01 635.9 L159.58 634.45 L160.15 633.01 L160.72 631.56 L161.31 630.12 L161.9 628.68 L162.5 627.25 L163.11 625.82 L163.73 624.4 L164.36 622.99 L165.01 621.58 L165.66 620.18 L166.34 618.79 L167.03 617.4 L167.73 616.02 L168.44 614.63 L169.18 613.26 L169.92 611.89 L170.69 610.53 L171.47 609.19 L172.26 607.85 L173.07 606.53 L173.89 605.23 L174.74 603.94 L175.61 602.66 L176.5 601.39 L177.42 600.13 L178.36 598.89 L179.32 597.66 L180.3 596.45 L181.29 595.26 L182.3 594.08 L183.32 592.92 L184.36 591.78 L185.44 590.66 L186.53 589.56 L187.65 588.47 L188.77 587.4 L189.9 586.33 L191.03 585.26 L192.15 584.2 L193.29 583.14 L194.44 582.09 L195.59 581.05 L196.75 580.02 L197.92 579 L199.09 577.99 L200.27 576.98 L201.46 575.98 L202.65 574.98 L203.85 574 L205.06 573.02 L206.29 572.06 L207.52 571.13 L208.78 570.23 L210.06 569.36 L211.35 568.51 L212.66 567.67 L213.99 566.86 L215.32 566.05 L216.65 565.25 L217.98 564.46 L219.32 563.67 L220.66 562.9 L222.02 562.14 L223.37 561.39 L224.74 560.65 L226.11 559.93 L227.49 559.21 L228.87 558.5 L230.26 557.81 L231.66 557.13 L233.06 556.48 L234.48 555.85 L235.9 555.25 L237.34 554.66 L238.79 554.1 L240.24 553.54 L241.69 552.98 L243.13 552.41 L244.58 551.85 L246.03 551.3 L247.48 550.75 L248.93 550.2 L250.38 549.66 L251.84 549.13 L253.3 548.6" stroke="#c91ac9" stroke-width="1.8" fill="none" stroke-linejoin="round"/>
<rect x="140.88" y="703" width="3.4" height="3.4" fill="#c91ac9"/><rect x="147.53" y="664.48" width="3.4" height="3.4" fill="#c91ac9"/><rect x="154.18" y="642.28" width="3.4" height="3.4" fill="#c91ac9"/><rect x="160.83" y="625.49" width="3.4" height="3.4" fill="#c91ac9"/><rect x="167.48" y="611.56" width="3.4" height="3.4" fill="#c91ac9"/><rect x="174.13" y="600.65" width="3.4" height="3.4" fill="#c91ac9"/><rect x="180.78" y="592.18" width="3.4" height="3.4" fill="#c91ac9"/><rect x="187.43" y="585.36" width="3.4" height="3.4" fill="#c91ac9"/><rect x="194.08" y="579.19" width="3.4" height="3.4" fill="#c91ac9"/><rect x="200.73" y="573.47" width="3.4" height="3.4" fill="#c91ac9"/><rect x="207.38" y="568.33" width="3.4" height="3.4" fill="#c91ac9"/><rect x="214.03" y="564.1" width="3.4" height="3.4" fill="#c91ac9"/><rect x="220.68" y="560.24" width="3.4" height="3.4" fill="#c91ac9"/><rect x="227.33" y="556.72" width="3.4" height="3.4" fill="#c91ac9"/><rect x="233.98" y="553.64" width="3.4" height="3.4" fill="#c91ac9"/><rect x="240.63" y="551.03" width="3.4" height="3.4" fill="#c91ac9"/><rect x="247.28" y="548.48" width="3.4" height="3.4" fill="#c91ac9"/>
<path d="M137 746.5 L137.19 744.96 L137.38 743.42 L137.56 741.88 L137.75 740.34 L137.94 738.81 L138.13 737.27 L138.31 735.73 L138.5 734.19 L138.68 732.65 L138.86 731.11 L139.04 729.57 L139.21 728.03 L139.39 726.49 L139.57 724.95 L139.75 723.41 L139.93 721.87 L140.12 720.33 L140.31 718.79 L140.51 717.25 L140.72 715.72 L140.94 714.18 L141.16 712.65 L141.39 711.11 L141.63 709.58 L141.87 708.05 L142.11 706.52 L142.36 704.99 L142.6 703.46 L142.84 701.92 L143.08 700.39 L143.32 698.86 L143.54 697.33 L143.77 695.79 L143.99 694.26 L144.2 692.72 L144.41 691.18 L144.63 689.65 L144.84 688.11 L145.06 686.58 L145.29 685.04 L145.52 683.51 L145.77 681.98 L146.02 680.45 L146.29 678.93 L146.57 677.4 L146.86 675.88 L147.15 674.36 L147.46 672.83 L147.78 671.32 L148.11 669.8 L148.44 668.28 L148.79 666.77 L149.14 665.26 L149.5 663.76 L149.87 662.25 L150.25 660.75 L150.65 659.25 L151.05 657.75 L151.47 656.26 L151.91 654.77 L152.35 653.28 L152.81 651.8 L153.28 650.33 L153.78 648.86 L154.3 647.4 L154.83 645.94 L155.38 644.49 L155.94 643.04 L156.5 641.6 L157.06 640.15 L157.62 638.71 L158.18 637.26 L158.74 635.81 L159.31 634.37 L159.88 632.92 L160.46 631.48 L161.04 630.04 L161.63 628.6 L162.23 627.17 L162.84 625.75 L163.46 624.33 L164.1 622.91 L164.74 621.51 L165.4 620.11 L166.07 618.72 L166.76 617.33 L167.46 615.95 L168.18 614.57 L168.91 613.19 L169.66 611.83 L170.42 610.47 L171.2 609.12 L172 607.79 L172.81 606.47 L173.63 605.17 L174.48 603.88 L175.35 602.6 L176.24 601.34 L177.16 600.08 L178.1 598.84 L179.06 597.61 L180.04 596.4 L181.03 595.21 L182.04 594.03 L183.06 592.88 L184.1 591.74 L185.18 590.62 L186.27 589.52 L187.39 588.44 L188.51 587.36 L189.63 586.29 L190.76 585.22 L191.89 584.16 L193.03 583.11 L194.17 582.06 L195.32 581.02 L196.48 579.99 L197.65 578.97 L198.83 577.96 L200.01 576.96 L201.19 575.96 L202.38 574.96 L203.58 573.97 L204.79 573 L206.01 572.04 L207.25 571.11 L208.51 570.21 L209.78 569.34 L211.08 568.49 L212.39 567.66 L213.71 566.84 L215.04 566.04 L216.37 565.24 L217.7 564.44 L219.04 563.66 L220.39 562.89 L221.74 562.13 L223.09 561.38 L224.46 560.64 L225.83 559.92 L227.2 559.2 L228.59 558.49 L229.97 557.8 L231.37 557.12 L232.78 556.47 L234.19 555.84 L235.62 555.24 L237.05 554.66 L238.5 554.09 L239.95 553.53 L241.39 552.97 L242.84 552.41 L244.28 551.85 L245.73 551.3 L247.18 550.75 L248.63 550.2 L250.09 549.66 L251.54 549.13 L253 548.6" stroke="#8c8c3c" stroke-width="1.8" fill="none" stroke-linejoin="round"/>
<path d="M139.25 729.91 L141.29 726.17 L137.21 726.17 Z" fill="#8c8c3c"/><path d="M145.9 683.4 L147.94 679.66 L143.86 679.66 Z" fill="#8c8c3c"/><path d="M152.55 654.84 L154.59 651.1 L150.51 651.1 Z" fill="#8c8c3c"/><path d="M159.2 636.86 L161.24 633.12 L157.16 633.12 Z" fill="#8c8c3c"/><path d="M165.85 621.39 L167.89 617.65 L163.81 617.65 Z" fill="#8c8c3c"/><path d="M172.5 609.18 L174.54 605.44 L170.46 605.44 Z" fill="#8c8c3c"/><path d="M179.15 599.71 L181.19 595.97 L177.11 595.97 Z" fill="#8c8c3c"/><path d="M185.8 592.21 L187.84 588.47 L183.76 588.47 Z" fill="#8c8c3c"/><path d="M192.45 585.85 L194.49 582.11 L190.41 582.11 Z" fill="#8c8c3c"/><path d="M199.1 579.94 L201.14 576.2 L197.06 576.2 Z" fill="#8c8c3c"/><path d="M205.75 574.46 L207.79 570.72 L203.71 570.72 Z" fill="#8c8c3c"/><path d="M212.4 569.86 L214.44 566.12 L210.36 566.12 Z" fill="#8c8c3c"/><path d="M219.05 565.87 L221.09 562.13 L217.01 562.13 Z" fill="#8c8c3c"/><path d="M225.7 562.19 L227.74 558.45 L223.66 558.45 Z" fill="#8c8c3c"/><path d="M232.35 558.88 L234.39 555.14 L230.31 555.14 Z" fill="#8c8c3c"/><path d="M239 556.11 L241.04 552.37 L236.96 552.37 Z" fill="#8c8c3c"/><path d="M245.65 553.54 L247.69 549.8 L243.61 549.8 Z" fill="#8c8c3c"/><path d="M252.3 551.06 L254.34 547.32 L250.26 547.32 Z" fill="#8c8c3c"/>
</g>
<rect x="73" y="551.3" width="265" height="194.7" stroke="#000" stroke-width="2.4" fill="none" stroke-linecap="square"/>
<path d="M73 551h5.2M73 583.5h5.2M73 616h5.2M73 648.5h5.2M73 681h5.2M73 713.5h5.2M73 746h5.2M73 567.25h3.2M73 599.75h3.2M73 632.25h3.2M73 664.75h3.2M73 697.25h3.2M73 729.75h3.2M338 746h-5.2M338 731.32h-3.2M338 722.74h-3.2M338 716.65h-3.2M338 711.93h-3.2M338 708.07h-3.2M338 704.8h-3.2M338 701.97h-3.2M338 699.48h-3.2M338 697.25h-5.2M338 682.57h-3.2M338 673.99h-3.2M338 667.9h-3.2M338 663.18h-3.2M338 659.32h-3.2M338 656.05h-3.2M338 653.22h-3.2M338 650.73h-3.2M338 648.5h-5.2M338 633.82h-3.2M338 625.24h-3.2M338 619.15h-3.2M338 614.43h-3.2M338 610.57h-3.2M338 607.3h-3.2M338 604.47h-3.2M338 601.98h-3.2M338 599.75h-5.2M338 585.07h-3.2M338 576.49h-3.2M338 570.4h-3.2M338 565.68h-3.2M338 561.82h-3.2M338 558.55h-3.2M338 555.72h-3.2M338 553.23h-3.2M106 746v-5.2M172.5 746v-5.2M239 746v-5.2M305.5 746v-5.2M139.25 746v-3.2M205.75 746v-3.2M272.25 746v-3.2" stroke="#000" stroke-width="2.1" fill="none"/>
<path d="M75.2 744.6H184.25" stroke="#128a12" stroke-width="1.2" stroke-dasharray="3.0 3.65" fill="none"/>
<path d="M75.2 744.5H184.25" stroke="#8c8c3c" stroke-width="1.4" stroke-dasharray="1.6 5.05" stroke-dashoffset="-3.3" fill="none"/>
<path d="M75.2 744.3H139.25" stroke="#c91ac9" stroke-width="1.0" stroke-dasharray="1.2 12.1" stroke-dashoffset="-5" fill="none"/>
<text x="68" y="555.1" font-size="13.2" text-anchor="end" font-weight="bold" >6000</text>
<text x="68" y="587.6" font-size="13.2" text-anchor="end" font-weight="bold" >5000</text>
<text x="68" y="620.1" font-size="13.2" text-anchor="end" font-weight="bold" >4000</text>
<text x="68" y="652.6" font-size="13.2" text-anchor="end" font-weight="bold" >3000</text>
<text x="68" y="685.1" font-size="13.2" text-anchor="end" font-weight="bold" >2000</text>
<text x="68" y="717.6" font-size="13.2" text-anchor="end" font-weight="bold" >1000</text>
<text x="68" y="750.1" font-size="13.2" text-anchor="end" font-weight="bold" >0</text>
<text x="342" y="750.9" font-size="12.7" text-anchor="start" font-weight="bold" >10<tspan dy="-5.9" font-size="8.25">0</tspan></text>
<text x="342" y="702.15" font-size="12.7" text-anchor="start" font-weight="bold" >10<tspan dy="-5.9" font-size="8.25">1</tspan></text>
<text x="342" y="653.4" font-size="12.7" text-anchor="start" font-weight="bold" >10<tspan dy="-5.9" font-size="8.25">2</tspan></text>
<text x="342" y="604.65" font-size="12.7" text-anchor="start" font-weight="bold" >10<tspan dy="-5.9" font-size="8.25">3</tspan></text>
<text x="342" y="555.9" font-size="12.7" text-anchor="start" font-weight="bold" >10<tspan dy="-5.9" font-size="8.25">4</tspan></text>
<text x="104.2" y="761" font-size="13.2" text-anchor="middle" font-weight="bold" >2</text>
<text x="170.7" y="761" font-size="13.2" text-anchor="middle" font-weight="bold" >4</text>
<text x="237.2" y="761" font-size="13.2" text-anchor="middle" font-weight="bold" >6</text>
<text x="303.7" y="761" font-size="13.2" text-anchor="middle" font-weight="bold" >8</text>
<text x="205" y="784.9" font-size="13.5" text-anchor="middle" font-weight="bold" >Voltage (V)</text>
<text transform="translate(24.5 658) rotate(-90)" font-size="13.25" text-anchor="middle" font-weight="bold">Current Density (A m<tspan dy="-5.5" font-size="9">-2</tspan><tspan dy="5.5">)</tspan></text>
<text transform="translate(377.6 657.8) rotate(-90)" font-size="13.25" text-anchor="middle" font-weight="bold">Luminance (cd m<tspan dy="-5.5" font-size="9">-2</tspan><tspan dy="5.5">)</tspan></text>
<text x="74.9" y="566.5" font-size="13.35"><tspan font-weight="normal">Emitter: </tspan><tspan font-weight="bold">Ir(mphmq)<tspan dy="4.2" font-size="9">2</tspan><tspan dy="-4.2">tmd</tspan></tspan></text>
<text x="178.8" y="635.8" font-size="13.35" text-anchor="start" font-weight="normal" >HML:</text>
<path d="M187.9 650.9 H202.7" stroke="#c91ac9" stroke-width="2" fill="none"/>
<rect x="193.3" y="648.9" width="4" height="4" fill="#c91ac9"/>
<text x="206" y="651.9" font-size="13.3" text-anchor="start" font-weight="bold" >3,3',6,6'-TDTA-SBF</text>
<path d="M187.9 667.3 H202.7" stroke="#128a12" stroke-width="2" fill="none"/>
<circle cx="195.3" cy="667.3" r="2.2" fill="#128a12"/>
<text x="206" y="668.5" font-size="13.3" text-anchor="start" font-weight="bold" >3,3'-DDTA-SBF</text>
<path d="M187.9 684 H202.7" stroke="#1e90ff" stroke-width="2" fill="none"/>
<path d="M195.3 681.4 L197.7 685.8 L192.9 685.8 Z" fill="#1e90ff"/>
<text x="206" y="685.2" font-size="13.3" text-anchor="start" font-weight="bold" >3,6-DDTA-SBF</text>
<path d="M187.9 701 H202.7" stroke="#8c8c3c" stroke-width="2" fill="none"/>
<path d="M195.3 703.6 L197.7 699.2 L192.9 699.2 Z" fill="#8c8c3c"/>
<text x="206" y="702.3" font-size="13.3" text-anchor="start" font-weight="bold" >TAPC</text>
<ellipse cx="141" cy="722.5" rx="16" ry="5.3" fill="none" stroke="#000" stroke-width="1.05"/>
<path d="M157 722.5 H172.5" stroke="#000" stroke-width="0.95" fill="none"/>
<path d="M172.5 722.5 l-4.6 -1.9 v3.8 Z" fill="#000"/>
<ellipse cx="288.6" cy="713.5" rx="5.8" ry="17.6" fill="none" stroke="#000" stroke-width="1.05"/>
<path d="M288.6 696 H273" stroke="#000" stroke-width="0.95" fill="none"/>
<path d="M273 696 l4.6 -1.9 v3.8 Z" fill="#000"/>
<clipPath id="cc452"><rect x="452.8" y="551.3" width="266.7" height="196.2"/></clipPath>
<g clip-path="url(#cc452)">
<path d="M522.51 746 L523.97 746 L525.44 746 L526.9 746 L528.37 745.99 L529.83 745.99 L531.3 745.99 L532.76 745.98 L534.22 745.98 L535.69 745.97 L537.15 745.96 L538.62 745.96 L540.08 745.95 L541.55 745.94 L543.01 745.93 L544.47 745.92 L545.94 745.91 L547.4 745.9 L548.87 745.89 L550.33 745.88 L551.8 745.87 L553.26 745.86 L554.72 745.85 L556.19 745.84 L557.65 745.83 L559.12 745.81 L560.58 745.8 L562.04 745.78 L563.51 745.76 L564.97 745.74 L566.44 745.72 L567.9 745.69 L569.36 745.66 L570.83 745.63 L572.29 745.6 L573.76 745.57 L575.22 745.53 L576.68 745.5 L578.15 745.46 L579.61 745.42 L581.08 745.38 L582.54 745.34 L584 745.29 L585.47 745.24 L586.93 745.19 L588.4 745.13 L589.86 745.07 L591.32 745 L592.79 744.93 L594.25 744.85 L595.72 744.77 L597.18 744.69 L598.64 744.6 L600.1 744.51 L601.56 744.41 L603.02 744.31 L604.48 744.2 L605.93 744.09 L607.39 743.96 L608.84 743.81 L610.29 743.65 L611.74 743.47 L613.19 743.28 L614.65 743.08 L616.09 742.86 L617.54 742.64 L618.99 742.4 L620.44 742.16 L621.89 741.92 L623.33 741.66 L624.78 741.41 L626.22 741.15 L627.66 740.9 L629.11 740.64 L630.55 740.38 L631.99 740.13 L633.43 739.88 L634.88 739.63 L636.32 739.37 L637.76 739.11 L639.2 738.84 L640.64 738.57 L642.08 738.29 L643.52 738.01 L644.95 737.73 L646.39 737.44 L647.83 737.14 L649.26 736.84 L650.69 736.54 L652.12 736.23 L653.55 735.92 L654.98 735.6 L656.41 735.28 L657.84 734.95 L659.26 734.62 L660.68 734.28 L662.1 733.94 L663.53 733.59 L664.95 733.23 L666.36 732.86 L667.78 732.49 L669.2 732.12 L670.61 731.73 L672.03 731.35 L673.44 730.95 L674.85 730.56 L676.26 730.15 L677.67 729.74 L679.07 729.33 L680.48 728.91 L681.88 728.49 L683.28 728.06 L684.68 727.63 L686.07 727.2 L687.47 726.75 L688.86 726.3 L690.25 725.84 L691.64 725.37 L693.03 724.88 L694.41 724.39 L695.78 723.88 L697.15 723.37 L698.51 722.84 L699.86 722.29 L701.2 721.71 L702.54 721.12 L703.87 720.51 L705.19 719.88 L706.51 719.25 L707.83 718.61 L709.15 717.96 L710.46 717.31 L711.78 716.67 L713.1 716.03 L714.43 715.39 L715.75 714.78 L717.09 714.17 L718.43 713.58 L719.77 712.99 L721.11 712.41" stroke="#128a12" stroke-width="1.5" fill="none" stroke-linejoin="round"/>
<circle cx="532.2" cy="745.98" r="1.65" fill="#128a12"/><circle cx="545.4" cy="745.92" r="1.65" fill="#128a12"/><circle cx="558.6" cy="745.82" r="1.65" fill="#128a12"/><circle cx="571.8" cy="745.61" r="1.65" fill="#128a12"/><circle cx="585" cy="745.26" r="1.65" fill="#128a12"/><circle cx="598.2" cy="744.63" r="1.65" fill="#128a12"/><circle cx="611.4" cy="743.52" r="1.65" fill="#128a12"/><circle cx="624.6" cy="741.44" r="1.65" fill="#128a12"/><circle cx="637.8" cy="739.1" r="1.65" fill="#128a12"/><circle cx="651" cy="736.47" r="1.65" fill="#128a12"/><circle cx="664.2" cy="733.42" r="1.65" fill="#128a12"/><circle cx="677.4" cy="729.82" r="1.65" fill="#128a12"/><circle cx="690.6" cy="725.72" r="1.65" fill="#128a12"/><circle cx="703.8" cy="720.54" r="1.65" fill="#128a12"/><circle cx="717" cy="714.21" r="1.65" fill="#128a12"/>
<path d="M522.51 746 L523.97 746 L525.43 746 L526.9 746 L528.36 745.99 L529.82 745.99 L531.28 745.99 L532.75 745.98 L534.21 745.98 L535.67 745.97 L537.13 745.96 L538.59 745.96 L540.06 745.95 L541.52 745.94 L542.98 745.93 L544.44 745.92 L545.9 745.91 L547.37 745.9 L548.83 745.89 L550.29 745.88 L551.75 745.87 L553.21 745.86 L554.68 745.85 L556.14 745.84 L557.6 745.82 L559.06 745.81 L560.52 745.8 L561.99 745.79 L563.45 745.77 L564.91 745.75 L566.37 745.74 L567.83 745.72 L569.3 745.69 L570.76 745.67 L572.22 745.65 L573.68 745.62 L575.14 745.59 L576.61 745.56 L578.07 745.53 L579.53 745.5 L580.99 745.47 L582.45 745.43 L583.91 745.4 L585.38 745.35 L586.84 745.3 L588.3 745.25 L589.76 745.2 L591.23 745.13 L592.69 745.07 L594.15 745 L595.61 744.93 L597.07 744.85 L598.53 744.76 L599.99 744.68 L601.45 744.59 L602.91 744.49 L604.36 744.39 L605.82 744.29 L607.27 744.17 L608.72 744.03 L610.17 743.88 L611.63 743.71 L613.08 743.53 L614.53 743.34 L615.97 743.14 L617.42 742.92 L618.87 742.7 L620.32 742.47 L621.76 742.24 L623.21 741.99 L624.65 741.75 L626.1 741.51 L627.54 741.26 L628.98 741.01 L630.43 740.76 L631.87 740.52 L633.31 740.28 L634.75 740.03 L636.19 739.78 L637.63 739.53 L639.07 739.27 L640.51 739 L641.94 738.73 L643.38 738.46 L644.82 738.18 L646.25 737.89 L647.69 737.6 L649.12 737.31 L650.55 737.01 L651.98 736.71 L653.41 736.4 L654.84 736.09 L656.27 735.77 L657.69 735.45 L659.11 735.12 L660.54 734.79 L661.96 734.45 L663.38 734.1 L664.8 733.75 L666.21 733.39 L667.63 733.03 L669.05 732.66 L670.46 732.28 L671.87 731.9 L673.29 731.51 L674.7 731.12 L676.1 730.72 L677.51 730.32 L678.92 729.91 L680.32 729.5 L681.72 729.08 L683.12 728.66 L684.52 728.24 L685.91 727.81 L687.31 727.37 L688.7 726.93 L690.09 726.47 L691.48 726.01 L692.87 725.53 L694.25 725.05 L695.63 724.56 L697 724.05 L698.36 723.54 L699.72 723.01 L701.08 722.47 L702.42 721.9 L703.77 721.33 L705.1 720.74 L706.44 720.14 L707.77 719.53 L709.1 718.92 L710.43 718.31 L711.76 717.7 L713.09 717.09 L714.42 716.48 L715.76 715.88 L717.1 715.29 L718.43 714.7 L719.77 714.11 L721.11 713.52" stroke="#1e90ff" stroke-width="2.3" fill="none" stroke-linejoin="round"/>
<path d="M532.2 743.38 L534.6 747.78 L529.8 747.78 Z" fill="#1e90ff"/><path d="M545.4 743.32 L547.8 747.72 L543 747.72 Z" fill="#1e90ff"/><path d="M558.6 743.22 L561 747.62 L556.2 747.62 Z" fill="#1e90ff"/><path d="M571.8 743.05 L574.2 747.45 L569.4 747.45 Z" fill="#1e90ff"/><path d="M585 742.76 L587.4 747.16 L582.6 747.16 Z" fill="#1e90ff"/><path d="M598.2 742.18 L600.6 746.58 L595.8 746.58 Z" fill="#1e90ff"/><path d="M611.4 741.14 L613.8 745.54 L609 745.54 Z" fill="#1e90ff"/><path d="M624.6 739.16 L627 743.56 L622.2 743.56 Z" fill="#1e90ff"/><path d="M637.8 736.9 L640.2 741.3 L635.4 741.3 Z" fill="#1e90ff"/><path d="M651 734.31 L653.4 738.71 L648.6 738.71 Z" fill="#1e90ff"/><path d="M664.2 731.3 L666.6 735.7 L661.8 735.7 Z" fill="#1e90ff"/><path d="M677.4 727.75 L679.8 732.15 L675 732.15 Z" fill="#1e90ff"/><path d="M690.6 723.7 L693 728.1 L688.2 728.1 Z" fill="#1e90ff"/><path d="M703.8 718.71 L706.2 723.11 L701.4 723.11 Z" fill="#1e90ff"/><path d="M717 712.73 L719.4 717.13 L714.6 717.13 Z" fill="#1e90ff"/>
<path d="M509.27 746 L510.83 746 L512.39 746 L513.95 745.99 L515.52 745.99 L517.08 745.98 L518.64 745.98 L520.2 745.97 L521.76 745.96 L523.32 745.95 L524.88 745.94 L526.44 745.93 L528.01 745.91 L529.57 745.9 L531.13 745.89 L532.69 745.87 L534.25 745.85 L535.81 745.84 L537.37 745.82 L538.93 745.8 L540.49 745.78 L542.05 745.77 L543.62 745.75 L545.18 745.73 L546.74 745.71 L548.3 745.68 L549.86 745.66 L551.42 745.62 L552.98 745.59 L554.54 745.55 L556.1 745.51 L557.66 745.46 L559.22 745.42 L560.79 745.37 L562.35 745.32 L563.91 745.26 L565.47 745.2 L567.03 745.14 L568.59 745.08 L570.15 745.02 L571.71 744.96 L573.27 744.89 L574.82 744.82 L576.38 744.75 L577.94 744.68 L579.5 744.6 L581.06 744.52 L582.62 744.43 L584.18 744.33 L585.74 744.23 L587.3 744.13 L588.86 744.02 L590.42 743.91 L591.98 743.79 L593.54 743.66 L595.1 743.53 L596.65 743.4 L598.21 743.26 L599.76 743.12 L601.31 742.97 L602.86 742.81 L604.41 742.66 L605.96 742.49 L607.5 742.31 L609.05 742.11 L610.59 741.89 L612.13 741.66 L613.67 741.41 L615.22 741.15 L616.75 740.87 L618.29 740.59 L619.83 740.3 L621.37 740 L622.9 739.7 L624.43 739.38 L625.97 739.07 L627.5 738.75 L629.03 738.44 L630.56 738.12 L632.09 737.81 L633.61 737.49 L635.14 737.17 L636.66 736.83 L638.19 736.5 L639.71 736.15 L641.23 735.8 L642.75 735.44 L644.27 735.07 L645.79 734.7 L647.3 734.33 L648.82 733.95 L650.33 733.57 L651.85 733.18 L653.36 732.79 L654.87 732.4 L656.38 732.01 L657.89 731.61 L659.4 731.21 L660.91 730.81 L662.41 730.4 L663.92 729.99 L665.42 729.57 L666.93 729.15 L668.43 728.72 L669.93 728.29 L671.43 727.86 L672.93 727.42 L674.43 726.97 L675.92 726.53 L677.42 726.08 L678.91 725.62 L680.41 725.16 L681.9 724.7 L683.39 724.23 L684.87 723.77 L686.36 723.29 L687.85 722.82 L689.34 722.33 L690.82 721.84 L692.3 721.35 L693.78 720.84 L695.25 720.32 L696.72 719.79 L698.18 719.25 L699.63 718.69 L701.08 718.11 L702.52 717.51 L703.95 716.89 L705.38 716.26 L706.81 715.63 L708.23 714.98 L709.65 714.33 L711.08 713.69 L712.5 713.04 L713.93 712.4 L715.36 711.77 L716.79 711.16 L718.23 710.55 L719.67 709.95 L721.11 709.34" stroke="#c91ac9" stroke-width="1.3" fill="none" stroke-linejoin="round"/>
<rect x="511.1" y="744.7" width="2.6" height="2.6" fill="#c91ac9"/><rect x="524.3" y="744.63" width="2.6" height="2.6" fill="#c91ac9"/><rect x="537.5" y="744.5" width="2.6" height="2.6" fill="#c91ac9"/><rect x="550.7" y="744.31" width="2.6" height="2.6" fill="#c91ac9"/><rect x="563.9" y="743.91" width="2.6" height="2.6" fill="#c91ac9"/><rect x="577.1" y="743.36" width="2.6" height="2.6" fill="#c91ac9"/><rect x="590.3" y="742.52" width="2.6" height="2.6" fill="#c91ac9"/><rect x="603.5" y="741.31" width="2.6" height="2.6" fill="#c91ac9"/><rect x="616.7" y="739.35" width="2.6" height="2.6" fill="#c91ac9"/><rect x="629.9" y="736.69" width="2.6" height="2.6" fill="#c91ac9"/><rect x="643.1" y="733.74" width="2.6" height="2.6" fill="#c91ac9"/><rect x="656.3" y="730.39" width="2.6" height="2.6" fill="#c91ac9"/><rect x="669.5" y="726.74" width="2.6" height="2.6" fill="#c91ac9"/><rect x="682.7" y="722.74" width="2.6" height="2.6" fill="#c91ac9"/><rect x="695.9" y="718.31" width="2.6" height="2.6" fill="#c91ac9"/><rect x="709.1" y="712.69" width="2.6" height="2.6" fill="#c91ac9"/>
<path d="M505.96 746 L507.55 746 L509.14 746 L510.73 745.99 L512.32 745.99 L513.91 745.98 L515.5 745.97 L517.09 745.96 L518.68 745.95 L520.27 745.94 L521.86 745.93 L523.44 745.91 L525.03 745.9 L526.62 745.88 L528.21 745.87 L529.8 745.85 L531.39 745.83 L532.98 745.81 L534.57 745.79 L536.16 745.77 L537.75 745.75 L539.33 745.72 L540.92 745.7 L542.51 745.68 L544.1 745.65 L545.69 745.63 L547.28 745.6 L548.87 745.57 L550.46 745.53 L552.05 745.49 L553.63 745.45 L555.22 745.4 L556.81 745.35 L558.4 745.29 L559.99 745.23 L561.58 745.17 L563.17 745.11 L564.76 745.04 L566.34 744.97 L567.93 744.89 L569.52 744.82 L571.11 744.74 L572.69 744.66 L574.28 744.58 L575.86 744.49 L577.45 744.41 L579.04 744.31 L580.62 744.21 L582.21 744.1 L583.8 743.98 L585.38 743.86 L586.97 743.73 L588.56 743.6 L590.14 743.46 L591.73 743.31 L593.31 743.16 L594.89 743 L596.48 742.84 L598.06 742.67 L599.63 742.49 L601.21 742.31 L602.79 742.13 L604.36 741.94 L605.93 741.74 L607.5 741.52 L609.07 741.29 L610.64 741.04 L612.2 740.78 L613.77 740.49 L615.33 740.2 L616.89 739.9 L618.45 739.58 L620.01 739.25 L621.57 738.92 L623.13 738.58 L624.68 738.24 L626.23 737.89 L627.79 737.54 L629.34 737.18 L630.89 736.83 L632.44 736.48 L633.98 736.13 L635.53 735.76 L637.07 735.39 L638.61 735.01 L640.16 734.62 L641.7 734.22 L643.23 733.82 L644.77 733.41 L646.31 733 L647.84 732.58 L649.37 732.16 L650.91 731.73 L652.44 731.3 L653.97 730.87 L655.5 730.44 L657.03 730.01 L658.55 729.57 L660.08 729.13 L661.61 728.69 L663.13 728.25 L664.66 727.8 L666.18 727.34 L667.7 726.89 L669.23 726.43 L670.75 725.96 L672.27 725.49 L673.78 725.02 L675.3 724.54 L676.82 724.06 L678.33 723.58 L679.84 723.09 L681.35 722.6 L682.86 722.11 L684.37 721.61 L685.88 721.11 L687.39 720.6 L688.89 720.09 L690.4 719.58 L691.9 719.05 L693.4 718.52 L694.89 717.98 L696.38 717.43 L697.87 716.87 L699.35 716.29 L700.82 715.7 L702.29 715.09 L703.75 714.47 L705.21 713.84 L706.66 713.2 L708.12 712.55 L709.57 711.9 L711.02 711.24 L712.46 710.58 L713.91 709.92 L715.35 709.26 L716.8 708.59 L718.24 707.92 L719.68 707.24 L721.11 706.56" stroke="#8c8c3c" stroke-width="2.3" fill="none" stroke-linejoin="round"/>
<path d="M519 748.94 L521.76 743.88 L516.24 743.88 Z" fill="#8c8c3c"/><path d="M532.2 748.81 L534.96 743.75 L529.44 743.75 Z" fill="#8c8c3c"/><path d="M545.4 748.62 L548.16 743.56 L542.64 743.56 Z" fill="#8c8c3c"/><path d="M558.6 748.28 L561.36 743.22 L555.84 743.22 Z" fill="#8c8c3c"/><path d="M571.8 747.69 L574.56 742.63 L569.04 742.63 Z" fill="#8c8c3c"/><path d="M585 746.88 L587.76 741.82 L582.24 741.82 Z" fill="#8c8c3c"/><path d="M598.2 745.64 L600.96 740.58 L595.44 740.58 Z" fill="#8c8c3c"/><path d="M611.4 743.9 L614.16 738.84 L608.64 738.84 Z" fill="#8c8c3c"/><path d="M624.6 741.24 L627.36 736.18 L621.84 736.18 Z" fill="#8c8c3c"/><path d="M637.8 738.2 L640.56 733.14 L635.04 733.14 Z" fill="#8c8c3c"/><path d="M651 734.7 L653.76 729.64 L648.24 729.64 Z" fill="#8c8c3c"/><path d="M664.2 730.92 L666.96 725.86 L661.44 725.86 Z" fill="#8c8c3c"/><path d="M677.4 726.87 L680.16 721.81 L674.64 721.81 Z" fill="#8c8c3c"/><path d="M690.6 722.5 L693.36 717.44 L687.84 717.44 Z" fill="#8c8c3c"/><path d="M703.8 717.44 L706.56 712.38 L701.04 712.38 Z" fill="#8c8c3c"/><path d="M717 711.49 L719.76 706.43 L714.24 706.43 Z" fill="#8c8c3c"/>
<path d="M523.8 746.2 L523.99 744.71 L524.17 743.23 L524.37 741.74 L524.56 740.26 L524.75 738.77 L524.95 737.29 L525.15 735.8 L525.35 734.32 L525.55 732.84 L525.75 731.35 L525.96 729.87 L526.17 728.39 L526.38 726.9 L526.59 725.42 L526.8 723.94 L527.02 722.46 L527.23 720.98 L527.45 719.49 L527.67 718.01 L527.9 716.53 L528.12 715.05 L528.35 713.57 L528.58 712.09 L528.81 710.61 L529.04 709.13 L529.28 707.65 L529.52 706.18 L529.76 704.7 L530 703.22 L530.24 701.74 L530.49 700.26 L530.73 698.79 L530.98 697.31 L531.23 695.83 L531.48 694.36 L531.73 692.88 L531.97 691.4 L532.22 689.92 L532.47 688.45 L532.73 686.97 L532.98 685.49 L533.24 684.02 L533.51 682.54 L533.78 681.07 L534.05 679.6 L534.33 678.13 L534.62 676.66 L534.91 675.19 L535.22 673.73 L535.53 672.27 L535.85 670.81 L536.19 669.35 L536.53 667.89 L536.89 666.43 L537.25 664.98 L537.61 663.53 L537.99 662.08 L538.36 660.63 L538.74 659.18 L539.13 657.73 L539.52 656.28 L539.9 654.83 L540.29 653.39 L540.68 651.94 L541.07 650.49 L541.45 649.04 L541.83 647.59 L542.22 646.14 L542.6 644.69 L542.98 643.24 L543.37 641.78 L543.77 640.34 L544.17 638.89 L544.58 637.45 L545 636.01 L545.43 634.58 L545.88 633.15 L546.34 631.73 L546.81 630.32 L547.3 628.92 L547.81 627.52 L548.34 626.12 L548.89 624.73 L549.46 623.34 L550.05 621.95 L550.65 620.58 L551.27 619.2 L551.9 617.84 L552.54 616.48 L553.2 615.13 L553.87 613.78 L554.55 612.45 L555.24 611.12 L555.94 609.81 L556.66 608.5 L557.39 607.2 L558.15 605.91 L558.93 604.63 L559.73 603.35 L560.54 602.09 L561.37 600.83 L562.22 599.59 L563.08 598.36 L563.95 597.14 L564.83 595.94 L565.72 594.74 L566.62 593.55 L567.55 592.37 L568.48 591.2 L569.44 590.03 L570.41 588.88 L571.39 587.74 L572.39 586.61 L573.4 585.5 L574.43 584.4 L575.46 583.33 L576.51 582.28 L577.58 581.24 L578.66 580.23 L579.76 579.22 L580.87 578.22 L582.01 577.24 L583.15 576.27 L584.31 575.31 L585.48 574.36 L586.67 573.42 L587.86 572.5 L589.06 571.59 L590.27 570.7 L591.48 569.82 L592.7 568.95 L593.92 568.09 L595.15 567.25 L596.39 566.42 L597.64 565.6 L598.9 564.79 L600.16 563.99 L601.44 563.21 L602.73 562.43 L604.02 561.66 L605.32 560.91 L606.63 560.16 L607.94 559.43 L609.25 558.7 L610.57 557.99 L611.89 557.28 L613.21 556.59 L614.54 555.9 L615.87 555.23 L617.21 554.56 L618.55 553.9 L619.9 553.26 L621.26 552.62 L622.62 551.99 L623.98 551.37 L625.35 550.76 L626.73 550.17 L628.11 549.58 L629.5 549" stroke="#128a12" stroke-width="2.0" fill="none" stroke-linejoin="round"/>
<circle cx="532.2" cy="690.06" r="1.87" fill="#128a12"/><circle cx="545.4" cy="634.69" r="1.87" fill="#128a12"/><circle cx="558.6" cy="605.17" r="1.87" fill="#128a12"/><circle cx="571.8" cy="587.28" r="1.87" fill="#128a12"/><circle cx="585" cy="574.75" r="1.87" fill="#128a12"/><circle cx="598.2" cy="565.24" r="1.87" fill="#128a12"/><circle cx="611.4" cy="557.55" r="1.87" fill="#128a12"/><circle cx="624.6" cy="551.1" r="1.87" fill="#128a12"/>
<path d="M522.9 746.2 L523.1 744.74 L523.29 743.28 L523.49 741.81 L523.69 740.35 L523.9 738.89 L524.1 737.43 L524.31 735.97 L524.52 734.51 L524.73 733.05 L524.94 731.59 L525.15 730.13 L525.37 728.67 L525.59 727.21 L525.81 725.75 L526.03 724.29 L526.25 722.83 L526.47 721.37 L526.7 719.92 L526.93 718.46 L527.16 717 L527.39 715.55 L527.63 714.09 L527.87 712.63 L528.11 711.18 L528.35 709.72 L528.59 708.27 L528.84 706.81 L529.08 705.36 L529.33 703.9 L529.58 702.45 L529.83 700.99 L530.08 699.54 L530.33 698.09 L530.59 696.63 L530.84 695.18 L531.1 693.73 L531.35 692.27 L531.6 690.82 L531.86 689.36 L532.11 687.91 L532.37 686.46 L532.63 685 L532.89 683.55 L533.16 682.1 L533.43 680.65 L533.71 679.2 L533.99 677.75 L534.28 676.31 L534.58 674.86 L534.88 673.42 L535.2 671.98 L535.52 670.54 L535.85 669.11 L536.19 667.67 L536.54 666.24 L536.9 664.81 L537.26 663.38 L537.63 661.95 L538 660.52 L538.37 659.09 L538.75 657.66 L539.13 656.24 L539.51 654.81 L539.89 653.38 L540.28 651.96 L540.66 650.53 L541.04 649.11 L541.41 647.68 L541.79 646.24 L542.16 644.81 L542.54 643.38 L542.93 641.95 L543.31 640.52 L543.71 639.1 L544.11 637.68 L544.52 636.26 L544.95 634.85 L545.38 633.44 L545.83 632.04 L546.3 630.65 L546.78 629.27 L547.28 627.89 L547.8 626.51 L548.34 625.14 L548.9 623.78 L549.48 622.41 L550.07 621.06 L550.68 619.7 L551.31 618.36 L551.94 617.02 L552.6 615.69 L553.26 614.36 L553.93 613.05 L554.61 611.74 L555.3 610.44 L556 609.15 L556.71 607.87 L557.45 606.6 L558.21 605.33 L558.99 604.07 L559.78 602.82 L560.59 601.57 L561.41 600.34 L562.25 599.12 L563.1 597.91 L563.96 596.72 L564.82 595.53 L565.7 594.36 L566.6 593.18 L567.51 592.02 L568.44 590.86 L569.38 589.71 L570.33 588.58 L571.3 587.45 L572.28 586.34 L573.28 585.25 L574.28 584.17 L575.3 583.11 L576.33 582.07 L577.37 581.04 L578.43 580.03 L579.51 579.03 L580.61 578.04 L581.71 577.06 L582.84 576.1 L583.97 575.14 L585.12 574.2 L586.27 573.27 L587.44 572.35 L588.61 571.44 L589.79 570.54 L590.97 569.66 L592.16 568.79 L593.35 567.93 L594.55 567.09 L595.77 566.26 L596.99 565.45 L598.23 564.65 L599.48 563.86 L600.73 563.09 L601.99 562.32 L603.26 561.55 L604.53 560.8 L605.81 560.04 L607.08 559.29 L608.36 558.55 L609.64 557.8 L610.91 557.05 L612.18 556.3 L613.45 555.55 L614.72 554.81 L616 554.07 L617.28 553.33 L618.56 552.6 L619.84 551.87 L621.13 551.15 L622.42 550.43 L623.71 549.71 L625 549" stroke="#1e90ff" stroke-width="2.0" fill="none" stroke-linejoin="round"/>
<path d="M532.2 685.2 L534.24 688.94 L530.16 688.94 Z" fill="#1e90ff"/><path d="M545.4 631.18 L547.44 634.92 L543.36 634.92 Z" fill="#1e90ff"/><path d="M558.6 602.49 L560.64 606.23 L556.56 606.23 Z" fill="#1e90ff"/><path d="M571.8 584.68 L573.84 588.42 L569.76 588.42 Z" fill="#1e90ff"/><path d="M585 572.08 L587.04 575.82 L582.96 575.82 Z" fill="#1e90ff"/><path d="M598.2 562.46 L600.24 566.2 L596.16 566.2 Z" fill="#1e90ff"/><path d="M611.4 554.55 L613.44 558.29 L609.36 558.29 Z" fill="#1e90ff"/><path d="M624.6 547.01 L626.64 550.75 L622.56 550.75 Z" fill="#1e90ff"/>
<path d="M510.6 746.2 L510.74 744.71 L510.88 743.23 L511.02 741.74 L511.17 740.26 L511.33 738.78 L511.48 737.29 L511.64 735.81 L511.81 734.33 L511.98 732.84 L512.15 731.36 L512.32 729.88 L512.5 728.4 L512.68 726.92 L512.86 725.44 L513.05 723.96 L513.23 722.49 L513.43 721.01 L513.62 719.53 L513.82 718.05 L514.03 716.58 L514.25 715.1 L514.46 713.63 L514.69 712.15 L514.91 710.68 L515.14 709.2 L515.38 707.73 L515.61 706.26 L515.85 704.78 L516.09 703.31 L516.34 701.84 L516.58 700.37 L516.82 698.9 L517.06 697.43 L517.31 695.95 L517.55 694.48 L517.79 693.01 L518.03 691.54 L518.27 690.07 L518.51 688.59 L518.76 687.12 L519.01 685.65 L519.26 684.18 L519.51 682.71 L519.77 681.24 L520.04 679.77 L520.31 678.31 L520.59 676.84 L520.88 675.38 L521.17 673.92 L521.48 672.47 L521.8 671.01 L522.13 669.56 L522.47 668.11 L522.82 666.66 L523.17 665.21 L523.53 663.76 L523.9 662.31 L524.28 660.87 L524.66 659.43 L525.04 657.98 L525.43 656.54 L525.82 655.1 L526.21 653.66 L526.6 652.22 L526.99 650.78 L527.38 649.34 L527.77 647.9 L528.16 646.46 L528.55 645.01 L528.95 643.57 L529.35 642.13 L529.75 640.69 L530.16 639.25 L530.59 637.82 L531.02 636.39 L531.46 634.97 L531.91 633.55 L532.37 632.14 L532.85 630.73 L533.35 629.34 L533.86 627.95 L534.4 626.56 L534.94 625.17 L535.51 623.78 L536.09 622.4 L536.69 621.02 L537.31 619.65 L537.94 618.29 L538.59 616.94 L539.25 615.59 L539.92 614.26 L540.61 612.94 L541.32 611.63 L542.04 610.34 L542.77 609.06 L543.53 607.8 L544.33 606.54 L545.15 605.29 L546 604.06 L546.87 602.84 L547.75 601.63 L548.66 600.43 L549.57 599.24 L550.5 598.06 L551.43 596.9 L552.37 595.74 L553.31 594.6 L554.27 593.46 L555.24 592.32 L556.23 591.19 L557.23 590.08 L558.24 588.97 L559.26 587.87 L560.3 586.79 L561.35 585.73 L562.41 584.68 L563.49 583.65 L564.57 582.64 L565.67 581.65 L566.78 580.68 L567.92 579.73 L569.07 578.79 L570.23 577.86 L571.41 576.95 L572.6 576.05 L573.81 575.16 L575.02 574.28 L576.24 573.41 L577.46 572.55 L578.69 571.69 L579.93 570.84 L581.16 569.99 L582.39 569.14 L583.62 568.3 L584.85 567.45 L586.08 566.62 L587.32 565.78 L588.56 564.96 L589.8 564.13 L591.05 563.32 L592.31 562.51 L593.57 561.7 L594.83 560.91 L596.09 560.11 L597.36 559.33 L598.63 558.55 L599.91 557.77 L601.18 557.01 L602.47 556.25 L603.75 555.49 L605.04 554.75 L606.33 554 L607.63 553.27 L608.93 552.54 L610.24 551.82 L611.55 551.11 L612.86 550.4 L614.18 549.7 L615.5 549" stroke="#c91ac9" stroke-width="2.0" fill="none" stroke-linejoin="round"/>
<rect x="510.7" y="727.51" width="3.4" height="3.4" fill="#c91ac9"/><rect x="523.9" y="654.22" width="3.4" height="3.4" fill="#c91ac9"/><rect x="537.1" y="614.8" width="3.4" height="3.4" fill="#c91ac9"/><rect x="550.3" y="594.49" width="3.4" height="3.4" fill="#c91ac9"/><rect x="563.5" y="580.37" width="3.4" height="3.4" fill="#c91ac9"/><rect x="576.7" y="570.19" width="3.4" height="3.4" fill="#c91ac9"/><rect x="589.9" y="561.27" width="3.4" height="3.4" fill="#c91ac9"/><rect x="603.1" y="553.18" width="3.4" height="3.4" fill="#c91ac9"/>
<path d="M507 746.2 L507.2 744.73 L507.41 743.27 L507.61 741.8 L507.82 740.33 L508.03 738.86 L508.24 737.4 L508.45 735.93 L508.66 734.46 L508.87 733 L509.08 731.53 L509.29 730.07 L509.51 728.6 L509.72 727.13 L509.94 725.67 L510.15 724.2 L510.37 722.74 L510.59 721.27 L510.81 719.81 L511.02 718.34 L511.24 716.88 L511.46 715.41 L511.67 713.94 L511.89 712.48 L512.1 711.01 L512.32 709.55 L512.54 708.08 L512.77 706.62 L512.99 705.15 L513.22 703.69 L513.46 702.22 L513.69 700.76 L513.93 699.3 L514.18 697.84 L514.43 696.38 L514.69 694.93 L514.96 693.47 L515.23 692.01 L515.5 690.56 L515.78 689.1 L516.07 687.65 L516.36 686.19 L516.65 684.74 L516.95 683.29 L517.26 681.84 L517.56 680.39 L517.87 678.94 L518.19 677.49 L518.5 676.05 L518.82 674.6 L519.14 673.15 L519.47 671.71 L519.8 670.27 L520.13 668.82 L520.47 667.38 L520.82 665.94 L521.16 664.5 L521.51 663.06 L521.87 661.62 L522.23 660.18 L522.59 658.74 L522.96 657.31 L523.34 655.87 L523.71 654.44 L524.09 653.01 L524.48 651.58 L524.86 650.15 L525.25 648.72 L525.64 647.29 L526.03 645.85 L526.43 644.42 L526.83 642.99 L527.23 641.56 L527.64 640.13 L528.06 638.71 L528.49 637.29 L528.93 635.87 L529.38 634.46 L529.84 633.06 L530.32 631.66 L530.81 630.27 L531.32 628.89 L531.84 627.51 L532.39 626.14 L532.95 624.77 L533.54 623.41 L534.14 622.05 L534.76 620.7 L535.39 619.35 L536.04 618.01 L536.7 616.68 L537.38 615.35 L538.06 614.03 L538.75 612.72 L539.46 611.42 L540.16 610.12 L540.88 608.84 L541.62 607.56 L542.38 606.28 L543.15 605.01 L543.94 603.75 L544.75 602.49 L545.57 601.25 L546.42 600.03 L547.27 598.81 L548.14 597.62 L549.03 596.44 L549.93 595.28 L550.85 594.14 L551.79 593 L552.76 591.87 L553.74 590.76 L554.75 589.66 L555.76 588.57 L556.8 587.49 L557.84 586.43 L558.9 585.38 L559.97 584.35 L561.04 583.33 L562.12 582.33 L563.21 581.34 L564.32 580.37 L565.44 579.41 L566.58 578.47 L567.73 577.54 L568.89 576.63 L570.07 575.72 L571.25 574.82 L572.44 573.93 L573.64 573.05 L574.84 572.17 L576.05 571.3 L577.26 570.43 L578.47 569.57 L579.67 568.71 L580.88 567.84 L582.08 566.99 L583.29 566.13 L584.5 565.28 L585.72 564.43 L586.94 563.59 L588.17 562.75 L589.4 561.92 L590.63 561.1 L591.87 560.28 L593.11 559.47 L594.35 558.67 L595.6 557.88 L596.86 557.1 L598.12 556.32 L599.38 555.55 L600.65 554.79 L601.93 554.04 L603.21 553.3 L604.5 552.56 L605.79 551.84 L607.08 551.12 L608.39 550.4 L609.69 549.7 L611 549" stroke="#8c8c3c" stroke-width="2.0" fill="none" stroke-linejoin="round"/>
<path d="M519 676.01 L521.04 672.27 L516.96 672.27 Z" fill="#8c8c3c"/><path d="M532.2 628.83 L534.24 625.09 L530.16 625.09 Z" fill="#8c8c3c"/><path d="M545.4 603.73 L547.44 599.99 L543.36 599.99 Z" fill="#8c8c3c"/><path d="M558.6 587.89 L560.64 584.15 L556.56 584.15 Z" fill="#8c8c3c"/><path d="M571.8 576.62 L573.84 572.88 L569.76 572.88 Z" fill="#8c8c3c"/><path d="M585 567.14 L587.04 563.4 L582.96 563.4 Z" fill="#8c8c3c"/><path d="M598.2 558.48 L600.24 554.74 L596.16 554.74 Z" fill="#8c8c3c"/>
</g>
<rect x="452.8" y="551.3" width="265.2" height="194.7" stroke="#000" stroke-width="2.4" fill="none" stroke-linecap="square"/>
<path d="M452.8 560.4h5.2M452.8 606.8h5.2M452.8 653.2h5.2M452.8 699.6h5.2M452.8 746h5.2M452.8 583.6h3.2M452.8 630h3.2M452.8 676.4h3.2M452.8 722.8h3.2M718 746h-5.2M718 731.32h-3.2M718 722.74h-3.2M718 716.65h-3.2M718 711.93h-3.2M718 708.07h-3.2M718 704.8h-3.2M718 701.97h-3.2M718 699.48h-3.2M718 697.25h-5.2M718 682.57h-3.2M718 673.99h-3.2M718 667.9h-3.2M718 663.18h-3.2M718 659.32h-3.2M718 656.05h-3.2M718 653.22h-3.2M718 650.73h-3.2M718 648.5h-5.2M718 633.82h-3.2M718 625.24h-3.2M718 619.15h-3.2M718 614.43h-3.2M718 610.57h-3.2M718 607.3h-3.2M718 604.47h-3.2M718 601.98h-3.2M718 599.75h-5.2M718 585.07h-3.2M718 576.49h-3.2M718 570.4h-3.2M718 565.68h-3.2M718 561.82h-3.2M718 558.55h-3.2M718 555.72h-3.2M718 553.23h-3.2M453 746v-5.2M585.3 746v-5.2M717.8 746v-5.2M519.2 746v-3.2M651.6 746v-3.2" stroke="#000" stroke-width="2.1" fill="none"/>
<path d="M458.6 742.65 L460.4 745.95 L456.8 745.95 Z" fill="#1e90ff"/>
<path d="M471.9 742.65 L473.7 745.95 L470.1 745.95 Z" fill="#1e90ff"/>
<path d="M485.2 742.65 L487 745.95 L483.4 745.95 Z" fill="#1e90ff"/>
<path d="M498.5 742.65 L500.3 745.95 L496.7 745.95 Z" fill="#1e90ff"/>
<path d="M511.8 742.65 L513.6 745.95 L510 745.95 Z" fill="#1e90ff"/>
<text x="447.8" y="564.5" font-size="13.2" text-anchor="end" font-weight="bold" >4000</text>
<text x="447.8" y="610.9" font-size="13.2" text-anchor="end" font-weight="bold" >3000</text>
<text x="447.8" y="657.3" font-size="13.2" text-anchor="end" font-weight="bold" >2000</text>
<text x="447.8" y="703.7" font-size="13.2" text-anchor="end" font-weight="bold" >1000</text>
<text x="447.8" y="750.1" font-size="13.2" text-anchor="end" font-weight="bold" >0</text>
<text x="722" y="750.9" font-size="12.7" text-anchor="start" font-weight="bold" >10<tspan dy="-5.9" font-size="8.25">0</tspan></text>
<text x="722" y="702.15" font-size="12.7" text-anchor="start" font-weight="bold" >10<tspan dy="-5.9" font-size="8.25">1</tspan></text>
<text x="722" y="653.4" font-size="12.7" text-anchor="start" font-weight="bold" >10<tspan dy="-5.9" font-size="8.25">2</tspan></text>
<text x="722" y="604.65" font-size="12.7" text-anchor="start" font-weight="bold" >10<tspan dy="-5.9" font-size="8.25">3</tspan></text>
<text x="722" y="555.9" font-size="12.7" text-anchor="start" font-weight="bold" >10<tspan dy="-5.9" font-size="8.25">4</tspan></text>
<text x="451.1" y="761" font-size="13.2" text-anchor="middle" font-weight="bold" >2</text>
<text x="583.4" y="761" font-size="13.2" text-anchor="middle" font-weight="bold" >4</text>
<text x="715.9" y="761" font-size="13.2" text-anchor="middle" font-weight="bold" >6</text>
<text x="584.9" y="784.9" font-size="13.5" text-anchor="middle" font-weight="bold" >Voltage (V)</text>
<text transform="translate(404.5 658) rotate(-90)" font-size="13.25" text-anchor="middle" font-weight="bold">Current Density (A m<tspan dy="-5.5" font-size="9">-2</tspan><tspan dy="5.5">)</tspan></text>
<text transform="translate(757.6 657.8) rotate(-90)" font-size="13.25" text-anchor="middle" font-weight="bold">Luminance (cd m<tspan dy="-5.5" font-size="9">-2</tspan><tspan dy="5.5">)</tspan></text>
<text x="457.5" y="566.5" font-size="13.35"><tspan font-weight="normal">Emitter: </tspan><tspan font-weight="bold">Ir(ppy)<tspan dy="4.2" font-size="9">2</tspan><tspan dy="-4.2">acac</tspan></tspan></text>
<text x="561.8" y="621.1" font-size="13.35" text-anchor="start" font-weight="normal" >HML:</text>
<path d="M570.9 636.3 H585.7" stroke="#c91ac9" stroke-width="2" fill="none"/>
<rect x="576.3" y="634.3" width="4" height="4" fill="#c91ac9"/>
<text x="589.2" y="637.6" font-size="13.3" text-anchor="start" font-weight="bold" >3,3',6,6'-TDTA-SBF</text>
<path d="M570.9 652.9 H585.7" stroke="#128a12" stroke-width="2" fill="none"/>
<circle cx="578.3" cy="652.9" r="2.2" fill="#128a12"/>
<text x="589.2" y="654.2" font-size="13.3" text-anchor="start" font-weight="bold" >3,3'-DDTA-SBF</text>
<path d="M570.9 669.5 H585.7" stroke="#1e90ff" stroke-width="2" fill="none"/>
<path d="M578.3 666.9 L580.7 671.3 L575.9 671.3 Z" fill="#1e90ff"/>
<text x="589.2" y="670.9" font-size="13.3" text-anchor="start" font-weight="bold" >3,6-DDTA-SBF</text>
<path d="M570.9 686.3 H585.7" stroke="#8c8c3c" stroke-width="2" fill="none"/>
<path d="M578.3 688.9 L580.7 684.5 L575.9 684.5 Z" fill="#8c8c3c"/>
<text x="589.2" y="688.1" font-size="13.3" text-anchor="start" font-weight="bold" >TAPC</text>
<ellipse cx="524.5" cy="706.7" rx="16" ry="5.4" fill="none" stroke="#000" stroke-width="1.05"/>
<path d="M540.5 706.7 H555.7" stroke="#000" stroke-width="0.95" fill="none"/>
<path d="M555.7 706.7 l-4.6 -1.9 v3.8 Z" fill="#000"/>
<ellipse cx="683.4" cy="727.1" rx="5.5" ry="18" fill="none" stroke="#000" stroke-width="1.05"/>
<path d="M683.4 709 H667.3" stroke="#000" stroke-width="0.95" fill="none"/>
<path d="M667.3 709 l4.6 -1.9 v3.8 Z" fill="#000"/>
</g>
</svg></body></html>
